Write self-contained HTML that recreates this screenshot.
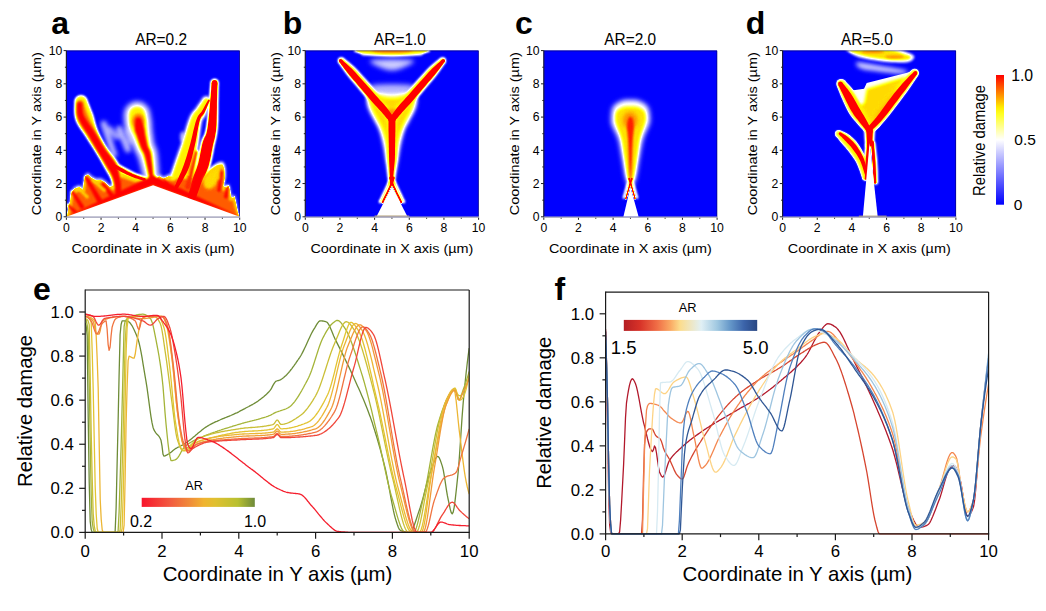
<!DOCTYPE html><html><head><meta charset="utf-8"><style>html,body{margin:0;padding:0;background:#fff;}svg{display:block;}text{font-family:"Liberation Sans",sans-serif;}</style></head><body>
<svg width="1046" height="611" viewBox="0 0 1046 611">
<rect width="1046" height="611" fill="#fff"/>
<defs>
<filter id="cm" filterUnits="userSpaceOnUse" x="0" y="0" width="1046" height="611" color-interpolation-filters="sRGB"><feGaussianBlur stdDeviation="0.6"/><feComponentTransfer><feFuncR type="table" tableValues="0.000 0.050 0.100 0.150 0.200 0.250 0.300 0.350 0.400 0.450 0.500 0.550 0.600 0.650 0.700 0.750 0.800 0.850 0.900 0.950 1.000 1.000 1.000 1.000 1.000 1.000 1.000 1.000 1.000 1.000 1.000 1.000 1.000 1.000 1.000 1.000 1.000 1.000 1.000 1.000 1.000"/><feFuncG type="table" tableValues="0.000 0.050 0.100 0.150 0.200 0.250 0.300 0.350 0.400 0.450 0.500 0.550 0.600 0.650 0.700 0.750 0.800 0.850 0.900 0.950 1.000 1.000 1.000 1.000 1.000 1.000 1.000 1.000 1.000 1.000 0.926 0.833 0.741 0.648 0.556 0.463 0.370 0.278 0.185 0.093 0.000"/><feFuncB type="table" tableValues="1.000 1.000 1.000 1.000 1.000 1.000 1.000 1.000 1.000 1.000 1.000 1.000 1.000 1.000 1.000 1.000 1.000 1.000 1.000 1.000 1.000 0.891 0.783 0.674 0.565 0.457 0.348 0.239 0.130 0.022 0.000 0.000 0.000 0.000 0.000 0.000 0.000 0.000 0.000 0.000 0.000"/></feComponentTransfer></filter>
<filter id="b0_6" filterUnits="userSpaceOnUse" x="0" y="0" width="1046" height="611" color-interpolation-filters="sRGB"><feGaussianBlur stdDeviation="0.6"/></filter>
<filter id="b0_7" filterUnits="userSpaceOnUse" x="0" y="0" width="1046" height="611" color-interpolation-filters="sRGB"><feGaussianBlur stdDeviation="0.7"/></filter>
<filter id="b0_8" filterUnits="userSpaceOnUse" x="0" y="0" width="1046" height="611" color-interpolation-filters="sRGB"><feGaussianBlur stdDeviation="0.8"/></filter>
<filter id="b0_9" filterUnits="userSpaceOnUse" x="0" y="0" width="1046" height="611" color-interpolation-filters="sRGB"><feGaussianBlur stdDeviation="0.9"/></filter>
<filter id="b1" filterUnits="userSpaceOnUse" x="0" y="0" width="1046" height="611" color-interpolation-filters="sRGB"><feGaussianBlur stdDeviation="1"/></filter>
<filter id="b1_0" filterUnits="userSpaceOnUse" x="0" y="0" width="1046" height="611" color-interpolation-filters="sRGB"><feGaussianBlur stdDeviation="1.0"/></filter>
<filter id="b1_2" filterUnits="userSpaceOnUse" x="0" y="0" width="1046" height="611" color-interpolation-filters="sRGB"><feGaussianBlur stdDeviation="1.2"/></filter>
<filter id="b1_3" filterUnits="userSpaceOnUse" x="0" y="0" width="1046" height="611" color-interpolation-filters="sRGB"><feGaussianBlur stdDeviation="1.3"/></filter>
<filter id="b1_4" filterUnits="userSpaceOnUse" x="0" y="0" width="1046" height="611" color-interpolation-filters="sRGB"><feGaussianBlur stdDeviation="1.4"/></filter>
<filter id="b1_5" filterUnits="userSpaceOnUse" x="0" y="0" width="1046" height="611" color-interpolation-filters="sRGB"><feGaussianBlur stdDeviation="1.5"/></filter>
<filter id="b1_6" filterUnits="userSpaceOnUse" x="0" y="0" width="1046" height="611" color-interpolation-filters="sRGB"><feGaussianBlur stdDeviation="1.6"/></filter>
<filter id="b1_8" filterUnits="userSpaceOnUse" x="0" y="0" width="1046" height="611" color-interpolation-filters="sRGB"><feGaussianBlur stdDeviation="1.8"/></filter>
<filter id="b2_0" filterUnits="userSpaceOnUse" x="0" y="0" width="1046" height="611" color-interpolation-filters="sRGB"><feGaussianBlur stdDeviation="2.0"/></filter>
<filter id="b2_2" filterUnits="userSpaceOnUse" x="0" y="0" width="1046" height="611" color-interpolation-filters="sRGB"><feGaussianBlur stdDeviation="2.2"/></filter>
<filter id="b2_5" filterUnits="userSpaceOnUse" x="0" y="0" width="1046" height="611" color-interpolation-filters="sRGB"><feGaussianBlur stdDeviation="2.5"/></filter>
<filter id="b2_6" filterUnits="userSpaceOnUse" x="0" y="0" width="1046" height="611" color-interpolation-filters="sRGB"><feGaussianBlur stdDeviation="2.6"/></filter>
<filter id="b3_0" filterUnits="userSpaceOnUse" x="0" y="0" width="1046" height="611" color-interpolation-filters="sRGB"><feGaussianBlur stdDeviation="3.0"/></filter>
<filter id="b3_2" filterUnits="userSpaceOnUse" x="0" y="0" width="1046" height="611" color-interpolation-filters="sRGB"><feGaussianBlur stdDeviation="3.2"/></filter>
<linearGradient id="cbar" x1="0" y1="0" x2="0" y2="1"><stop offset="0.000" stop-color="rgb(255,0,0)"/><stop offset="0.050" stop-color="rgb(255,47,0)"/><stop offset="0.100" stop-color="rgb(255,94,0)"/><stop offset="0.150" stop-color="rgb(255,141,0)"/><stop offset="0.200" stop-color="rgb(255,188,0)"/><stop offset="0.250" stop-color="rgb(255,236,0)"/><stop offset="0.300" stop-color="rgb(255,255,33)"/><stop offset="0.350" stop-color="rgb(255,255,88)"/><stop offset="0.400" stop-color="rgb(255,255,144)"/><stop offset="0.450" stop-color="rgb(255,255,199)"/><stop offset="0.500" stop-color="rgb(255,255,255)"/><stop offset="0.550" stop-color="rgb(229,229,255)"/><stop offset="0.600" stop-color="rgb(203,203,255)"/><stop offset="0.650" stop-color="rgb(178,178,255)"/><stop offset="0.700" stop-color="rgb(152,152,255)"/><stop offset="0.750" stop-color="rgb(127,127,255)"/><stop offset="0.800" stop-color="rgb(101,101,255)"/><stop offset="0.850" stop-color="rgb(76,76,255)"/><stop offset="0.900" stop-color="rgb(50,50,255)"/><stop offset="0.950" stop-color="rgb(25,25,255)"/><stop offset="1.000" stop-color="rgb(0,0,255)"/></linearGradient>
</defs>
<clipPath id="clip0"><rect x="66.4" y="50.6" width="173.3" height="166.20000000000002"/></clipPath>
<g clip-path="url(#clip0)">
<rect x="66.4" y="50.6" width="173.3" height="166.20000000000002" fill="#0000ff"/>
<g filter="url(#cm)">
<rect x="54.400000000000006" y="38.6" width="197.3" height="190.20000000000002" fill="#000"/>
<g filter="url(#b2_0)"><path d="M100.8,124.7 L102.5,129.8 L104.3,134.9 L106.0,140.1 L107.7,145.2 L109.5,150.3 L111.2,155.4 L116.9,153.5 L115.2,148.4 L113.5,143.3 L111.7,138.1 L110.0,133.0 L108.3,127.9 L106.5,122.8Z" fill="rgb(92,92,92)"/><circle cx="103.7" cy="123.7" r="3.0" fill="rgb(92,92,92)"/><circle cx="114.1" cy="154.5" r="3.0" fill="rgb(92,92,92)"/><path d="M107.7,130.4 L108.9,131.8 L110.0,133.1 L111.2,134.5 L112.4,135.9 L113.5,137.3 L114.7,138.7 L118.7,135.4 L117.5,134.0 L116.3,132.6 L115.2,131.2 L114.0,129.8 L112.9,128.4 L111.7,127.0Z" fill="rgb(84,84,84)"/><circle cx="109.7" cy="128.7" r="2.6" fill="rgb(84,84,84)"/><circle cx="116.7" cy="137.0" r="2.6" fill="rgb(84,84,84)"/><path d="M116.5,129.9 L117.9,133.3 L119.3,136.8 L120.8,140.3 L122.2,143.7 L123.7,147.2 L125.1,150.7 L130.7,148.3 L129.3,144.9 L127.8,141.4 L126.4,137.9 L124.9,134.5 L123.5,131.0 L122.1,127.5Z" fill="rgb(94,94,94)"/><circle cx="119.3" cy="128.7" r="3.0" fill="rgb(94,94,94)"/><circle cx="127.9" cy="149.5" r="3.0" fill="rgb(94,94,94)"/><path d="M125.4,131.1 L126.0,133.1 L126.6,135.0 L127.2,136.9 L127.7,138.9 L128.3,140.8 L128.9,142.8 L133.9,141.3 L133.3,139.3 L132.7,137.4 L132.1,135.5 L131.6,133.5 L131.0,131.6 L130.4,129.6Z" fill="rgb(76,76,76)"/><circle cx="127.9" cy="130.4" r="2.6" fill="rgb(76,76,76)"/><circle cx="131.4" cy="142.0" r="2.6" fill="rgb(76,76,76)"/></g>
<g filter="url(#b1_5)"><ellipse cx="182.5" cy="137.0" rx="2.6" ry="5.8" fill="rgb(84,84,84)"/><path d="M193.6,145.0 L192.7,148.1 L191.9,151.1 L191.0,154.2 L190.1,157.2 L189.2,160.2 L188.3,163.3 L190.6,163.9 L191.4,160.9 L192.3,157.8 L193.1,154.8 L194.0,151.7 L194.8,148.7 L195.6,145.6Z" fill="rgb(115,115,115)"/><circle cx="194.6" cy="145.3" r="1.0" fill="rgb(115,115,115)"/><circle cx="189.4" cy="163.6" r="1.2" fill="rgb(115,115,115)"/></g>
<g filter="url(#b1_6)"><polygon points="66.4,216.8 67.3,211.8 68.5,205.2 69.9,200.2 70.7,192.7 74.2,186.9 79.4,185.2 82.9,187.7 83.7,180.2 85.1,174.4 88.1,172.8 91.5,176.1 95.9,178.6 101.1,178.2 105.4,181.1 109.7,185.2 114.1,183.6 120.1,171.1 128.8,174.4 135.7,176.6 142.7,176.9 147.9,178.6 154.8,178.6 159.1,174.4 163.4,176.9 168.6,174.4 173.8,175.2 179.0,171.9 187.7,173.6 198.1,180.2 203.3,176.9 210.2,168.6 217.2,163.6 222.4,162.8 224.4,166.9 225.0,176.9 223.2,184.4 226.7,186.1 228.4,183.6 230.2,188.5 231.0,195.2 233.1,196.0 234.5,194.4 236.2,201.8 238.0,211.0 239.7,216.0 239.7,216.8 153.1,191.9" fill="rgb(110,110,110)"/></g>
<g filter="url(#b0_9)"><path d="M74.5,102.8 L74.5,104.5 L74.3,106.8 L74.3,109.8 L74.4,113.1 L74.8,116.5 L75.6,119.9 L76.9,123.1 L78.5,126.0 L80.3,128.8 L82.2,131.5 L84.1,134.2 L85.9,136.9 L87.6,139.6 L89.4,142.4 L91.2,145.2 L93.0,148.0 L94.7,150.8 L96.4,153.5 L98.2,156.4 L99.9,159.3 L101.5,162.2 L103.0,164.9 L104.4,167.4 L105.6,169.6 L106.7,171.6 L107.8,173.4 L108.8,175.1 L109.7,176.7 L110.4,178.3 L111.1,180.0 L111.6,181.8 L112.1,184.1 L112.5,186.4 L112.8,188.7 L113.0,190.7 L113.2,192.2 L123.6,191.5 L123.6,190.1 L123.6,188.1 L123.6,185.6 L123.5,182.8 L123.3,179.9 L122.9,177.2 L122.4,174.6 L121.8,172.3 L121.1,169.9 L120.3,167.5 L119.3,165.1 L118.0,162.6 L116.4,160.0 L114.5,157.4 L112.5,154.8 L110.4,152.2 L108.5,149.7 L106.7,147.1 L105.1,144.4 L103.5,141.7 L101.9,138.9 L100.4,136.1 L99.1,133.3 L97.9,130.5 L96.8,127.7 L95.8,124.7 L95.0,121.9 L94.3,119.1 L93.6,116.5 L92.9,114.2 L92.0,112.0 L91.0,109.5 L90.0,106.8 L89.0,104.3 L88.1,102.1 L87.4,100.4Z" fill="rgb(115,115,115)"/><circle cx="81.0" cy="101.6" r="6.6" fill="rgb(115,115,115)"/><circle cx="118.4" cy="191.9" r="5.2" fill="rgb(115,115,115)"/><path d="M111.4,168.4 L112.5,169.1 L114.1,170.0 L115.9,171.1 L118.0,172.2 L120.0,173.3 L121.9,174.3 L123.7,175.2 L125.5,176.0 L127.3,176.9 L129.1,177.7 L130.9,178.4 L132.8,179.1 L134.8,179.8 L136.9,180.4 L138.9,181.0 L140.8,181.5 L142.4,181.9 L143.5,182.2 L145.2,176.6 L144.1,176.2 L142.5,175.7 L140.7,175.1 L138.8,174.4 L136.9,173.7 L135.2,173.0 L133.6,172.3 L132.0,171.5 L130.3,170.6 L128.7,169.7 L127.0,168.8 L125.3,167.9 L123.5,166.9 L121.5,165.8 L119.5,164.7 L117.7,163.6 L116.1,162.8 L115.0,162.1Z" fill="rgb(115,115,115)"/><circle cx="113.2" cy="165.3" r="3.6" fill="rgb(115,115,115)"/><circle cx="144.4" cy="179.4" r="2.9" fill="rgb(115,115,115)"/></g>
<g filter="url(#b2_6)"><path d="M124.2,116.0 L124.2,117.0 L124.2,118.5 L124.3,120.4 L124.4,122.5 L124.7,124.8 L125.1,127.0 L125.7,129.1 L126.4,131.0 L127.2,132.7 L128.1,134.4 L128.9,136.0 L129.6,137.6 L130.4,139.4 L131.3,141.5 L132.1,143.7 L133.0,146.0 L133.9,148.2 L134.8,150.3 L135.8,152.5 L136.8,154.3 L137.4,155.3 L137.6,155.5 L137.8,155.9 L138.2,156.9 L138.9,159.2 L139.8,162.3 L140.7,165.8 L141.6,169.5 L142.4,172.8 L143.0,175.5 L143.5,177.6 L143.9,179.2 L144.2,180.5 L144.4,181.5 L144.6,182.4 L144.7,183.1 L159.6,180.7 L159.6,180.0 L159.5,179.2 L159.4,178.1 L159.3,176.7 L159.1,175.0 L158.9,173.0 L158.7,170.3 L158.5,166.9 L158.2,163.1 L157.9,159.2 L157.6,155.6 L157.1,152.4 L156.5,149.6 L155.6,147.2 L154.7,145.5 L154.2,144.6 L154.1,144.3 L154.0,143.6 L153.7,142.2 L153.4,140.2 L153.1,138.1 L152.8,135.8 L152.5,133.6 L152.2,131.5 L152.0,129.5 L151.8,127.7 L151.7,126.0 L151.7,124.6 L151.6,123.3 L151.5,122.1 L151.4,120.8 L151.1,119.2 L150.8,117.5 L150.5,115.9 L150.2,114.3 L150.0,113.2Z" fill="rgb(115,115,115)"/><circle cx="137.1" cy="114.6" r="13.0" fill="rgb(115,115,115)"/><circle cx="152.2" cy="181.9" r="7.5" fill="rgb(115,115,115)"/></g>
<g filter="url(#b0_8)"><path d="M210.4,82.8 L210.3,84.5 L210.1,86.8 L209.9,89.5 L209.7,92.5 L209.4,95.8 L209.1,99.2 L208.8,103.0 L208.4,107.3 L208.0,111.8 L207.5,116.2 L207.1,120.3 L206.7,123.6 L206.4,126.1 L206.1,128.1 L205.8,129.7 L205.5,131.1 L205.1,132.5 L204.7,133.9 L204.2,135.1 L203.8,136.0 L203.2,137.0 L202.5,138.5 L201.7,140.4 L200.9,142.9 L200.2,145.9 L199.5,149.3 L198.8,153.0 L198.1,156.7 L197.4,160.1 L196.6,163.0 L195.9,165.5 L195.1,167.8 L194.2,170.2 L193.2,172.6 L192.2,175.3 L191.3,178.1 L190.4,181.2 L189.5,184.5 L188.7,187.8 L187.9,190.9 L187.3,193.4 L186.8,195.3 L197.3,198.4 L197.9,196.6 L198.8,194.1 L199.9,191.2 L201.0,188.1 L202.1,185.1 L203.2,182.4 L204.2,180.1 L205.3,177.9 L206.5,175.5 L207.7,172.9 L208.9,170.1 L210.0,166.9 L210.9,163.3 L211.8,159.5 L212.6,155.7 L213.3,152.0 L213.9,148.7 L214.4,146.1 L214.8,144.3 L215.1,142.9 L215.4,141.7 L215.7,140.3 L216.1,138.7 L216.5,136.8 L216.8,135.0 L217.1,133.4 L217.3,131.6 L217.6,129.6 L217.8,127.3 L217.9,124.5 L218.1,121.0 L218.1,116.8 L218.2,112.3 L218.2,107.8 L218.2,103.5 L218.3,99.7 L218.4,96.3 L218.4,93.0 L218.5,89.9 L218.6,87.2 L218.7,84.9 L218.7,83.2Z" fill="rgb(115,115,115)"/><circle cx="214.6" cy="83.0" r="4.2" fill="rgb(115,115,115)"/><circle cx="192.0" cy="196.9" r="5.5" fill="rgb(115,115,115)"/></g>
<g filter="url(#b1_4)"><path d="M202.2,98.5 L201.4,99.7 L200.3,101.4 L199.0,103.3 L197.6,105.3 L196.3,107.2 L195.3,108.6 L194.7,109.4 L194.1,109.9 L193.1,110.9 L191.7,112.7 L190.3,115.0 L189.0,117.9 L187.7,121.5 L186.4,125.6 L185.1,129.9 L183.8,134.4 L182.6,138.6 L181.4,142.4 L180.2,146.0 L179.0,149.5 L177.8,152.8 L176.7,156.0 L175.6,159.0 L174.7,161.6 L173.9,164.0 L173.1,166.2 L172.4,168.4 L171.6,170.6 L170.9,172.7 L170.2,174.7 L169.7,176.5 L169.1,178.3 L168.7,179.9 L168.3,181.3 L167.9,182.6 L167.6,183.5 L180.1,190.2 L180.7,189.5 L181.6,188.5 L182.6,187.3 L183.7,185.8 L185.0,184.2 L186.1,182.4 L187.3,180.7 L188.5,178.8 L189.9,176.6 L191.3,174.1 L192.6,171.4 L193.8,168.3 L194.8,165.0 L195.7,161.6 L196.5,158.0 L197.2,154.3 L197.9,150.5 L198.6,146.6 L199.2,142.3 L199.8,137.7 L200.4,133.1 L200.9,128.8 L201.5,125.0 L202.0,122.2 L202.5,120.5 L202.8,119.8 L203.1,119.3 L203.8,118.4 L205.0,116.9 L206.1,114.9 L207.0,112.7 L207.8,110.3 L208.6,107.9 L209.3,105.6 L209.9,103.8 L210.3,102.4Z" fill="rgb(115,115,115)"/><circle cx="206.3" cy="100.5" r="4.5" fill="rgb(115,115,115)"/><circle cx="173.8" cy="186.9" r="7.1" fill="rgb(115,115,115)"/></g>
<g filter="url(#b1_6)"><path d="M194.6,183.6 C194.6,179.7 204.8,173.6 208.5,170.3 C212.3,166.9 214.9,165.0 217.2,163.6 C219.5,162.2 221.1,161.4 222.4,162.0 C223.7,162.5 224.5,164.2 225.0,166.9 C225.4,169.7 225.7,174.7 225.0,178.6 C224.2,182.5 223.4,187.7 220.6,190.2 C217.9,192.7 212.8,194.6 208.5,193.5 C204.2,192.4 194.6,187.4 194.6,183.6Z" fill="rgb(115,115,115)"/></g>
<g filter="url(#b1_1)"><polygon points="66.4,218.5 67.3,213.5 68.5,206.8 69.9,201.8 70.7,194.4 74.2,188.5 79.4,186.9 82.9,189.4 83.7,181.9 85.1,176.1 88.1,174.4 91.5,177.7 95.9,180.2 101.1,179.9 105.4,182.7 109.7,186.9 114.1,185.2 120.1,172.8 128.8,176.1 135.7,178.2 142.7,178.6 147.9,180.2 154.8,180.2 159.1,176.1 163.4,178.6 168.6,176.1 173.8,176.9 179.0,173.6 187.7,175.2 198.1,181.9 203.3,178.6 210.2,170.3 217.2,165.3 222.4,164.4 224.4,168.6 225.0,178.6 223.2,186.1 226.7,187.7 228.4,185.2 230.2,190.2 231.0,196.9 233.1,197.7 234.5,196.0 236.2,203.5 238.0,212.6 239.7,217.6 239.7,218.5 153.1,191.9" fill="rgb(199,199,199)"/></g>
<g filter="url(#b1_0)"><path d="M75.3,102.7 L75.3,104.3 L75.2,106.7 L75.1,109.6 L75.2,112.9 L75.6,116.3 L76.4,119.7 L77.7,122.7 L79.3,125.6 L81.1,128.4 L83.0,131.1 L84.9,133.8 L86.7,136.4 L88.4,139.2 L90.2,142.0 L92.0,144.8 L93.7,147.6 L95.5,150.3 L97.2,153.1 L98.9,155.9 L100.6,158.8 L102.2,161.7 L103.7,164.4 L105.1,166.9 L106.4,169.2 L107.5,171.2 L108.6,173.1 L109.6,174.8 L110.5,176.4 L111.3,178.1 L111.9,179.8 L112.5,181.7 L113.0,184.0 L113.3,186.4 L113.6,188.7 L113.9,190.7 L114.1,192.2 L122.7,191.6 L122.7,190.1 L122.7,188.1 L122.7,185.6 L122.6,182.9 L122.4,180.1 L122.1,177.4 L121.6,174.9 L121.0,172.6 L120.3,170.2 L119.5,167.9 L118.5,165.5 L117.3,163.1 L115.6,160.5 L113.8,157.8 L111.7,155.3 L109.7,152.7 L107.7,150.1 L106.0,147.6 L104.3,144.9 L102.7,142.1 L101.2,139.3 L99.7,136.5 L98.3,133.8 L97.1,131.0 L96.0,128.1 L95.1,125.1 L94.2,122.2 L93.5,119.4 L92.8,116.8 L92.1,114.5 L91.2,112.2 L90.2,109.7 L89.1,107.0 L88.1,104.5 L87.2,102.2 L86.6,100.6Z" fill="rgb(189,189,189)"/><circle cx="81.0" cy="101.6" r="5.7" fill="rgb(189,189,189)"/><circle cx="118.4" cy="191.9" r="4.3" fill="rgb(189,189,189)"/><path d="M111.7,167.8 L112.9,168.5 L114.4,169.4 L116.3,170.5 L118.3,171.6 L120.3,172.7 L122.2,173.7 L124.0,174.6 L125.8,175.4 L127.6,176.3 L129.4,177.0 L131.2,177.8 L133.0,178.5 L135.0,179.2 L137.1,179.8 L139.1,180.4 L141.0,180.9 L142.6,181.3 L143.7,181.6 L145.0,177.2 L143.9,176.9 L142.4,176.4 L140.5,175.8 L138.6,175.1 L136.7,174.4 L134.9,173.7 L133.3,172.9 L131.7,172.1 L130.0,171.2 L128.3,170.3 L126.7,169.4 L125.0,168.5 L123.2,167.5 L121.2,166.4 L119.2,165.3 L117.4,164.2 L115.8,163.4 L114.6,162.7Z" fill="rgb(189,189,189)"/><circle cx="113.2" cy="165.3" r="2.9" fill="rgb(189,189,189)"/><circle cx="144.4" cy="179.4" r="2.3" fill="rgb(189,189,189)"/></g>
<g filter="url(#b1_6)"><path d="M128.9,115.5 L129.0,116.5 L129.0,118.0 L129.0,119.9 L129.2,121.9 L129.4,124.1 L129.8,126.2 L130.4,128.1 L131.1,129.8 L131.8,131.5 L132.6,133.1 L133.5,134.7 L134.2,136.3 L135.0,138.2 L135.9,140.3 L136.7,142.5 L137.6,144.7 L138.5,146.8 L139.3,148.8 L140.2,150.6 L141.0,152.0 L141.6,152.9 L141.9,153.5 L142.3,154.3 L142.9,155.8 L143.6,158.2 L144.5,161.5 L145.4,165.1 L146.3,168.7 L147.1,172.1 L147.7,174.8 L148.2,176.8 L148.6,178.4 L148.9,179.8 L149.1,180.8 L149.3,181.6 L149.4,182.3 L154.9,181.5 L154.9,180.8 L154.8,179.9 L154.7,178.8 L154.6,177.5 L154.4,175.8 L154.2,173.7 L154.0,171.0 L153.8,167.6 L153.5,163.8 L153.2,160.0 L152.9,156.5 L152.5,153.5 L151.9,151.1 L151.2,149.2 L150.5,147.8 L150.0,146.9 L149.7,146.3 L149.5,145.2 L149.1,143.6 L148.8,141.5 L148.5,139.3 L148.2,137.1 L147.9,134.8 L147.6,132.7 L147.4,130.8 L147.2,129.0 L147.1,127.3 L147.0,125.8 L147.0,124.3 L146.8,123.0 L146.6,121.5 L146.4,119.8 L146.1,118.0 L145.8,116.3 L145.5,114.8 L145.3,113.7Z" fill="rgb(189,189,189)"/><circle cx="137.1" cy="114.6" r="8.2" fill="rgb(189,189,189)"/><circle cx="152.2" cy="181.9" r="2.8" fill="rgb(189,189,189)"/></g>
<g filter="url(#b1)"><path d="M211.1,82.8 L211.0,84.5 L210.8,86.8 L210.6,89.5 L210.4,92.6 L210.1,95.9 L209.8,99.3 L209.5,103.0 L209.1,107.3 L208.7,111.9 L208.2,116.3 L207.8,120.3 L207.4,123.6 L207.1,126.2 L206.7,128.2 L206.5,129.8 L206.1,131.2 L205.8,132.6 L205.4,134.1 L204.9,135.3 L204.4,136.2 L203.8,137.3 L203.1,138.7 L202.3,140.6 L201.6,143.0 L200.9,146.0 L200.2,149.5 L199.5,153.1 L198.7,156.8 L198.0,160.3 L197.3,163.2 L196.6,165.7 L195.7,168.1 L194.8,170.4 L193.9,172.9 L192.9,175.5 L191.9,178.3 L191.0,181.4 L190.2,184.7 L189.3,188.0 L188.6,191.1 L187.9,193.6 L187.5,195.5 L196.6,198.2 L197.3,196.4 L198.1,193.9 L199.2,191.0 L200.3,187.9 L201.5,184.8 L202.5,182.1 L203.6,179.8 L204.7,177.6 L205.8,175.2 L207.0,172.7 L208.2,169.8 L209.3,166.7 L210.3,163.2 L211.1,159.4 L211.9,155.5 L212.6,151.9 L213.2,148.6 L213.7,146.0 L214.1,144.1 L214.4,142.7 L214.7,141.4 L215.1,140.1 L215.4,138.5 L215.8,136.6 L216.1,134.9 L216.4,133.2 L216.6,131.5 L216.9,129.6 L217.1,127.3 L217.2,124.5 L217.4,121.0 L217.4,116.8 L217.5,112.3 L217.5,107.8 L217.5,103.5 L217.6,99.7 L217.7,96.3 L217.8,93.0 L217.8,89.9 L217.9,87.2 L218.0,84.9 L218.0,83.2Z" fill="rgb(189,189,189)"/><circle cx="214.6" cy="83.0" r="3.5" fill="rgb(189,189,189)"/><circle cx="192.0" cy="196.9" r="4.8" fill="rgb(189,189,189)"/><path d="M203.9,99.3 L203.1,100.5 L202.0,102.2 L200.7,104.1 L199.3,106.1 L198.0,108.1 L197.0,109.6 L196.2,110.5 L195.5,111.1 L194.5,112.1 L193.3,113.7 L192.0,115.8 L190.8,118.5 L189.6,122.0 L188.3,126.0 L187.0,130.3 L185.7,134.8 L184.4,139.0 L183.2,142.9 L182.0,146.4 L180.8,150.0 L179.6,153.3 L178.5,156.5 L177.4,159.5 L176.5,162.2 L175.6,164.7 L174.8,167.0 L174.1,169.2 L173.3,171.4 L172.6,173.5 L171.9,175.5 L171.4,177.4 L170.8,179.1 L170.4,180.8 L169.9,182.2 L169.6,183.5 L169.3,184.4 L178.4,189.3 L179.0,188.6 L179.9,187.6 L180.9,186.4 L182.1,185.0 L183.3,183.3 L184.4,181.6 L185.6,179.9 L186.8,178.0 L188.2,175.8 L189.5,173.4 L190.8,170.7 L192.0,167.7 L193.0,164.4 L193.9,161.0 L194.6,157.5 L195.3,153.8 L196.0,150.0 L196.7,146.1 L197.4,141.9 L198.0,137.3 L198.5,132.7 L199.1,128.4 L199.6,124.5 L200.2,121.6 L200.7,119.8 L201.2,118.7 L201.7,118.0 L202.4,117.2 L203.4,115.8 L204.5,113.9 L205.3,111.8 L206.1,109.5 L206.9,107.1 L207.6,104.8 L208.2,102.9 L208.6,101.6Z" fill="rgb(189,189,189)"/><circle cx="206.3" cy="100.5" r="2.6" fill="rgb(189,189,189)"/><circle cx="173.8" cy="186.9" r="5.2" fill="rgb(189,189,189)"/></g>
<g filter="url(#b1_2)"><path d="M196.4,183.6 C196.4,180.1 205.0,174.8 208.5,171.9 C212.0,169.0 214.9,167.4 217.2,166.1 C219.4,164.9 221.0,164.0 222.0,164.4 C223.0,164.9 223.0,166.2 223.2,168.6 C223.4,171.0 223.8,175.0 223.2,178.6 C222.7,182.2 222.2,187.9 219.8,190.2 C217.3,192.6 212.4,193.8 208.5,192.7 C204.6,191.6 196.4,187.0 196.4,183.6Z" fill="rgb(199,199,199)"/><path d="M76.8,104.2 L76.8,105.6 L76.6,107.5 L76.5,110.0 L76.5,112.8 L76.9,115.9 L77.7,119.0 L79.0,122.0 L80.6,124.9 L82.4,127.7 L84.3,130.5 L86.2,133.3 L88.0,135.9 L89.6,138.7 L91.3,141.4 L93.1,144.2 L94.8,146.9 L96.5,149.7 L98.2,152.4 L100.0,155.3 L101.9,158.4 L103.8,161.5 L105.6,164.4 L107.1,166.8 L108.2,168.5 L115.4,163.7 L114.3,162.0 L112.7,159.7 L110.8,157.0 L108.7,154.0 L106.7,151.0 L105.0,148.2 L103.4,145.5 L101.8,142.8 L100.3,140.0 L98.8,137.1 L97.3,134.3 L95.8,131.5 L94.2,128.5 L92.7,125.5 L91.2,122.6 L89.9,119.9 L88.7,117.3 L87.7,115.2 L86.9,113.2 L86.1,111.0 L85.3,108.8 L84.7,106.7 L84.1,104.8 L83.7,103.3Z" fill="rgb(224,224,224)"/><circle cx="80.3" cy="103.8" r="3.5" fill="rgb(224,224,224)"/><circle cx="111.8" cy="166.1" r="4.3" fill="rgb(224,224,224)"/></g>
<g filter="url(#b1_8)"><ellipse cx="138.3" cy="121.2" rx="6.1" ry="7.5" fill="rgb(224,224,224)"/></g>
<g filter="url(#b1_3)"><polygon points="67.3,216.8 68.5,222.1 69.3,217.1 70.6,210.5 71.9,205.5 72.8,198.0 76.3,192.2 81.5,190.5 84.9,193.0 85.8,185.6 87.2,179.7 90.1,178.1 93.6,181.4 97.9,183.9 103.1,183.6 107.5,186.4 111.8,190.5 116.1,188.9 120.1,176.9 128.8,180.2 135.7,182.4 142.7,182.7 147.9,184.4 154.8,184.4 159.1,180.2 163.4,182.7 168.6,180.2 173.8,181.1 179.0,177.7 187.7,179.4 198.1,186.1 201.6,182.2 208.5,173.9 215.4,168.9 220.6,168.1 222.7,172.3 223.2,182.2 221.5,189.7 225.0,191.4 226.7,188.9 228.4,193.9 229.3,200.5 231.4,201.3 232.8,199.7 234.5,207.2 238.0,216.8" fill="rgb(230,230,230)"/></g>
<g filter="url(#b0_8)"><path d="M77.0,104.8 L77.0,106.0 L77.0,107.8 L77.0,110.0 L77.1,112.6 L77.6,115.4 L78.4,118.2 L79.7,121.1 L81.3,124.0 L83.1,126.9 L85.0,129.9 L86.9,132.7 L88.6,135.5 L90.2,138.3 L91.8,141.0 L93.4,143.8 L95.0,146.6 L96.7,149.4 L98.3,152.3 L100.0,155.1 L101.8,158.0 L103.5,160.8 L105.1,163.5 L106.6,166.0 L107.9,168.3 L109.0,170.3 L110.0,172.2 L110.9,174.0 L111.7,175.7 L112.5,177.5 L113.1,179.4 L113.7,181.5 L114.2,183.9 L114.6,186.3 L114.9,188.7 L115.2,190.7 L115.4,192.2 L121.4,191.6 L121.3,190.1 L121.2,188.1 L121.1,185.7 L120.9,183.0 L120.6,180.3 L120.2,177.7 L119.7,175.4 L119.2,173.2 L118.7,171.0 L117.9,168.7 L117.0,166.4 L115.8,163.9 L114.2,161.3 L112.3,158.7 L110.3,156.1 L108.3,153.5 L106.3,150.9 L104.5,148.4 L102.8,145.7 L101.1,143.0 L99.5,140.3 L97.9,137.5 L96.2,134.7 L94.5,131.9 L92.6,129.0 L90.6,126.1 L88.7,123.3 L86.9,120.6 L85.3,118.1 L84.2,115.9 L83.4,113.9 L82.9,111.7 L82.6,109.6 L82.4,107.6 L82.3,105.8 L82.2,104.4Z" fill="rgb(255,255,255)"/><circle cx="79.6" cy="104.6" r="2.6" fill="rgb(255,255,255)"/><circle cx="118.4" cy="191.9" r="3.0" fill="rgb(255,255,255)"/></g>
<g filter="url(#b0_7)"><path d="M112.3,166.8 L113.4,167.5 L115.0,168.4 L116.9,169.4 L118.9,170.6 L120.9,171.7 L122.8,172.7 L124.5,173.5 L126.3,174.4 L128.1,175.3 L129.8,176.1 L131.6,176.8 L133.4,177.5 L135.3,178.2 L137.4,178.8 L139.4,179.4 L141.3,180.0 L142.9,180.4 L144.0,180.7 L144.8,178.1 L143.6,177.7 L142.1,177.3 L140.3,176.7 L138.3,176.0 L136.3,175.3 L134.6,174.6 L132.9,173.9 L131.2,173.1 L129.5,172.2 L127.8,171.4 L126.1,170.4 L124.4,169.5 L122.6,168.5 L120.6,167.4 L118.6,166.3 L116.8,165.3 L115.2,164.4 L114.1,163.7Z" fill="rgb(255,255,255)"/><circle cx="113.2" cy="165.3" r="1.8" fill="rgb(255,255,255)"/><circle cx="144.4" cy="179.4" r="1.4" fill="rgb(255,255,255)"/></g>
<g filter="url(#b0_9)"><path d="M135.3,120.8 L135.2,121.8 L135.1,123.1 L135.0,124.7 L134.8,126.4 L134.8,128.1 L134.8,129.6 L135.0,130.7 L135.2,131.6 L135.5,132.5 L135.9,133.3 L136.3,134.4 L136.7,135.6 L137.3,137.3 L138.0,139.4 L138.8,141.7 L139.6,144.0 L140.4,146.2 L141.1,148.1 L141.9,149.8 L142.6,151.1 L143.2,152.0 L143.6,152.8 L144.1,153.7 L144.6,155.4 L145.3,157.9 L146.1,161.2 L146.8,164.9 L147.6,168.5 L148.3,171.9 L148.8,174.6 L149.3,176.6 L149.6,178.3 L149.9,179.6 L150.1,180.6 L150.3,181.5 L150.5,182.2 L153.9,181.6 L153.8,180.9 L153.8,180.1 L153.7,179.0 L153.5,177.7 L153.3,176.0 L153.1,173.9 L152.8,171.2 L152.5,167.8 L152.1,164.0 L151.6,160.3 L151.2,156.8 L150.7,153.9 L150.2,151.7 L149.5,150.0 L148.9,148.7 L148.4,147.8 L148.0,147.0 L147.7,145.9 L147.2,144.1 L146.8,141.9 L146.3,139.6 L145.8,137.3 L145.4,135.2 L145.1,133.4 L144.9,132.1 L144.7,131.0 L144.7,130.2 L144.6,129.6 L144.5,128.8 L144.2,127.9 L143.8,126.7 L143.3,125.2 L142.7,123.7 L142.2,122.2 L141.7,120.9 L141.3,120.0Z" fill="rgb(255,255,255)"/><circle cx="138.3" cy="120.4" r="3.0" fill="rgb(255,255,255)"/><circle cx="152.2" cy="181.9" r="1.7" fill="rgb(255,255,255)"/></g>
<g filter="url(#b0_7)"><path d="M211.6,82.9 L211.5,84.6 L211.3,86.8 L211.2,89.5 L210.9,92.6 L210.7,95.9 L210.4,99.3 L210.1,103.1 L209.7,107.4 L209.3,111.9 L208.9,116.3 L208.5,120.4 L208.1,123.7 L207.8,126.3 L207.5,128.3 L207.2,130.0 L206.9,131.4 L206.6,132.8 L206.2,134.3 L205.7,135.5 L205.2,136.5 L204.6,137.6 L204.0,139.0 L203.2,140.9 L202.5,143.3 L201.8,146.2 L201.1,149.7 L200.4,153.3 L199.7,157.0 L198.9,160.5 L198.2,163.5 L197.4,166.0 L196.6,168.4 L195.7,170.8 L194.7,173.2 L193.7,175.8 L192.7,178.6 L191.8,181.7 L190.9,184.9 L190.1,188.2 L189.3,191.3 L188.6,193.8 L188.2,195.7 L195.9,198.0 L196.6,196.2 L197.4,193.7 L198.5,190.8 L199.6,187.6 L200.7,184.6 L201.7,181.9 L202.8,179.5 L203.8,177.2 L205.0,174.9 L206.2,172.3 L207.3,169.5 L208.4,166.4 L209.3,162.9 L210.2,159.2 L211.0,155.4 L211.6,151.7 L212.3,148.4 L212.8,145.8 L213.2,143.8 L213.6,142.4 L213.9,141.1 L214.3,139.8 L214.7,138.2 L215.0,136.5 L215.3,134.7 L215.6,133.1 L215.9,131.4 L216.1,129.5 L216.3,127.2 L216.5,124.4 L216.6,120.9 L216.7,116.8 L216.8,112.3 L216.9,107.7 L216.9,103.4 L217.0,99.6 L217.1,96.2 L217.2,92.9 L217.3,89.9 L217.4,87.1 L217.5,84.9 L217.5,83.2Z" fill="rgb(255,255,255)"/><circle cx="214.6" cy="83.0" r="2.9" fill="rgb(255,255,255)"/><circle cx="192.0" cy="196.9" r="4.1" fill="rgb(255,255,255)"/><path d="M208.0,100.1 L207.4,101.3 L206.4,103.0 L205.3,105.1 L204.1,107.2 L203.0,109.3 L202.0,111.0 L201.2,112.2 L200.4,113.1 L199.5,114.1 L198.5,115.3 L197.5,117.1 L196.5,119.5 L195.4,122.8 L194.4,126.7 L193.3,131.1 L192.3,135.6 L191.2,140.0 L190.2,143.9 L189.2,147.6 L188.1,151.2 L187.1,154.7 L186.1,158.0 L185.1,161.1 L184.1,164.0 L183.2,166.6 L182.2,169.1 L181.3,171.4 L180.3,173.5 L179.4,175.6 L178.6,177.5 L177.8,179.3 L177.1,181.0 L176.4,182.6 L175.8,184.0 L175.2,185.1 L174.8,186.0 L178.0,187.7 L178.6,186.9 L179.2,185.9 L180.1,184.6 L181.0,183.1 L182.0,181.4 L183.0,179.6 L184.0,177.8 L185.0,175.8 L186.2,173.7 L187.4,171.3 L188.5,168.7 L189.6,165.9 L190.5,162.8 L191.5,159.6 L192.4,156.1 L193.2,152.5 L194.1,148.8 L194.9,145.1 L195.8,141.0 L196.6,136.5 L197.4,132.0 L198.2,127.6 L199.0,123.7 L199.8,120.6 L200.5,118.5 L201.2,117.1 L202.0,116.1 L202.8,115.2 L203.7,114.1 L204.6,112.5 L205.5,110.6 L206.5,108.4 L207.5,106.1 L208.4,104.0 L209.1,102.1 L209.7,100.9Z" fill="rgb(255,255,255)"/><circle cx="208.9" cy="100.5" r="0.9" fill="rgb(255,255,255)"/><circle cx="176.4" cy="186.9" r="1.8" fill="rgb(255,255,255)"/></g>
<g filter="url(#b0_8)"><path d="M194.7,151.6 L194.0,154.0 L193.0,157.4 L191.9,161.4 L190.7,165.7 L189.6,169.6 L188.7,173.0 L187.9,175.8 L187.2,178.5 L186.6,180.9 L186.0,183.1 L185.5,184.9 L185.2,186.2 L190.2,187.5 L190.6,186.2 L191.1,184.4 L191.7,182.3 L192.3,179.8 L193.0,177.1 L193.7,174.2 L194.4,170.8 L195.3,166.7 L196.1,162.5 L196.9,158.4 L197.6,154.9 L198.1,152.4Z" fill="rgb(242,242,242)"/><circle cx="196.4" cy="152.0" r="1.7" fill="rgb(242,242,242)"/><circle cx="187.7" cy="186.9" r="2.6" fill="rgb(242,242,242)"/></g>
<g filter="url(#b1_0)"><polygon points="66.4,216.8 153.1,175.2 239.7,216.8 153.1,185.2" fill="rgb(255,255,255)"/></g>
<g filter="url(#b1_5)"><path d="M203.3,180.2 C203.9,177.3 207.9,173.4 210.2,171.1 C212.5,168.7 215.6,166.2 217.2,166.1 C218.8,166.0 219.6,167.9 219.8,170.3 C219.9,172.6 219.0,177.5 218.0,180.2 C217.0,183.0 215.6,185.5 213.7,186.9 C211.8,188.3 208.5,189.7 206.8,188.5 C205.0,187.4 202.7,183.1 203.3,180.2Z" fill="rgb(196,196,196)"/></g>
<g filter="url(#b1_2)"><path d="M219.8,170.3 C220.4,168.7 221.9,168.3 222.4,169.4 C222.9,170.5 223.0,173.7 222.7,176.9 C222.4,180.1 221.6,186.3 220.6,188.5 C219.7,190.8 217.5,191.9 217.2,190.2 C216.8,188.5 218.1,181.9 218.6,178.6 C219.0,175.2 219.1,171.8 219.8,170.3Z" fill="rgb(224,224,224)"/></g>
<g filter="url(#b1_0)"><path d="M71.2,192.7 L72.7,195.2 L74.2,197.8 L75.7,200.3 L77.2,202.9 L78.7,205.4 L80.2,208.0 L83.8,205.7 L82.1,203.2 L80.5,200.8 L78.8,198.4 L77.1,195.9 L75.4,193.5 L73.7,191.1Z" fill="rgb(255,255,255)"/><circle cx="72.5" cy="191.9" r="1.5" fill="rgb(255,255,255)"/><circle cx="82.0" cy="206.8" r="2.2" fill="rgb(255,255,255)"/><path d="M84.8,178.7 L86.8,182.5 L88.9,186.3 L90.9,190.1 L93.0,193.9 L95.0,197.7 L97.1,201.5 L101.6,198.9 L99.3,195.2 L97.0,191.5 L94.7,187.9 L92.5,184.2 L90.2,180.5 L87.9,176.8Z" fill="rgb(255,255,255)"/><circle cx="86.3" cy="177.7" r="1.8" fill="rgb(255,255,255)"/><circle cx="99.3" cy="200.2" r="2.6" fill="rgb(255,255,255)"/><path d="M101.6,184.5 L102.9,186.5 L104.3,188.5 L105.6,190.5 L107.0,192.5 L108.4,194.5 L109.7,196.5 L113.2,193.9 L111.7,192.0 L110.1,190.2 L108.6,188.3 L107.1,186.4 L105.5,184.5 L104.0,182.7Z" fill="rgb(255,255,255)"/><circle cx="102.8" cy="183.6" r="1.5" fill="rgb(255,255,255)"/><circle cx="111.5" cy="195.2" r="2.2" fill="rgb(255,255,255)"/><path d="M67.3,206.0 L68.4,207.2 L69.5,208.4 L70.6,209.6 L71.7,210.7 L72.8,211.9 L73.9,213.1 L76.3,210.6 L75.0,209.5 L73.8,208.5 L72.6,207.4 L71.4,206.4 L70.2,205.3 L69.0,204.3Z" fill="rgb(255,255,255)"/><circle cx="68.1" cy="205.2" r="1.2" fill="rgb(255,255,255)"/><circle cx="75.1" cy="211.8" r="1.7" fill="rgb(255,255,255)"/><path d="M162.7,180.0 L163.3,180.7 L163.8,181.5 L164.3,182.2 L164.9,182.9 L165.4,183.7 L165.9,184.4 L167.9,182.7 L167.3,182.1 L166.7,181.4 L166.0,180.8 L165.4,180.1 L164.8,179.5 L164.1,178.8Z" fill="rgb(255,255,255)"/><circle cx="163.4" cy="179.4" r="0.9" fill="rgb(255,255,255)"/><circle cx="166.9" cy="183.6" r="1.3" fill="rgb(255,255,255)"/><path d="M220.3,171.8 L219.8,174.8 L219.3,177.8 L218.7,180.9 L218.2,183.9 L217.7,186.9 L217.2,190.0 L220.6,190.5 L221.0,187.4 L221.3,184.3 L221.7,181.3 L222.0,178.2 L222.4,175.2 L222.7,172.1Z" fill="rgb(255,255,255)"/><circle cx="221.5" cy="171.9" r="1.2" fill="rgb(255,255,255)"/><circle cx="218.9" cy="190.2" r="1.7" fill="rgb(255,255,255)"/><path d="M226.4,186.7 L226.0,188.3 L225.6,190.0 L225.3,191.6 L224.9,193.3 L224.5,194.9 L224.1,196.6 L227.5,197.2 L227.7,195.5 L228.0,193.8 L228.2,192.1 L228.4,190.4 L228.6,188.8 L228.8,187.1Z" fill="rgb(255,255,255)"/><circle cx="227.6" cy="186.9" r="1.2" fill="rgb(255,255,255)"/><circle cx="225.8" cy="196.9" r="1.7" fill="rgb(255,255,255)"/><path d="M77.6,189.5 L79.0,190.9 L80.5,192.3 L81.9,193.7 L83.3,195.1 L84.7,196.6 L86.1,198.0 L88.3,195.7 L86.8,194.4 L85.3,193.0 L83.9,191.7 L82.4,190.3 L80.9,189.0 L79.4,187.6Z" fill="rgb(196,196,196)"/><circle cx="78.5" cy="188.5" r="1.3" fill="rgb(196,196,196)"/><circle cx="87.2" cy="196.9" r="1.6" fill="rgb(196,196,196)"/><path d="M91.6,181.2 L93.6,182.9 L95.6,184.6 L97.6,186.3 L99.5,188.0 L101.5,189.7 L103.5,191.4 L105.5,189.0 L103.5,187.4 L101.4,185.7 L99.4,184.1 L97.3,182.5 L95.3,180.9 L93.2,179.2Z" fill="rgb(196,196,196)"/><circle cx="92.4" cy="180.2" r="1.3" fill="rgb(196,196,196)"/><circle cx="104.5" cy="190.2" r="1.6" fill="rgb(196,196,196)"/><path d="M210.8,171.5 L209.9,173.7 L208.9,175.9 L208.0,178.1 L207.1,180.3 L206.2,182.5 L205.3,184.7 L208.2,185.8 L209.1,183.6 L209.9,181.3 L210.7,179.1 L211.5,176.9 L212.4,174.6 L213.2,172.4Z" fill="rgb(196,196,196)"/><circle cx="212.0" cy="171.9" r="1.3" fill="rgb(196,196,196)"/><circle cx="206.8" cy="185.2" r="1.6" fill="rgb(196,196,196)"/><path d="M217.6,167.7 L217.4,169.5 L217.2,171.3 L217.0,173.1 L216.9,174.9 L216.7,176.7 L216.5,178.4 L219.6,178.7 L219.7,176.9 L219.8,175.1 L219.9,173.3 L220.0,171.5 L220.1,169.7 L220.2,167.9Z" fill="rgb(196,196,196)"/><circle cx="218.9" cy="167.8" r="1.3" fill="rgb(196,196,196)"/><circle cx="218.0" cy="178.6" r="1.6" fill="rgb(196,196,196)"/></g>
</g>
<polygon points="66.4,221.8 66.4,216.8 153.1,185.2 239.7,216.8 239.7,221.8" fill="#fff"/>
</g>
<path d="M66.40,50.90 H239.50 V216.80" fill="none" stroke="#000030" stroke-opacity="0.5" stroke-width="0.9"/>
<line x1="66.40" y1="50.60" x2="66.40" y2="217.30" stroke="#1a1a3a" stroke-width="1.2"/>
<line x1="65.90" y1="217.20" x2="240.20" y2="217.20" stroke="#9a9ab4" stroke-width="1.3"/>
<line x1="63.60" y1="216.80" x2="66.40" y2="216.80" stroke="#222" stroke-width="1"/>
<line x1="66.40" y1="217.80" x2="66.40" y2="219.80" stroke="#222" stroke-width="1"/>
<text x="62.20" y="221.10" font-size="12.2" text-anchor="end" fill="#000">0</text>
<text x="66.40" y="231.90" font-size="12.2" text-anchor="middle" fill="#000">0</text>
<line x1="64.90" y1="200.18" x2="66.40" y2="200.18" stroke="#222" stroke-width="1"/>
<line x1="83.73" y1="217.80" x2="83.73" y2="218.80" stroke="#222" stroke-width="1"/>
<line x1="63.60" y1="183.56" x2="66.40" y2="183.56" stroke="#222" stroke-width="1"/>
<line x1="101.06" y1="217.80" x2="101.06" y2="219.80" stroke="#222" stroke-width="1"/>
<text x="62.20" y="187.86" font-size="12.2" text-anchor="end" fill="#000">2</text>
<text x="101.06" y="231.90" font-size="12.2" text-anchor="middle" fill="#000">2</text>
<line x1="64.90" y1="166.94" x2="66.40" y2="166.94" stroke="#222" stroke-width="1"/>
<line x1="118.39" y1="217.80" x2="118.39" y2="218.80" stroke="#222" stroke-width="1"/>
<line x1="63.60" y1="150.32" x2="66.40" y2="150.32" stroke="#222" stroke-width="1"/>
<line x1="135.72" y1="217.80" x2="135.72" y2="219.80" stroke="#222" stroke-width="1"/>
<text x="62.20" y="154.62" font-size="12.2" text-anchor="end" fill="#000">4</text>
<text x="135.72" y="231.90" font-size="12.2" text-anchor="middle" fill="#000">4</text>
<line x1="64.90" y1="133.70" x2="66.40" y2="133.70" stroke="#222" stroke-width="1"/>
<line x1="153.05" y1="217.80" x2="153.05" y2="218.80" stroke="#222" stroke-width="1"/>
<line x1="63.60" y1="117.08" x2="66.40" y2="117.08" stroke="#222" stroke-width="1"/>
<line x1="170.38" y1="217.80" x2="170.38" y2="219.80" stroke="#222" stroke-width="1"/>
<text x="62.20" y="121.38" font-size="12.2" text-anchor="end" fill="#000">6</text>
<text x="170.38" y="231.90" font-size="12.2" text-anchor="middle" fill="#000">6</text>
<line x1="64.90" y1="100.46" x2="66.40" y2="100.46" stroke="#222" stroke-width="1"/>
<line x1="187.71" y1="217.80" x2="187.71" y2="218.80" stroke="#222" stroke-width="1"/>
<line x1="63.60" y1="83.84" x2="66.40" y2="83.84" stroke="#222" stroke-width="1"/>
<line x1="205.04" y1="217.80" x2="205.04" y2="219.80" stroke="#222" stroke-width="1"/>
<text x="62.20" y="88.14" font-size="12.2" text-anchor="end" fill="#000">8</text>
<text x="205.04" y="231.90" font-size="12.2" text-anchor="middle" fill="#000">8</text>
<line x1="64.90" y1="67.22" x2="66.40" y2="67.22" stroke="#222" stroke-width="1"/>
<line x1="222.37" y1="217.80" x2="222.37" y2="218.80" stroke="#222" stroke-width="1"/>
<line x1="63.60" y1="50.60" x2="66.40" y2="50.60" stroke="#222" stroke-width="1"/>
<line x1="239.70" y1="217.80" x2="239.70" y2="219.80" stroke="#222" stroke-width="1"/>
<text x="62.20" y="54.90" font-size="12.2" text-anchor="end" fill="#000">10</text>
<text x="239.70" y="231.90" font-size="12.2" text-anchor="middle" fill="#000">10</text>
<text x="153.05" y="253.10" font-size="13.4" text-anchor="middle" fill="#000" textLength="163" lengthAdjust="spacingAndGlyphs">Coordinate in X axis (µm)</text>
<text x="41.30" y="133.70" font-size="13.4" text-anchor="middle" fill="#000" textLength="163" lengthAdjust="spacingAndGlyphs" transform="rotate(-90 41.30 133.70)">Coordinate in Y axis (µm)</text>
<text x="161.10" y="45.00" font-size="16.2" text-anchor="middle" fill="#000" textLength="51.8" lengthAdjust="spacingAndGlyphs">AR=0.2</text>
<text x="51.30" y="33.70" font-size="32" text-anchor="start" fill="#000" font-weight="bold">a</text>
<clipPath id="clip1"><rect x="305.3" y="50.6" width="173.3" height="166.20000000000002"/></clipPath>
<g clip-path="url(#clip1)">
<rect x="305.3" y="50.6" width="173.3" height="166.20000000000002" fill="#0000ff"/>
<g filter="url(#cm)">
<rect x="293.3" y="38.6" width="197.3" height="190.20000000000002" fill="#000"/>
<g filter="url(#b2_5)"><path d="M371.2,60.2 C376.4,58.9 407.5,58.9 412.7,60.2 C417.9,61.5 405.8,66.3 402.3,68.1 C398.9,69.8 395.4,70.5 392.0,70.5 C388.5,70.5 385.0,69.8 381.6,68.1 C378.1,66.3 366.0,61.5 371.2,60.2Z" fill="rgb(102,102,102)"/><path d="M371.2,85.5 C376.9,83.8 407.0,83.8 412.7,85.5 C418.5,87.2 409.3,93.3 405.8,95.5 C402.3,97.7 396.6,98.8 392.0,98.8 C387.3,98.8 381.6,97.7 378.1,95.5 C374.6,93.3 365.4,87.2 371.2,85.5Z" fill="rgb(92,92,92)"/></g>
<g filter="url(#b1_0)"><polygon points="353.0,47.3 430.9,47.3 421.4,55.6 392.0,56.9 362.5,55.6" fill="rgb(115,115,115)"/></g>
<g filter="url(#b2_2)"><path d="M369.4,92.2 C371.2,90.1 374.3,92.7 378.1,93.0 C381.8,93.3 387.3,93.8 392.0,93.8 C396.6,93.8 402.1,93.3 405.8,93.0 C409.6,92.7 412.7,90.1 414.5,92.2 C416.2,94.2 417.1,100.7 416.2,105.4 C415.3,110.2 411.3,116.2 409.3,120.4 C407.3,124.6 405.7,125.7 404.1,130.4 C402.5,135.1 400.9,143.1 399.7,148.7 C398.6,154.2 398.0,159.2 397.1,163.6 C396.3,168.0 395.4,172.5 394.5,175.2 C393.7,178.0 392.8,180.2 392.0,180.2 C391.1,180.2 390.2,178.0 389.4,175.2 C388.5,172.5 387.6,168.0 386.8,163.6 C385.9,159.2 385.3,154.2 384.2,148.7 C383.0,143.1 381.4,135.1 379.8,130.4 C378.2,125.7 376.6,124.6 374.6,120.4 C372.6,116.2 368.6,110.2 367.7,105.4 C366.8,100.7 367.7,94.2 369.4,92.2Z" fill="rgb(128,128,128)"/></g>
<g filter="url(#b0_9)"><path d="M338.8,63.1 L339.6,64.3 L340.8,66.0 L342.2,68.0 L343.6,70.1 L345.1,72.2 L346.5,74.0 L347.7,75.6 L348.8,76.9 L349.8,78.3 L351.1,79.7 L352.6,81.5 L354.4,83.7 L356.9,86.6 L359.8,90.1 L363.0,93.9 L366.1,97.7 L369.1,101.2 L371.6,104.1 L373.7,106.4 L375.4,108.3 L376.8,109.8 L378.1,111.2 L379.3,112.4 L380.5,113.7 L381.9,115.2 L383.3,116.8 L384.7,118.3 L385.9,119.8 L387.0,121.0 L387.8,121.9 L396.1,115.6 L395.4,114.6 L394.5,113.2 L393.4,111.6 L392.2,109.8 L390.9,107.9 L389.5,106.1 L388.2,104.5 L387.0,103.1 L385.7,101.6 L384.3,100.1 L382.7,98.3 L380.7,96.1 L378.2,93.3 L375.1,89.9 L371.8,86.2 L368.5,82.5 L365.5,79.1 L362.9,76.3 L361.0,74.2 L359.4,72.4 L358.1,71.0 L356.9,69.7 L355.7,68.5 L354.2,67.1 L352.5,65.5 L350.5,63.8 L348.5,62.1 L346.6,60.6 L345.0,59.3 L343.9,58.4Z" fill="rgb(115,115,115)"/><circle cx="341.3" cy="60.7" r="3.5" fill="rgb(115,115,115)"/><circle cx="392.0" cy="118.7" r="5.2" fill="rgb(115,115,115)"/><path d="M440.0,58.4 L438.9,59.3 L437.3,60.6 L435.4,62.1 L433.4,63.8 L431.4,65.5 L429.7,67.1 L428.2,68.5 L427.0,69.7 L425.8,71.0 L424.5,72.4 L422.9,74.2 L421.0,76.3 L418.4,79.1 L415.4,82.5 L412.1,86.2 L408.8,89.9 L405.7,93.3 L403.2,96.1 L401.2,98.3 L399.6,100.1 L398.2,101.6 L396.9,103.1 L395.7,104.5 L394.4,106.1 L393.0,107.9 L391.7,109.8 L390.5,111.6 L389.4,113.2 L388.5,114.6 L387.8,115.6 L396.1,121.9 L396.9,121.0 L398.0,119.8 L399.2,118.3 L400.6,116.8 L402.0,115.2 L403.4,113.7 L404.6,112.4 L405.8,111.2 L407.1,109.8 L408.5,108.3 L410.2,106.4 L412.3,104.1 L414.8,101.2 L417.8,97.7 L420.9,93.9 L424.1,90.1 L427.0,86.6 L429.5,83.7 L431.3,81.5 L432.8,79.7 L434.1,78.3 L435.1,76.9 L436.2,75.6 L437.4,74.0 L438.8,72.2 L440.3,70.1 L441.7,68.0 L443.1,66.0 L444.3,64.3 L445.1,63.1Z" fill="rgb(115,115,115)"/><circle cx="442.6" cy="60.7" r="3.5" fill="rgb(115,115,115)"/><circle cx="392.0" cy="118.7" r="5.2" fill="rgb(115,115,115)"/></g>
<g filter="url(#b1_0)"><path d="M385.3,118.7 L385.3,120.4 L385.3,122.6 L385.3,125.3 L385.4,128.2 L385.4,131.0 L385.5,133.7 L385.5,136.2 L385.6,138.8 L385.7,141.4 L385.7,143.9 L385.8,146.4 L385.9,148.7 L386.0,150.8 L386.0,152.7 L386.1,154.6 L386.1,156.4 L386.2,158.3 L386.3,160.2 L386.4,162.3 L386.6,164.6 L386.8,166.9 L386.9,169.2 L387.1,171.4 L387.3,173.5 L387.4,175.5 L387.6,177.5 L387.8,179.4 L387.9,181.1 L388.0,182.5 L388.1,183.6 L395.1,183.5 L395.2,182.5 L395.3,181.1 L395.4,179.4 L395.6,177.5 L395.7,175.6 L395.9,173.7 L396.2,171.7 L396.5,169.5 L396.8,167.2 L397.1,164.9 L397.4,162.6 L397.6,160.4 L397.7,158.3 L397.8,156.4 L397.9,154.6 L397.9,152.7 L398.0,150.8 L398.0,148.7 L398.1,146.4 L398.2,143.9 L398.2,141.4 L398.3,138.8 L398.4,136.2 L398.4,133.7 L398.5,131.0 L398.5,128.2 L398.6,125.3 L398.6,122.6 L398.6,120.4 L398.6,118.7Z" fill="rgb(115,115,115)"/><circle cx="392.0" cy="118.7" r="6.7" fill="rgb(115,115,115)"/><circle cx="391.6" cy="183.6" r="3.5" fill="rgb(115,115,115)"/></g>
<g filter="url(#b0_8)"><ellipse cx="392.0" cy="50.6" rx="38.1" ry="4.5" fill="rgb(194,194,194)"/></g>
<g filter="url(#b2_0)"><path d="M369.4,93.8 C372.9,91.9 384.4,97.1 392.0,97.1 C399.5,97.1 411.0,91.9 414.5,93.8 C417.9,95.8 414.5,103.5 412.7,108.8 C411.0,114.0 406.4,119.9 404.1,125.4 C401.7,130.9 399.9,136.5 398.5,142.0 C397.1,147.6 396.9,154.2 395.8,158.6 C394.7,163.1 393.2,168.6 392.0,168.6 C390.7,168.6 389.2,163.1 388.1,158.6 C387.0,154.2 386.8,147.6 385.4,142.0 C384.0,136.5 382.2,130.9 379.8,125.4 C377.5,119.9 372.9,114.0 371.2,108.8 C369.4,103.5 366.0,95.8 369.4,93.8Z" fill="rgb(196,196,196)"/></g>
<g filter="url(#b0_9)"><path d="M339.4,62.5 L340.3,63.7 L341.4,65.4 L342.8,67.4 L344.3,69.5 L345.8,71.6 L347.1,73.4 L348.3,75.0 L349.4,76.4 L350.5,77.7 L351.7,79.2 L353.2,80.9 L355.1,83.1 L357.5,86.1 L360.4,89.5 L363.6,93.3 L366.8,97.1 L369.8,100.6 L372.3,103.6 L374.3,105.9 L376.0,107.7 L377.4,109.2 L378.7,110.6 L379.9,111.8 L381.2,113.2 L382.5,114.7 L384.0,116.2 L385.3,117.8 L386.6,119.3 L387.7,120.5 L388.5,121.4 L395.4,116.1 L394.7,115.1 L393.8,113.7 L392.7,112.1 L391.5,110.3 L390.2,108.5 L388.9,106.7 L387.6,105.1 L386.3,103.7 L385.1,102.2 L383.7,100.7 L382.1,98.9 L380.1,96.7 L377.5,93.9 L374.5,90.4 L371.2,86.8 L367.9,83.1 L364.8,79.7 L362.3,76.9 L360.3,74.7 L358.8,73.0 L357.5,71.6 L356.3,70.3 L355.0,69.0 L353.6,67.6 L351.8,66.1 L349.9,64.4 L347.9,62.7 L346.0,61.2 L344.4,59.9 L343.3,59.0Z" fill="rgb(189,189,189)"/><circle cx="341.3" cy="60.7" r="2.6" fill="rgb(189,189,189)"/><circle cx="392.0" cy="118.7" r="4.3" fill="rgb(189,189,189)"/><path d="M440.6,59.0 L439.5,59.9 L437.9,61.2 L436.0,62.7 L434.0,64.4 L432.1,66.1 L430.3,67.6 L428.9,69.0 L427.6,70.3 L426.4,71.6 L425.1,73.0 L423.6,74.7 L421.6,76.9 L419.1,79.7 L416.0,83.1 L412.7,86.8 L409.4,90.4 L406.4,93.9 L403.8,96.7 L401.8,98.9 L400.2,100.7 L398.8,102.2 L397.6,103.7 L396.3,105.1 L395.0,106.7 L393.7,108.5 L392.4,110.3 L391.2,112.1 L390.1,113.7 L389.2,115.1 L388.5,116.1 L395.4,121.4 L396.2,120.5 L397.3,119.3 L398.6,117.8 L399.9,116.2 L401.4,114.7 L402.7,113.2 L404.0,111.8 L405.2,110.6 L406.5,109.2 L407.9,107.7 L409.6,105.9 L411.6,103.6 L414.1,100.6 L417.1,97.1 L420.3,93.3 L423.5,89.5 L426.4,86.1 L428.8,83.1 L430.7,80.9 L432.2,79.2 L433.4,77.7 L434.5,76.4 L435.6,75.0 L436.8,73.4 L438.1,71.6 L439.6,69.5 L441.1,67.4 L442.5,65.4 L443.6,63.7 L444.5,62.5Z" fill="rgb(189,189,189)"/><circle cx="442.6" cy="60.7" r="2.6" fill="rgb(189,189,189)"/><circle cx="392.0" cy="118.7" r="4.3" fill="rgb(189,189,189)"/></g>
<g filter="url(#b1)"><path d="M386.6,118.7 L386.6,120.4 L386.6,122.6 L386.6,125.3 L386.7,128.2 L386.7,131.0 L386.8,133.7 L386.8,136.2 L386.9,138.8 L387.0,141.4 L387.0,143.9 L387.1,146.4 L387.2,148.7 L387.3,150.8 L387.3,152.7 L387.4,154.6 L387.4,156.4 L387.5,158.3 L387.6,160.2 L387.7,162.4 L387.9,164.6 L388.1,166.9 L388.2,169.2 L388.4,171.5 L388.6,173.5 L388.7,175.5 L388.9,177.5 L389.1,179.4 L389.2,181.1 L389.3,182.5 L389.4,183.6 L393.8,183.6 L393.9,182.5 L394.0,181.1 L394.1,179.4 L394.3,177.5 L394.4,175.6 L394.6,173.6 L394.9,171.6 L395.2,169.4 L395.5,167.2 L395.8,164.8 L396.1,162.5 L396.3,160.4 L396.4,158.3 L396.5,156.4 L396.6,154.6 L396.6,152.7 L396.7,150.8 L396.7,148.7 L396.8,146.4 L396.9,143.9 L396.9,141.4 L397.0,138.8 L397.1,136.2 L397.1,133.7 L397.2,131.0 L397.2,128.2 L397.3,125.3 L397.3,122.6 L397.3,120.4 L397.3,118.7Z" fill="rgb(189,189,189)"/><circle cx="392.0" cy="118.7" r="5.4" fill="rgb(189,189,189)"/><circle cx="391.6" cy="183.6" r="2.2" fill="rgb(189,189,189)"/></g>
<g filter="url(#b0_8)"><path d="M388.6,181.3 L387.0,184.6 L385.4,187.9 L383.9,191.3 L382.3,194.6 L380.7,197.9 L379.1,201.2 L381.6,202.4 L383.2,199.1 L384.8,195.8 L386.4,192.5 L387.9,189.1 L389.5,185.8 L391.1,182.5Z" fill="rgb(196,196,196)"/><circle cx="389.9" cy="181.9" r="1.4" fill="rgb(196,196,196)"/><circle cx="380.3" cy="201.8" r="1.4" fill="rgb(196,196,196)"/><path d="M392.8,182.5 L394.4,185.8 L396.0,189.1 L397.5,192.5 L399.1,195.8 L400.7,199.1 L402.3,202.4 L404.8,201.2 L403.2,197.9 L401.6,194.6 L400.0,191.3 L398.5,187.9 L396.9,184.6 L395.3,181.3Z" fill="rgb(196,196,196)"/><circle cx="394.0" cy="181.9" r="1.4" fill="rgb(196,196,196)"/><circle cx="403.6" cy="201.8" r="1.4" fill="rgb(196,196,196)"/></g>
<g filter="url(#b1_8)"><path d="M385.0,110.4 C386.6,109.0 397.3,109.0 398.9,110.4 C400.5,111.8 395.7,116.8 394.5,118.7 C393.4,120.7 392.8,122.1 392.0,122.1 C391.1,122.1 390.5,120.7 389.4,118.7 C388.2,116.8 383.4,111.8 385.0,110.4Z" fill="rgb(214,214,214)"/></g>
<g filter="url(#b0_8)"><ellipse cx="392.0" cy="50.6" rx="20.8" ry="2.2" fill="rgb(222,222,222)"/></g>
<g filter="url(#b0_7)"><path d="M339.2,61.9 L340.1,63.1 L341.3,64.7 L342.7,66.6 L344.3,68.7 L345.9,70.7 L347.3,72.5 L348.5,74.0 L349.6,75.4 L350.8,76.7 L352.0,78.2 L353.5,79.9 L355.4,82.1 L357.8,85.0 L360.8,88.5 L364.0,92.3 L367.2,96.1 L370.1,99.6 L372.7,102.5 L374.7,104.7 L376.4,106.6 L377.8,108.1 L379.1,109.5 L380.3,110.8 L381.5,112.1 L382.9,113.7 L384.3,115.3 L385.7,116.9 L386.9,118.4 L388.0,119.6 L388.8,120.5 L393.4,116.9 L392.7,116.0 L391.8,114.6 L390.7,113.0 L389.4,111.2 L388.1,109.4 L386.8,107.7 L385.5,106.2 L384.3,104.8 L383.0,103.3 L381.6,101.8 L379.9,100.0 L378.0,97.8 L375.4,94.9 L372.4,91.5 L369.1,87.8 L365.8,84.1 L362.8,80.7 L360.3,77.9 L358.3,75.7 L356.8,74.0 L355.5,72.6 L354.3,71.3 L353.1,70.0 L351.7,68.6 L350.0,66.9 L348.1,65.2 L346.2,63.5 L344.4,61.9 L342.9,60.5 L341.8,59.5Z" fill="rgb(255,255,255)"/><circle cx="340.5" cy="60.7" r="1.8" fill="rgb(255,255,255)"/><circle cx="391.1" cy="118.7" r="2.9" fill="rgb(255,255,255)"/><path d="M442.1,59.5 L441.0,60.5 L439.5,61.9 L437.7,63.5 L435.8,65.2 L433.9,66.9 L432.2,68.6 L430.8,70.0 L429.6,71.3 L428.4,72.6 L427.1,74.0 L425.6,75.7 L423.6,77.9 L421.1,80.7 L418.1,84.1 L414.8,87.8 L411.5,91.5 L408.5,94.9 L405.9,97.8 L404.0,100.0 L402.3,101.8 L400.9,103.3 L399.6,104.8 L398.4,106.2 L397.1,107.7 L395.8,109.4 L394.5,111.2 L393.2,113.0 L392.1,114.6 L391.2,116.0 L390.5,116.9 L395.1,120.5 L395.9,119.6 L397.0,118.4 L398.2,116.9 L399.6,115.3 L401.0,113.7 L402.4,112.1 L403.6,110.8 L404.8,109.5 L406.1,108.1 L407.5,106.6 L409.2,104.7 L411.2,102.5 L413.8,99.6 L416.7,96.1 L419.9,92.3 L423.1,88.5 L426.1,85.0 L428.5,82.1 L430.4,79.9 L431.9,78.2 L433.1,76.7 L434.3,75.4 L435.4,74.0 L436.6,72.5 L438.0,70.7 L439.6,68.7 L441.2,66.6 L442.6,64.7 L443.8,63.1 L444.7,61.9Z" fill="rgb(255,255,255)"/><circle cx="443.4" cy="60.7" r="1.8" fill="rgb(255,255,255)"/><circle cx="392.8" cy="118.7" r="2.9" fill="rgb(255,255,255)"/><path d="M388.5,118.7 L388.5,120.4 L388.5,122.6 L388.5,125.3 L388.5,128.2 L388.5,131.0 L388.6,133.7 L388.6,136.2 L388.7,138.8 L388.7,141.4 L388.8,143.9 L388.8,146.4 L388.9,148.7 L388.9,150.8 L388.9,152.7 L389.0,154.6 L389.0,156.4 L389.1,158.3 L389.1,160.3 L389.2,162.4 L389.3,164.7 L389.4,167.0 L389.5,169.3 L389.5,171.5 L389.6,173.6 L389.7,175.5 L389.8,177.5 L389.9,179.4 L390.0,181.1 L390.1,182.5 L390.2,183.6 L393.0,183.6 L393.1,182.5 L393.1,181.1 L393.2,179.4 L393.3,177.5 L393.4,175.6 L393.6,173.6 L393.7,171.6 L394.0,169.4 L394.2,167.1 L394.4,164.8 L394.6,162.5 L394.8,160.3 L394.9,158.3 L394.9,156.4 L395.0,154.6 L395.0,152.7 L395.0,150.8 L395.0,148.7 L395.1,146.4 L395.1,143.9 L395.2,141.4 L395.2,138.8 L395.3,136.2 L395.3,133.7 L395.4,131.0 L395.4,128.2 L395.4,125.3 L395.4,122.6 L395.4,120.4 L395.4,118.7Z" fill="rgb(255,255,255)"/><circle cx="392.0" cy="118.7" r="3.5" fill="rgb(255,255,255)"/><circle cx="391.6" cy="183.6" r="1.4" fill="rgb(255,255,255)"/></g>
<g filter="url(#b0_5)"><path d="M392.6,177.4 L392.5,177.9 L392.3,178.5 L392.1,179.1 L391.8,180.0 L391.3,181.3 L390.6,183.1 L389.4,185.7 L387.8,189.1 L386.0,192.9 L384.2,196.6 L382.6,199.8 L381.6,202.0 L383.6,203.0 L384.7,200.8 L386.2,197.6 L388.0,193.9 L389.8,190.1 L391.4,186.7 L392.6,184.0 L393.4,182.2 L393.9,180.8 L394.3,179.8 L394.5,179.1 L394.6,178.5 L394.8,178.1Z" fill="rgb(255,255,255)"/><circle cx="393.7" cy="177.7" r="1.1" fill="rgb(255,255,255)"/><circle cx="382.6" cy="202.5" r="1.1" fill="rgb(255,255,255)"/><path d="M389.1,178.1 L389.3,178.5 L389.4,179.1 L389.6,179.8 L390.0,180.8 L390.5,182.2 L391.3,184.0 L392.5,186.7 L394.1,190.1 L395.9,193.9 L397.7,197.6 L399.2,200.8 L400.3,203.0 L402.3,202.0 L401.3,199.8 L399.7,196.6 L397.9,192.9 L396.1,189.1 L394.5,185.7 L393.3,183.1 L392.6,181.3 L392.1,180.0 L391.8,179.1 L391.6,178.5 L391.4,177.9 L391.3,177.4Z" fill="rgb(255,255,255)"/><circle cx="390.2" cy="177.7" r="1.1" fill="rgb(255,255,255)"/><circle cx="401.3" cy="202.5" r="1.1" fill="rgb(255,255,255)"/></g>
</g>
<polygon points="392.0,186.6 408.4,218.5 375.5,218.5" fill="#fff"/>
</g>
<line x1="374.62" y1="216.20" x2="409.28" y2="216.20" stroke="#b4a078" stroke-width="1.2"/>
<path d="M305.30,50.90 H478.40 V216.80" fill="none" stroke="#000030" stroke-opacity="0.5" stroke-width="0.9"/>
<line x1="305.30" y1="50.60" x2="305.30" y2="217.30" stroke="#1a1a3a" stroke-width="1.2"/>
<line x1="304.80" y1="217.20" x2="479.10" y2="217.20" stroke="#9a9ab4" stroke-width="1.3"/>
<line x1="302.50" y1="216.80" x2="305.30" y2="216.80" stroke="#222" stroke-width="1"/>
<line x1="305.30" y1="217.80" x2="305.30" y2="219.80" stroke="#222" stroke-width="1"/>
<text x="301.10" y="221.10" font-size="12.2" text-anchor="end" fill="#000">0</text>
<text x="305.30" y="231.90" font-size="12.2" text-anchor="middle" fill="#000">0</text>
<line x1="303.80" y1="200.18" x2="305.30" y2="200.18" stroke="#222" stroke-width="1"/>
<line x1="322.63" y1="217.80" x2="322.63" y2="218.80" stroke="#222" stroke-width="1"/>
<line x1="302.50" y1="183.56" x2="305.30" y2="183.56" stroke="#222" stroke-width="1"/>
<line x1="339.96" y1="217.80" x2="339.96" y2="219.80" stroke="#222" stroke-width="1"/>
<text x="301.10" y="187.86" font-size="12.2" text-anchor="end" fill="#000">2</text>
<text x="339.96" y="231.90" font-size="12.2" text-anchor="middle" fill="#000">2</text>
<line x1="303.80" y1="166.94" x2="305.30" y2="166.94" stroke="#222" stroke-width="1"/>
<line x1="357.29" y1="217.80" x2="357.29" y2="218.80" stroke="#222" stroke-width="1"/>
<line x1="302.50" y1="150.32" x2="305.30" y2="150.32" stroke="#222" stroke-width="1"/>
<line x1="374.62" y1="217.80" x2="374.62" y2="219.80" stroke="#222" stroke-width="1"/>
<text x="301.10" y="154.62" font-size="12.2" text-anchor="end" fill="#000">4</text>
<text x="374.62" y="231.90" font-size="12.2" text-anchor="middle" fill="#000">4</text>
<line x1="303.80" y1="133.70" x2="305.30" y2="133.70" stroke="#222" stroke-width="1"/>
<line x1="391.95" y1="217.80" x2="391.95" y2="218.80" stroke="#222" stroke-width="1"/>
<line x1="302.50" y1="117.08" x2="305.30" y2="117.08" stroke="#222" stroke-width="1"/>
<line x1="409.28" y1="217.80" x2="409.28" y2="219.80" stroke="#222" stroke-width="1"/>
<text x="301.10" y="121.38" font-size="12.2" text-anchor="end" fill="#000">6</text>
<text x="409.28" y="231.90" font-size="12.2" text-anchor="middle" fill="#000">6</text>
<line x1="303.80" y1="100.46" x2="305.30" y2="100.46" stroke="#222" stroke-width="1"/>
<line x1="426.61" y1="217.80" x2="426.61" y2="218.80" stroke="#222" stroke-width="1"/>
<line x1="302.50" y1="83.84" x2="305.30" y2="83.84" stroke="#222" stroke-width="1"/>
<line x1="443.94" y1="217.80" x2="443.94" y2="219.80" stroke="#222" stroke-width="1"/>
<text x="301.10" y="88.14" font-size="12.2" text-anchor="end" fill="#000">8</text>
<text x="443.94" y="231.90" font-size="12.2" text-anchor="middle" fill="#000">8</text>
<line x1="303.80" y1="67.22" x2="305.30" y2="67.22" stroke="#222" stroke-width="1"/>
<line x1="461.27" y1="217.80" x2="461.27" y2="218.80" stroke="#222" stroke-width="1"/>
<line x1="302.50" y1="50.60" x2="305.30" y2="50.60" stroke="#222" stroke-width="1"/>
<line x1="478.60" y1="217.80" x2="478.60" y2="219.80" stroke="#222" stroke-width="1"/>
<text x="301.10" y="54.90" font-size="12.2" text-anchor="end" fill="#000">10</text>
<text x="478.60" y="231.90" font-size="12.2" text-anchor="middle" fill="#000">10</text>
<text x="391.95" y="253.10" font-size="13.4" text-anchor="middle" fill="#000" textLength="163" lengthAdjust="spacingAndGlyphs">Coordinate in X axis (µm)</text>
<text x="280.20" y="133.70" font-size="13.4" text-anchor="middle" fill="#000" textLength="163" lengthAdjust="spacingAndGlyphs" transform="rotate(-90 280.20 133.70)">Coordinate in Y axis (µm)</text>
<text x="400.00" y="45.00" font-size="16.2" text-anchor="middle" fill="#000" textLength="51.8" lengthAdjust="spacingAndGlyphs">AR=1.0</text>
<text x="282.80" y="33.70" font-size="32" text-anchor="start" fill="#000" font-weight="bold">b</text>
<clipPath id="clip2"><rect x="543.8" y="50.6" width="173.3" height="166.20000000000002"/></clipPath>
<g clip-path="url(#clip2)">
<rect x="543.8" y="50.6" width="173.3" height="166.20000000000002" fill="#0000ff"/>
<g filter="url(#cm)">
<rect x="531.8" y="38.6" width="197.3" height="190.20000000000002" fill="#000"/>
<g filter="url(#b2_6)"><path d="M630.4,188.5 C632.1,188.5 634.2,183.1 635.6,178.1 C637.1,173.1 637.9,165.0 639.1,158.5 C640.3,151.9 641.3,144.4 642.9,138.9 C644.5,133.3 647.5,128.7 648.6,125.4 C649.8,122.0 650.0,121.8 649.9,118.7 C649.7,115.7 649.6,110.1 647.8,107.1 C646.0,104.1 642.0,102.1 639.1,101.0 C636.2,99.8 633.3,100.1 630.4,100.1 C627.6,100.1 624.7,99.8 621.8,101.0 C618.9,102.1 614.9,104.1 613.1,107.1 C611.4,110.1 611.5,115.7 611.4,118.7 C611.2,121.8 611.1,122.0 612.3,125.4 C613.4,128.7 616.8,133.3 618.5,138.9 C620.2,144.4 621.1,151.9 622.3,158.5 C623.5,165.0 624.6,173.1 625.9,178.1 C627.3,183.1 628.8,188.5 630.4,188.5Z" fill="rgb(133,133,133)"/></g>
<g filter="url(#b1_6)"><path d="M630.4,185.2 C631.6,185.2 633.0,182.5 634.1,178.1 C635.2,173.6 636.2,165.0 637.2,158.5 C638.2,151.9 638.8,144.4 640.0,138.9 C641.2,133.3 643.3,128.7 644.3,125.4 C645.3,122.0 645.9,121.1 645.9,118.7 C645.9,116.4 645.7,113.2 644.3,111.3 C642.9,109.3 639.7,107.9 637.4,107.1 C635.1,106.3 632.8,106.4 630.4,106.4 C628.1,106.4 625.8,106.3 623.5,107.1 C621.2,107.9 618.0,109.3 616.6,111.3 C615.2,113.2 615.2,116.4 615.2,118.7 C615.2,121.1 615.5,122.0 616.6,125.4 C617.6,128.7 620.1,133.3 621.4,138.9 C622.7,144.4 623.4,151.9 624.4,158.5 C625.4,165.0 626.3,173.6 627.3,178.1 C628.3,182.5 629.3,185.2 630.4,185.2Z" fill="rgb(194,194,194)"/></g>
<g filter="url(#b0_8)"><path d="M627.0,183.3 L626.3,185.6 L625.6,188.0 L624.9,190.3 L624.3,192.7 L623.6,195.0 L622.9,197.4 L624.9,198.0 L625.6,195.6 L626.2,193.3 L626.9,190.9 L627.6,188.6 L628.3,186.2 L629.0,183.9Z" fill="rgb(189,189,189)"/><circle cx="628.0" cy="183.6" r="1.0" fill="rgb(189,189,189)"/><circle cx="623.9" cy="197.7" r="1.0" fill="rgb(189,189,189)"/><path d="M631.9,183.9 L632.6,186.2 L633.3,188.6 L634.0,190.9 L634.7,193.3 L635.3,195.6 L636.0,198.0 L638.0,197.4 L637.3,195.0 L636.6,192.7 L636.0,190.3 L635.3,188.0 L634.6,185.6 L633.9,183.3Z" fill="rgb(189,189,189)"/><circle cx="632.9" cy="183.6" r="1.0" fill="rgb(189,189,189)"/><circle cx="637.0" cy="197.7" r="1.0" fill="rgb(189,189,189)"/></g>
<g filter="url(#b2_2)"><ellipse cx="630.1" cy="120.4" rx="7.3" ry="8.3" fill="rgb(217,217,217)"/></g>
<g filter="url(#b1_0)"><path d="M630.4,183.6 C630.8,183.6 631.2,175.2 631.5,170.3 C631.8,165.3 632.0,158.9 632.2,153.6 C632.4,148.4 632.6,143.1 632.9,138.7 C633.2,134.3 634.0,130.4 633.9,127.1 C633.9,123.7 633.1,120.4 632.5,118.7 C632.0,117.1 631.1,117.1 630.4,117.1 C629.8,117.1 628.9,117.1 628.4,118.7 C627.8,120.4 627.0,123.7 627.0,127.1 C626.9,130.4 627.7,134.3 628.0,138.7 C628.3,143.1 628.5,148.4 628.7,153.6 C628.9,158.9 629.1,165.3 629.4,170.3 C629.7,175.2 630.1,183.6 630.4,183.6Z" fill="rgb(247,247,247)"/></g>
<g filter="url(#b0_5)"><path d="M631.0,178.3 L630.8,178.8 L630.6,179.5 L630.3,180.3 L630.0,181.4 L629.6,182.6 L629.1,184.1 L628.5,186.2 L627.8,188.8 L627.0,191.6 L626.2,194.3 L625.6,196.7 L625.1,198.3 L626.8,198.8 L627.2,197.1 L627.9,194.8 L628.7,192.1 L629.4,189.2 L630.2,186.7 L630.8,184.6 L631.2,183.1 L631.6,181.9 L632.0,180.9 L632.2,180.1 L632.5,179.4 L632.7,178.9Z" fill="rgb(255,255,255)"/><circle cx="631.8" cy="178.6" r="0.9" fill="rgb(255,255,255)"/><circle cx="625.9" cy="198.5" r="0.9" fill="rgb(255,255,255)"/><path d="M628.2,178.9 L628.4,179.4 L628.7,180.1 L628.9,180.9 L629.3,181.9 L629.7,183.1 L630.1,184.6 L630.7,186.7 L631.5,189.2 L632.2,192.1 L633.0,194.8 L633.7,197.1 L634.1,198.8 L635.8,198.3 L635.3,196.7 L634.7,194.3 L633.9,191.6 L633.1,188.8 L632.4,186.2 L631.8,184.1 L631.3,182.6 L630.9,181.4 L630.6,180.3 L630.3,179.5 L630.1,178.8 L629.9,178.3Z" fill="rgb(255,255,255)"/><circle cx="629.1" cy="178.6" r="0.9" fill="rgb(255,255,255)"/><circle cx="635.0" cy="198.5" r="0.9" fill="rgb(255,255,255)"/></g>
</g>
<polygon points="630.4,186.9 639.1,218.5 623.0,218.5" fill="#fff"/>
</g>
<path d="M543.80,50.90 H716.90 V216.80" fill="none" stroke="#000030" stroke-opacity="0.5" stroke-width="0.9"/>
<line x1="543.80" y1="50.60" x2="543.80" y2="217.30" stroke="#1a1a3a" stroke-width="1.2"/>
<line x1="543.30" y1="217.20" x2="717.60" y2="217.20" stroke="#9a9ab4" stroke-width="1.3"/>
<line x1="541.00" y1="216.80" x2="543.80" y2="216.80" stroke="#222" stroke-width="1"/>
<line x1="543.80" y1="217.80" x2="543.80" y2="219.80" stroke="#222" stroke-width="1"/>
<text x="539.60" y="221.10" font-size="12.2" text-anchor="end" fill="#000">0</text>
<text x="543.80" y="231.90" font-size="12.2" text-anchor="middle" fill="#000">0</text>
<line x1="542.30" y1="200.18" x2="543.80" y2="200.18" stroke="#222" stroke-width="1"/>
<line x1="561.13" y1="217.80" x2="561.13" y2="218.80" stroke="#222" stroke-width="1"/>
<line x1="541.00" y1="183.56" x2="543.80" y2="183.56" stroke="#222" stroke-width="1"/>
<line x1="578.46" y1="217.80" x2="578.46" y2="219.80" stroke="#222" stroke-width="1"/>
<text x="539.60" y="187.86" font-size="12.2" text-anchor="end" fill="#000">2</text>
<text x="578.46" y="231.90" font-size="12.2" text-anchor="middle" fill="#000">2</text>
<line x1="542.30" y1="166.94" x2="543.80" y2="166.94" stroke="#222" stroke-width="1"/>
<line x1="595.79" y1="217.80" x2="595.79" y2="218.80" stroke="#222" stroke-width="1"/>
<line x1="541.00" y1="150.32" x2="543.80" y2="150.32" stroke="#222" stroke-width="1"/>
<line x1="613.12" y1="217.80" x2="613.12" y2="219.80" stroke="#222" stroke-width="1"/>
<text x="539.60" y="154.62" font-size="12.2" text-anchor="end" fill="#000">4</text>
<text x="613.12" y="231.90" font-size="12.2" text-anchor="middle" fill="#000">4</text>
<line x1="542.30" y1="133.70" x2="543.80" y2="133.70" stroke="#222" stroke-width="1"/>
<line x1="630.45" y1="217.80" x2="630.45" y2="218.80" stroke="#222" stroke-width="1"/>
<line x1="541.00" y1="117.08" x2="543.80" y2="117.08" stroke="#222" stroke-width="1"/>
<line x1="647.78" y1="217.80" x2="647.78" y2="219.80" stroke="#222" stroke-width="1"/>
<text x="539.60" y="121.38" font-size="12.2" text-anchor="end" fill="#000">6</text>
<text x="647.78" y="231.90" font-size="12.2" text-anchor="middle" fill="#000">6</text>
<line x1="542.30" y1="100.46" x2="543.80" y2="100.46" stroke="#222" stroke-width="1"/>
<line x1="665.11" y1="217.80" x2="665.11" y2="218.80" stroke="#222" stroke-width="1"/>
<line x1="541.00" y1="83.84" x2="543.80" y2="83.84" stroke="#222" stroke-width="1"/>
<line x1="682.44" y1="217.80" x2="682.44" y2="219.80" stroke="#222" stroke-width="1"/>
<text x="539.60" y="88.14" font-size="12.2" text-anchor="end" fill="#000">8</text>
<text x="682.44" y="231.90" font-size="12.2" text-anchor="middle" fill="#000">8</text>
<line x1="542.30" y1="67.22" x2="543.80" y2="67.22" stroke="#222" stroke-width="1"/>
<line x1="699.77" y1="217.80" x2="699.77" y2="218.80" stroke="#222" stroke-width="1"/>
<line x1="541.00" y1="50.60" x2="543.80" y2="50.60" stroke="#222" stroke-width="1"/>
<line x1="717.10" y1="217.80" x2="717.10" y2="219.80" stroke="#222" stroke-width="1"/>
<text x="539.60" y="54.90" font-size="12.2" text-anchor="end" fill="#000">10</text>
<text x="717.10" y="231.90" font-size="12.2" text-anchor="middle" fill="#000">10</text>
<text x="630.45" y="253.10" font-size="13.4" text-anchor="middle" fill="#000" textLength="163" lengthAdjust="spacingAndGlyphs">Coordinate in X axis (µm)</text>
<text x="518.70" y="133.70" font-size="13.4" text-anchor="middle" fill="#000" textLength="163" lengthAdjust="spacingAndGlyphs" transform="rotate(-90 518.70 133.70)">Coordinate in Y axis (µm)</text>
<text x="630.20" y="45.00" font-size="16.2" text-anchor="middle" fill="#000" textLength="51.8" lengthAdjust="spacingAndGlyphs">AR=2.0</text>
<text x="515.10" y="33.70" font-size="32" text-anchor="start" fill="#000" font-weight="bold">c</text>
<clipPath id="clip3"><rect x="782.6" y="50.6" width="173.3" height="166.20000000000002"/></clipPath>
<g clip-path="url(#clip3)">
<rect x="782.6" y="50.6" width="173.3" height="166.20000000000002" fill="#0000ff"/>
<g filter="url(#cm)">
<rect x="770.6" y="38.6" width="197.3" height="190.20000000000002" fill="#000"/>
<g filter="url(#b2_2)"><path d="M857.1,62.2 C860.0,61.7 869.8,63.9 877.9,65.2 C886.0,66.6 901.6,68.8 905.6,70.2 C909.7,71.6 906.8,73.3 902.2,73.5 C897.6,73.7 884.8,72.2 877.9,71.4 C871.0,70.5 864.1,70.1 860.6,68.5 C857.1,67.0 854.2,62.8 857.1,62.2Z" fill="rgb(102,102,102)"/></g>
<g filter="url(#b1_3)"><path d="M847.6,47.3 C853.7,45.8 881.8,46.4 891.8,47.3 C901.7,48.1 903.6,50.7 907.4,52.3 C911.1,53.8 914.0,54.8 914.3,56.4 C914.6,58.0 912.9,60.9 909.1,61.9 C905.4,62.9 897.8,62.8 891.8,62.6 C885.7,62.3 878.8,61.3 872.7,60.2 C866.7,59.1 859.6,58.1 855.4,55.9 C851.2,53.8 841.5,48.7 847.6,47.3Z" fill="rgb(115,115,115)"/></g>
<g filter="url(#b2_4)"><polygon points="839.8,80.5 851.9,90.5 864.1,88.8 866.7,83.0 909.1,72.2 916.0,70.5 898.7,102.1 879.6,127.1 869.2,137.0 857.1,120.4 843.3,97.1" fill="rgb(128,128,128)"/></g>
<g filter="url(#b1_1)"><path d="M837.0,86.5 L837.6,87.9 L838.3,89.8 L839.2,92.1 L840.2,94.5 L841.2,96.9 L842.2,99.1 L843.1,101.3 L844.2,103.6 L845.3,106.1 L846.5,108.5 L847.8,110.9 L849.0,113.2 L850.3,115.2 L851.6,116.9 L852.8,118.5 L854.0,119.9 L855.2,121.3 L856.4,122.7 L857.8,124.3 L859.3,126.0 L860.8,127.7 L862.3,129.3 L863.5,130.7 L864.4,131.7 L873.4,125.8 L872.8,124.6 L872.1,122.9 L871.2,120.9 L870.2,118.8 L869.2,116.7 L868.2,114.8 L867.3,113.0 L866.4,111.4 L865.5,109.8 L864.6,108.3 L863.7,106.7 L862.8,105.0 L861.7,103.2 L860.5,101.0 L859.1,98.7 L857.7,96.4 L856.3,94.0 L854.7,91.8 L853.1,89.7 L851.3,87.6 L849.5,85.6 L847.8,83.8 L846.4,82.3 L845.3,81.2Z" fill="rgb(115,115,115)"/><circle cx="841.2" cy="83.8" r="4.9" fill="rgb(115,115,115)"/><circle cx="868.9" cy="128.7" r="5.4" fill="rgb(115,115,115)"/><path d="M911.4,70.2 L910.1,71.4 L908.3,72.9 L906.1,74.9 L903.7,77.0 L901.3,79.3 L899.1,81.5 L897.0,83.9 L894.8,86.3 L892.7,88.9 L890.6,91.5 L888.5,94.2 L886.4,96.9 L884.3,99.6 L882.3,102.5 L880.3,105.4 L878.4,108.1 L876.6,110.7 L874.8,113.1 L873.1,115.4 L871.2,117.7 L869.3,119.9 L867.6,122.0 L866.1,123.7 L865.0,125.0 L872.8,132.4 L874.0,131.3 L875.7,129.8 L877.7,127.9 L879.9,125.7 L882.2,123.4 L884.5,121.1 L886.6,118.5 L888.8,115.9 L890.9,113.2 L893.1,110.4 L895.1,107.7 L897.2,105.1 L899.2,102.4 L901.2,99.8 L903.2,97.1 L905.1,94.5 L907.0,91.9 L908.7,89.5 L910.5,87.0 L912.3,84.3 L914.0,81.8 L915.6,79.4 L916.9,77.4 L917.9,75.9Z" fill="rgb(115,115,115)"/><circle cx="914.7" cy="73.0" r="4.3" fill="rgb(115,115,115)"/><circle cx="868.9" cy="128.7" r="5.4" fill="rgb(115,115,115)"/></g>
<g filter="url(#b1)"><path d="M864.4,130.4 L864.5,132.6 L864.6,134.8 L864.7,137.0 L864.9,139.2 L865.0,141.5 L865.1,143.7 L874.1,143.7 L874.2,141.5 L874.3,139.2 L874.4,137.0 L874.6,134.8 L874.7,132.6 L874.8,130.4Z" fill="rgb(115,115,115)"/><circle cx="869.6" cy="130.4" r="5.2" fill="rgb(115,115,115)"/><circle cx="869.6" cy="143.7" r="4.5" fill="rgb(115,115,115)"/></g>
<g filter="url(#b1_1)"><path d="M836.4,136.7 L837.0,137.4 L837.7,138.3 L838.6,139.4 L839.4,140.5 L840.3,141.7 L841.3,142.8 L842.3,144.0 L843.4,145.2 L844.5,146.4 L845.5,147.6 L846.6,148.9 L847.8,150.3 L849.1,152.0 L850.5,153.9 L852.0,155.9 L853.4,157.9 L854.8,159.9 L856.0,162.0 L857.1,164.3 L858.3,167.2 L859.5,170.3 L860.5,173.3 L861.4,175.9 L862.1,177.7 L868.8,176.1 L868.5,174.2 L868.2,171.5 L867.8,168.2 L867.2,164.7 L866.5,161.2 L865.6,158.0 L864.4,155.0 L863.1,152.3 L861.7,149.6 L860.3,147.2 L858.9,145.0 L857.4,143.0 L856.0,141.1 L854.4,139.4 L852.9,137.9 L851.4,136.7 L850.1,135.6 L848.7,134.6 L847.2,133.6 L845.7,132.7 L844.2,132.0 L842.9,131.4 L841.8,131.0 L841.1,130.7Z" fill="rgb(115,115,115)"/><circle cx="838.7" cy="133.7" r="3.8" fill="rgb(115,115,115)"/><circle cx="865.4" cy="176.9" r="3.5" fill="rgb(115,115,115)"/></g>
<g filter="url(#b0_9)"><path d="M851.1,50.3 C856.5,49.7 881.2,49.7 890.0,50.3 C898.9,50.9 900.5,52.9 903.9,53.9 C907.3,54.9 909.9,55.4 910.5,56.4 C911.1,57.4 910.5,59.1 907.4,59.7 C904.3,60.4 897.3,60.5 891.8,60.2 C886.3,60.0 880.2,59.1 874.4,58.1 C868.7,57.0 861.0,55.2 857.1,53.9 C853.2,52.6 845.6,50.9 851.1,50.3Z" fill="rgb(194,194,194)"/></g>
<g filter="url(#b1_8)"><polygon points="856.3,107.1 864.1,103.0 866.7,88.8 905.6,76.4 891.8,103.8 876.2,123.7 869.2,132.0 860.6,118.7" fill="rgb(196,196,196)"/></g>
<g filter="url(#b1)"><path d="M837.9,85.9 L838.4,87.3 L839.2,89.2 L840.1,91.5 L841.1,93.9 L842.1,96.4 L843.1,98.6 L844.0,100.8 L845.1,103.2 L846.2,105.6 L847.4,108.0 L848.7,110.4 L849.9,112.6 L851.2,114.6 L852.5,116.4 L853.7,117.9 L854.9,119.3 L856.1,120.7 L857.3,122.1 L858.6,123.7 L860.2,125.4 L861.7,127.2 L863.2,128.8 L864.4,130.1 L865.3,131.1 L872.5,126.3 L872.0,125.1 L871.2,123.5 L870.3,121.5 L869.3,119.4 L868.3,117.3 L867.4,115.4 L866.4,113.6 L865.5,112.0 L864.7,110.4 L863.8,108.8 L862.9,107.3 L861.9,105.6 L860.8,103.7 L859.5,101.5 L858.2,99.2 L856.8,96.9 L855.4,94.5 L853.8,92.3 L852.2,90.2 L850.4,88.1 L848.6,86.1 L846.9,84.3 L845.5,82.8 L844.5,81.7Z" fill="rgb(189,189,189)"/><circle cx="841.2" cy="83.8" r="3.9" fill="rgb(189,189,189)"/><circle cx="868.9" cy="128.7" r="4.3" fill="rgb(189,189,189)"/><path d="M912.2,70.9 L910.9,72.0 L909.0,73.6 L906.9,75.5 L904.5,77.7 L902.1,79.9 L899.9,82.2 L897.8,84.5 L895.6,87.0 L893.5,89.5 L891.4,92.2 L889.3,94.8 L887.2,97.5 L885.2,100.3 L883.1,103.1 L881.2,106.0 L879.2,108.8 L877.4,111.4 L875.6,113.8 L873.8,116.1 L872.0,118.4 L870.1,120.6 L868.3,122.7 L866.9,124.4 L865.8,125.7 L872.0,131.7 L873.3,130.6 L874.9,129.0 L877.0,127.2 L879.2,125.0 L881.5,122.8 L883.7,120.4 L885.8,117.9 L887.9,115.3 L890.1,112.5 L892.2,109.8 L894.3,107.1 L896.3,104.4 L898.3,101.8 L900.4,99.1 L902.4,96.5 L904.3,93.8 L906.2,91.3 L907.9,88.8 L909.7,86.3 L911.5,83.7 L913.2,81.1 L914.8,78.7 L916.1,76.7 L917.1,75.2Z" fill="rgb(189,189,189)"/><circle cx="914.7" cy="73.0" r="3.3" fill="rgb(189,189,189)"/><circle cx="868.9" cy="128.7" r="4.3" fill="rgb(189,189,189)"/><path d="M865.3,130.4 L865.4,132.6 L865.5,134.8 L865.6,137.0 L865.7,139.2 L865.8,141.5 L866.0,143.7 L873.2,143.7 L873.4,141.5 L873.5,139.2 L873.6,137.0 L873.7,134.8 L873.8,132.6 L873.9,130.4Z" fill="rgb(189,189,189)"/><circle cx="869.6" cy="130.4" r="4.3" fill="rgb(189,189,189)"/><circle cx="869.6" cy="143.7" r="3.6" fill="rgb(189,189,189)"/></g>
<g filter="url(#b0_8)"><path d="M871.0,143.9 L871.2,146.0 L871.4,149.1 L871.6,152.7 L871.9,156.5 L872.2,160.3 L872.5,163.8 L872.7,167.2 L873.0,170.8 L873.3,174.4 L873.5,177.8 L873.8,180.6 L873.9,182.7 L877.7,182.5 L877.7,180.4 L877.6,177.6 L877.6,174.2 L877.5,170.6 L877.3,166.9 L877.1,163.4 L876.9,159.9 L876.5,156.1 L876.1,152.3 L875.7,148.7 L875.4,145.7 L875.1,143.5Z" fill="rgb(199,199,199)"/><circle cx="873.1" cy="143.7" r="2.1" fill="rgb(199,199,199)"/><circle cx="875.8" cy="182.6" r="1.9" fill="rgb(199,199,199)"/><path d="M865.6,145.2 L865.4,147.2 L865.1,150.0 L864.7,153.4 L864.4,156.9 L864.0,160.4 L863.8,163.5 L863.7,166.4 L863.6,169.3 L863.5,172.1 L863.5,174.7 L863.5,176.9 L863.5,178.5 L867.3,178.7 L867.5,177.1 L867.6,174.9 L867.8,172.3 L868.1,169.5 L868.3,166.6 L868.5,163.8 L868.6,160.7 L868.8,157.3 L869.0,153.7 L869.2,150.4 L869.3,147.5 L869.4,145.5Z" fill="rgb(199,199,199)"/><circle cx="867.5" cy="145.3" r="1.9" fill="rgb(199,199,199)"/><circle cx="865.4" cy="178.6" r="1.9" fill="rgb(199,199,199)"/></g>
<g filter="url(#b1)"><path d="M837.1,135.9 L837.6,136.6 L838.4,137.5 L839.2,138.6 L840.1,139.7 L841.0,140.9 L842.0,142.0 L843.0,143.2 L844.1,144.4 L845.2,145.6 L846.3,146.9 L847.4,148.2 L848.6,149.7 L849.9,151.4 L851.4,153.3 L852.9,155.3 L854.3,157.3 L855.7,159.4 L856.9,161.6 L858.1,164.0 L859.3,166.9 L860.5,170.1 L861.5,173.1 L862.4,175.6 L863.1,177.5 L867.8,176.3 L867.5,174.4 L867.2,171.7 L866.7,168.5 L866.2,165.0 L865.5,161.5 L864.6,158.4 L863.5,155.5 L862.2,152.8 L860.9,150.2 L859.4,147.8 L858.0,145.6 L856.6,143.6 L855.2,141.8 L853.7,140.1 L852.2,138.7 L850.7,137.4 L849.4,136.3 L848.0,135.3 L846.6,134.4 L845.0,133.5 L843.6,132.8 L842.3,132.3 L841.2,131.8 L840.4,131.5Z" fill="rgb(189,189,189)"/><circle cx="838.7" cy="133.7" r="2.8" fill="rgb(189,189,189)"/><circle cx="865.4" cy="176.9" r="2.4" fill="rgb(189,189,189)"/></g>
<g filter="url(#b2_0)"><polygon points="876.2,113.8 897.0,87.2 891.8,103.8 876.2,123.7 869.2,128.7" fill="rgb(207,207,207)"/></g>
<g filter="url(#b0_9)"><ellipse cx="872.7" cy="51.8" rx="12.1" ry="1.3" fill="rgb(222,222,222)"/><ellipse cx="894.4" cy="56.9" rx="9.5" ry="1.5" fill="rgb(217,217,217)"/></g>
<g filter="url(#b0_7)"><path d="M838.3,85.1 L839.0,86.4 L839.9,88.3 L840.9,90.4 L842.1,92.8 L843.2,95.1 L844.4,97.4 L845.4,99.6 L846.6,101.9 L847.8,104.3 L849.0,106.7 L850.2,109.1 L851.5,111.2 L852.7,113.1 L853.9,114.9 L855.0,116.4 L856.1,117.9 L857.3,119.3 L858.4,120.8 L859.7,122.4 L861.1,124.2 L862.6,126.0 L863.9,127.7 L865.0,129.1 L865.9,130.1 L870.2,127.3 L869.6,126.1 L868.7,124.5 L867.7,122.6 L866.6,120.6 L865.5,118.6 L864.5,116.7 L863.5,115.0 L862.5,113.4 L861.6,111.9 L860.6,110.3 L859.7,108.7 L858.6,107.0 L857.5,105.0 L856.3,102.8 L855.0,100.5 L853.6,98.1 L852.2,95.8 L850.8,93.6 L849.3,91.4 L847.7,89.3 L846.0,87.2 L844.5,85.3 L843.2,83.7 L842.3,82.6Z" fill="rgb(255,255,255)"/><circle cx="840.3" cy="83.8" r="2.3" fill="rgb(255,255,255)"/><circle cx="868.0" cy="128.7" r="2.6" fill="rgb(255,255,255)"/><path d="M914.0,71.7 L912.8,73.0 L911.1,74.6 L909.0,76.6 L906.8,78.9 L904.5,81.2 L902.4,83.5 L900.3,85.9 L898.2,88.4 L896.1,90.9 L894.0,93.6 L892.0,96.2 L889.9,98.9 L887.9,101.6 L885.8,104.4 L883.8,107.3 L881.8,110.1 L879.9,112.7 L878.1,115.1 L876.2,117.4 L874.3,119.7 L872.3,122.0 L870.5,124.0 L869.0,125.7 L867.9,126.9 L871.7,130.5 L872.8,129.3 L874.5,127.8 L876.4,125.9 L878.6,123.7 L880.8,121.4 L882.9,119.1 L885.0,116.6 L887.1,114.0 L889.2,111.2 L891.3,108.5 L893.3,105.7 L895.4,103.0 L897.4,100.4 L899.4,97.7 L901.4,95.1 L903.4,92.5 L905.4,89.9 L907.2,87.5 L909.0,85.0 L910.9,82.5 L912.8,80.0 L914.5,77.7 L916.0,75.7 L917.0,74.3Z" fill="rgb(255,255,255)"/><circle cx="915.5" cy="73.0" r="2.0" fill="rgb(255,255,255)"/><circle cx="869.8" cy="128.7" r="2.6" fill="rgb(255,255,255)"/><path d="M866.3,130.4 L866.4,132.6 L866.5,134.8 L866.6,137.0 L866.7,139.2 L866.8,141.5 L866.9,143.7 L872.3,143.7 L872.4,141.5 L872.5,139.2 L872.6,137.0 L872.7,134.8 L872.8,132.6 L872.8,130.4Z" fill="rgb(255,255,255)"/><circle cx="869.6" cy="130.4" r="3.2" fill="rgb(255,255,255)"/><circle cx="869.6" cy="143.7" r="2.7" fill="rgb(255,255,255)"/></g>
<g filter="url(#b0_6)"><path d="M871.0,142.1 L871.1,144.5 L871.3,147.8 L871.6,151.7 L871.9,155.9 L872.1,160.0 L872.4,163.7 L872.6,167.2 L872.9,170.9 L873.1,174.5 L873.3,177.8 L873.5,180.6 L873.7,182.6 L876.3,182.5 L876.2,180.5 L876.1,177.7 L876.0,174.4 L875.8,170.7 L875.7,167.1 L875.5,163.5 L875.2,159.8 L874.9,155.7 L874.6,151.5 L874.2,147.6 L874.0,144.3 L873.8,141.9Z" fill="rgb(255,255,255)"/><circle cx="872.4" cy="142.0" r="1.4" fill="rgb(255,255,255)"/><circle cx="875.0" cy="182.6" r="1.3" fill="rgb(255,255,255)"/><path d="M867.1,145.2 L866.9,147.3 L866.7,150.1 L866.4,153.4 L866.0,157.0 L865.8,160.4 L865.5,163.5 L865.4,166.4 L865.2,169.3 L865.1,172.2 L865.0,174.7 L864.9,176.9 L864.8,178.5 L867.4,178.6 L867.5,177.1 L867.7,174.9 L867.9,172.3 L868.1,169.5 L868.3,166.6 L868.5,163.7 L868.7,160.7 L868.9,157.2 L869.1,153.6 L869.4,150.3 L869.5,147.5 L869.7,145.4Z" fill="rgb(255,255,255)"/><circle cx="868.4" cy="145.3" r="1.3" fill="rgb(255,255,255)"/><circle cx="866.1" cy="178.6" r="1.3" fill="rgb(255,255,255)"/></g>
<g filter="url(#b0_7)"><path d="M839.3,134.8 L839.9,135.4 L840.7,136.2 L841.7,137.1 L842.7,138.2 L843.8,139.2 L844.9,140.4 L846.0,141.5 L847.1,142.7 L848.3,143.9 L849.5,145.2 L850.7,146.6 L852.0,148.2 L853.3,150.0 L854.8,151.9 L856.3,154.0 L857.7,156.2 L859.0,158.5 L860.2,160.8 L861.3,163.4 L862.4,166.4 L863.4,169.7 L864.3,172.7 L865.1,175.3 L865.6,177.2 L868.0,176.6 L867.6,174.7 L867.2,172.0 L866.6,168.9 L865.9,165.5 L865.0,162.2 L864.1,159.2 L862.9,156.5 L861.6,153.9 L860.3,151.5 L858.8,149.2 L857.4,147.1 L856.0,145.1 L854.6,143.4 L853.2,141.8 L851.8,140.4 L850.5,139.2 L849.1,138.1 L847.9,137.0 L846.6,136.0 L845.2,135.1 L843.9,134.3 L842.7,133.6 L841.7,133.0 L841.0,132.6Z" fill="rgb(255,255,255)"/><circle cx="840.1" cy="133.7" r="1.4" fill="rgb(255,255,255)"/><circle cx="866.8" cy="176.9" r="1.2" fill="rgb(255,255,255)"/></g>
</g>
<polygon points="869.6,143.0 877.9,218.5 862.7,218.5" fill="#fff"/>
</g>
<line x1="858.85" y1="216.20" x2="886.58" y2="216.20" stroke="#b4a078" stroke-width="1.2"/>
<path d="M782.60,50.90 H955.70 V216.80" fill="none" stroke="#000030" stroke-opacity="0.5" stroke-width="0.9"/>
<line x1="782.60" y1="50.60" x2="782.60" y2="217.30" stroke="#1a1a3a" stroke-width="1.2"/>
<line x1="782.10" y1="217.20" x2="956.40" y2="217.20" stroke="#9a9ab4" stroke-width="1.3"/>
<line x1="779.80" y1="216.80" x2="782.60" y2="216.80" stroke="#222" stroke-width="1"/>
<line x1="782.60" y1="217.80" x2="782.60" y2="219.80" stroke="#222" stroke-width="1"/>
<text x="778.40" y="221.10" font-size="12.2" text-anchor="end" fill="#000">0</text>
<text x="782.60" y="231.90" font-size="12.2" text-anchor="middle" fill="#000">0</text>
<line x1="781.10" y1="200.18" x2="782.60" y2="200.18" stroke="#222" stroke-width="1"/>
<line x1="799.93" y1="217.80" x2="799.93" y2="218.80" stroke="#222" stroke-width="1"/>
<line x1="779.80" y1="183.56" x2="782.60" y2="183.56" stroke="#222" stroke-width="1"/>
<line x1="817.26" y1="217.80" x2="817.26" y2="219.80" stroke="#222" stroke-width="1"/>
<text x="778.40" y="187.86" font-size="12.2" text-anchor="end" fill="#000">2</text>
<text x="817.26" y="231.90" font-size="12.2" text-anchor="middle" fill="#000">2</text>
<line x1="781.10" y1="166.94" x2="782.60" y2="166.94" stroke="#222" stroke-width="1"/>
<line x1="834.59" y1="217.80" x2="834.59" y2="218.80" stroke="#222" stroke-width="1"/>
<line x1="779.80" y1="150.32" x2="782.60" y2="150.32" stroke="#222" stroke-width="1"/>
<line x1="851.92" y1="217.80" x2="851.92" y2="219.80" stroke="#222" stroke-width="1"/>
<text x="778.40" y="154.62" font-size="12.2" text-anchor="end" fill="#000">4</text>
<text x="851.92" y="231.90" font-size="12.2" text-anchor="middle" fill="#000">4</text>
<line x1="781.10" y1="133.70" x2="782.60" y2="133.70" stroke="#222" stroke-width="1"/>
<line x1="869.25" y1="217.80" x2="869.25" y2="218.80" stroke="#222" stroke-width="1"/>
<line x1="779.80" y1="117.08" x2="782.60" y2="117.08" stroke="#222" stroke-width="1"/>
<line x1="886.58" y1="217.80" x2="886.58" y2="219.80" stroke="#222" stroke-width="1"/>
<text x="778.40" y="121.38" font-size="12.2" text-anchor="end" fill="#000">6</text>
<text x="886.58" y="231.90" font-size="12.2" text-anchor="middle" fill="#000">6</text>
<line x1="781.10" y1="100.46" x2="782.60" y2="100.46" stroke="#222" stroke-width="1"/>
<line x1="903.91" y1="217.80" x2="903.91" y2="218.80" stroke="#222" stroke-width="1"/>
<line x1="779.80" y1="83.84" x2="782.60" y2="83.84" stroke="#222" stroke-width="1"/>
<line x1="921.24" y1="217.80" x2="921.24" y2="219.80" stroke="#222" stroke-width="1"/>
<text x="778.40" y="88.14" font-size="12.2" text-anchor="end" fill="#000">8</text>
<text x="921.24" y="231.90" font-size="12.2" text-anchor="middle" fill="#000">8</text>
<line x1="781.10" y1="67.22" x2="782.60" y2="67.22" stroke="#222" stroke-width="1"/>
<line x1="938.57" y1="217.80" x2="938.57" y2="218.80" stroke="#222" stroke-width="1"/>
<line x1="779.80" y1="50.60" x2="782.60" y2="50.60" stroke="#222" stroke-width="1"/>
<line x1="955.90" y1="217.80" x2="955.90" y2="219.80" stroke="#222" stroke-width="1"/>
<text x="778.40" y="54.90" font-size="12.2" text-anchor="end" fill="#000">10</text>
<text x="955.90" y="231.90" font-size="12.2" text-anchor="middle" fill="#000">10</text>
<text x="869.25" y="253.10" font-size="13.4" text-anchor="middle" fill="#000" textLength="163" lengthAdjust="spacingAndGlyphs">Coordinate in X axis (µm)</text>
<text x="757.50" y="133.70" font-size="13.4" text-anchor="middle" fill="#000" textLength="163" lengthAdjust="spacingAndGlyphs" transform="rotate(-90 757.50 133.70)">Coordinate in Y axis (µm)</text>
<text x="866.90" y="45.00" font-size="16.2" text-anchor="middle" fill="#000" textLength="51.8" lengthAdjust="spacingAndGlyphs">AR=5.0</text>
<text x="745.70" y="33.70" font-size="32" text-anchor="start" fill="#000" font-weight="bold">d</text>
<rect x="996" y="75.0" width="8" height="129.7" fill="url(#cbar)"/>
<text x="1011.20" y="81.00" font-size="15.8" text-anchor="start" fill="#000">1.0</text>
<text x="1014.30" y="145.40" font-size="15.5" text-anchor="start" fill="#000">0.5</text>
<text x="1013.80" y="210.40" font-size="15.5" text-anchor="start" fill="#000">0</text>
<text x="985.30" y="140.50" font-size="16" text-anchor="middle" fill="#000" textLength="111" lengthAdjust="spacingAndGlyphs" transform="rotate(-90 985.30 140.50)">Relative damage</text>
<clipPath id="ce"><rect x="85.2" y="290.0" width="384.0" height="243.89999999999998"/></clipPath>
<clipPath id="cf"><rect x="605.6" y="292.1" width="383.0" height="243.29999999999995"/></clipPath>
<g clip-path="url(#ce)">
<path d="M85.2,323.0 L86.2,326.0 L87.2,335.6 L88.2,416.7 L89.2,481.8 L90.2,521.3 L91.2,529.6 L92.2,532.4 L93.2,532.4 L94.2,532.4 L95.2,532.4 L96.2,532.4 L97.2,532.4 L98.2,532.4 L99.2,532.4 L100.2,532.4 L101.2,532.4 L102.2,532.4 L103.2,532.4 L104.2,532.4 L105.1,532.4 L106.1,532.4 L107.1,532.4 L108.1,532.4 L109.1,532.4 L110.1,532.4 L111.1,532.4 L112.1,532.4 L113.1,532.4 L114.1,532.4 L115.1,532.4 L116.1,508.2 L117.1,464.5 L118.1,421.9 L119.1,375.1 L120.1,334.5 L121.1,324.5 L122.1,320.8 L123.1,320.8 L124.1,320.9 L125.1,321.0 L126.1,321.1 L127.1,321.2 L128.1,321.4 L129.1,322.0 L130.1,323.0 L131.1,324.3 L132.1,325.8 L133.1,327.7 L134.1,329.7 L135.1,331.9 L136.1,334.2 L137.1,336.7 L138.1,339.4 L139.1,343.0 L140.1,347.4 L141.1,352.4 L142.1,357.9 L143.0,363.7 L144.0,369.7 L145.0,375.6 L146.0,381.3 L147.0,387.7 L148.0,394.9 L149.0,402.4 L150.0,409.9 L151.0,416.8 L152.0,422.7 L153.0,427.2 L154.0,429.9 L155.0,431.7 L156.0,433.1 L157.0,434.2 L158.0,435.2 L159.0,436.4 L160.0,438.0 L161.0,440.3 L162.0,445.9 L163.0,454.3 L164.0,456.1 L165.0,455.9 L166.0,455.4 L167.0,454.9 L168.0,454.3 L169.0,453.7 L170.0,453.0 L171.0,452.3 L172.0,451.4 L173.0,450.5 L174.0,449.7 L175.0,449.0 L176.0,448.3 L177.0,447.8 L178.0,447.2 L179.0,446.8 L180.0,446.3 L181.0,445.8 L181.9,445.3 L182.9,444.8 L183.9,444.2 L184.9,443.6 L185.9,442.9 L186.9,442.2 L187.9,441.5 L188.9,440.8 L189.9,440.0 L190.9,439.2 L191.9,438.4 L192.9,437.6 L193.9,436.7 L194.9,435.9 L195.9,435.0 L196.9,434.2 L197.9,433.3 L198.9,432.5 L199.9,431.7 L200.9,430.9 L201.9,430.1 L202.9,429.3 L203.9,428.5 L204.9,427.8 L205.9,427.1 L206.9,426.5 L207.9,425.9 L208.9,425.3 L209.9,424.7 L210.9,424.2 L211.9,423.6 L212.9,423.1 L213.9,422.7 L214.9,422.2 L215.9,421.7 L216.9,421.3 L217.9,420.8 L218.9,420.4 L219.8,420.0 L220.8,419.5 L221.8,419.1 L222.8,418.7 L223.8,418.3 L224.8,417.9 L225.8,417.5 L226.8,417.1 L227.8,416.7 L228.8,416.3 L229.8,415.9 L230.8,415.5 L231.8,415.0 L232.8,414.6 L233.8,414.2 L234.8,413.7 L235.8,413.2 L236.8,412.8 L237.8,412.3 L238.8,411.8 L239.8,411.2 L240.8,410.7 L241.8,410.2 L242.8,409.6 L243.8,409.1 L244.8,408.6 L245.8,408.0 L246.8,407.5 L247.8,407.0 L248.8,406.5 L249.8,405.9 L250.8,405.4 L251.8,404.8 L252.8,404.3 L253.8,403.7 L254.8,403.1 L255.8,402.5 L256.8,401.9 L257.8,401.2 L258.7,400.5 L259.7,399.8 L260.7,399.1 L261.7,398.3 L262.7,397.5 L263.7,396.7 L264.7,395.8 L265.7,394.9 L266.7,394.0 L267.7,393.0 L268.7,392.0 L269.7,390.9 L270.7,389.7 L271.7,387.9 L272.7,385.9 L273.7,384.2 L274.7,382.6 L275.7,381.4 L276.7,381.0 L277.7,380.7 L278.7,380.5 L279.7,380.1 L280.7,379.6 L281.7,379.0 L282.7,378.3 L283.7,377.5 L284.7,376.6 L285.7,375.7 L286.7,374.7 L287.7,373.6 L288.7,372.5 L289.7,371.3 L290.7,370.0 L291.7,368.8 L292.7,367.4 L293.7,366.1 L294.7,364.7 L295.7,363.3 L296.6,361.9 L297.6,360.5 L298.6,359.0 L299.6,357.6 L300.6,356.0 L301.6,354.3 L302.6,352.4 L303.6,350.4 L304.6,348.3 L305.6,346.2 L306.6,344.0 L307.6,341.8 L308.6,339.6 L309.6,337.4 L310.6,335.3 L311.6,333.3 L312.6,331.4 L313.6,329.7 L314.6,328.1 L315.6,326.4 L316.6,324.7 L317.6,323.1 L318.6,321.8 L319.6,321.0 L320.6,320.8 L321.6,320.9 L322.6,321.0 L323.6,321.2 L324.6,321.4 L325.6,321.7 L326.6,322.0 L327.6,322.8 L328.6,324.3 L329.6,326.1 L330.6,328.4 L331.6,330.8 L332.6,333.3 L333.6,335.7 L334.6,337.9 L335.5,339.9 L336.5,341.9 L337.5,343.9 L338.5,345.9 L339.5,347.9 L340.5,349.9 L341.5,351.9 L342.5,353.9 L343.5,356.0 L344.5,358.0 L345.5,360.0 L346.5,362.1 L347.5,364.2 L348.5,366.3 L349.5,368.4 L350.5,370.5 L351.5,372.6 L352.5,374.8 L353.5,377.0 L354.5,379.2 L355.5,381.4 L356.5,383.7 L357.5,385.9 L358.5,388.1 L359.5,390.3 L360.5,392.6 L361.5,394.9 L362.5,397.2 L363.5,399.6 L364.5,402.0 L365.5,404.4 L366.5,407.0 L367.5,409.5 L368.5,412.2 L369.5,414.9 L370.5,417.6 L371.5,420.5 L372.5,423.4 L373.4,426.5 L374.4,429.6 L375.4,432.7 L376.4,436.0 L377.4,439.3 L378.4,442.8 L379.4,446.3 L380.4,449.9 L381.4,453.6 L382.4,457.3 L383.4,461.2 L384.4,465.1 L385.4,469.2 L386.4,473.8 L387.4,478.8 L388.4,484.1 L389.4,489.5 L390.4,495.0 L391.4,500.3 L392.4,505.5 L393.4,510.4 L394.4,514.8 L395.4,518.6 L396.4,521.8 L397.4,524.8 L398.4,527.5 L399.4,529.5 L400.4,530.3 L401.4,530.8 L402.4,531.1 L403.4,531.5 L404.4,531.7 L405.4,532.0 L406.4,532.1 L407.4,532.3 L408.4,532.4 L409.4,532.4 L410.4,532.2 L411.4,531.3 L412.3,529.7 L413.3,527.6 L414.3,525.0 L415.3,522.2 L416.3,519.2 L417.3,516.1 L418.3,513.1 L419.3,510.2 L420.3,507.3 L421.3,504.0 L422.3,500.5 L423.3,496.8 L424.3,493.0 L425.3,489.2 L426.3,485.4 L427.3,481.7 L428.3,478.2 L429.3,474.9 L430.3,472.0 L431.3,469.4 L432.3,466.6 L433.3,463.9 L434.3,461.2 L435.3,459.0 L436.3,457.3 L437.3,456.5 L438.3,456.6 L439.3,457.9 L440.3,460.2 L441.3,463.1 L442.3,466.1 L443.3,470.2 L444.3,475.8 L445.3,482.4 L446.3,489.1 L447.3,495.2 L448.3,500.1 L449.3,504.7 L450.2,509.1 L451.2,512.5 L452.2,513.9 L453.2,512.2 L454.2,507.1 L455.2,499.6 L456.2,490.8 L457.2,481.4 L458.2,471.8 L459.2,459.4 L460.2,445.1 L461.2,430.0 L462.2,415.4 L463.2,402.7 L464.2,392.0 L465.2,381.9 L466.2,372.3 L467.2,363.5 L468.2,355.4 L469.2,348.1" fill="none" stroke="#6e8c37" stroke-width="1.3" stroke-linejoin="round"/>
<path d="M85.2,318.6 L86.2,320.2 L87.2,325.1 L88.2,333.2 L89.2,381.4 L90.2,442.1 L91.2,494.6 L92.2,521.9 L93.2,528.2 L94.2,531.7 L95.2,532.4 L96.2,532.4 L97.2,532.4 L98.2,532.4 L99.2,532.4 L100.2,532.4 L101.2,532.4 L102.2,532.4 L103.2,532.4 L104.2,532.4 L105.1,532.4 L106.1,532.4 L107.1,532.4 L108.1,532.4 L109.1,532.4 L110.1,532.4 L111.1,532.4 L112.1,532.4 L113.1,532.4 L114.1,532.4 L115.1,532.4 L116.1,532.4 L117.1,532.4 L118.1,531.2 L119.1,511.6 L120.1,479.6 L121.1,446.6 L122.1,406.8 L123.1,367.0 L124.1,326.5 L125.1,321.5 L126.1,319.8 L127.1,318.6 L128.1,317.8 L129.1,317.2 L130.1,316.8 L131.1,316.5 L132.1,316.1 L133.1,315.8 L134.1,315.5 L135.1,315.3 L136.1,315.0 L137.1,314.8 L138.1,314.6 L139.1,314.5 L140.1,314.4 L141.1,314.3 L142.1,314.2 L143.0,314.2 L144.0,314.3 L145.0,314.6 L146.0,315.1 L147.0,315.7 L148.0,316.4 L149.0,317.2 L150.0,318.2 L151.0,319.4 L152.0,321.9 L153.0,325.4 L154.0,329.8 L155.0,334.8 L156.0,339.9 L157.0,345.1 L158.0,350.3 L159.0,356.0 L160.0,362.3 L161.0,369.2 L162.0,377.1 L163.0,386.5 L164.0,399.1 L165.0,412.4 L166.0,423.7 L167.0,433.8 L168.0,443.3 L169.0,451.2 L170.0,456.7 L171.0,460.6 L172.0,460.7 L173.0,460.5 L174.0,460.2 L175.0,459.9 L176.0,459.4 L177.0,458.5 L178.0,457.3 L179.0,455.8 L180.0,454.1 L181.0,452.3 L181.9,450.6 L182.9,449.0 L183.9,447.6 L184.9,446.5 L185.9,445.7 L186.9,444.9 L187.9,444.2 L188.9,443.5 L189.9,442.9 L190.9,442.3 L191.9,441.7 L192.9,441.2 L193.9,440.7 L194.9,440.2 L195.9,439.7 L196.9,439.2 L197.9,438.7 L198.9,438.3 L199.9,437.9 L200.9,437.4 L201.9,437.0 L202.9,436.5 L203.9,436.1 L204.9,435.7 L205.9,435.3 L206.9,434.9 L207.9,434.5 L208.9,434.1 L209.9,433.8 L210.9,433.4 L211.9,433.0 L212.9,432.7 L213.9,432.3 L214.9,432.0 L215.9,431.6 L216.9,431.3 L217.9,430.9 L218.9,430.6 L219.8,430.3 L220.8,430.0 L221.8,429.6 L222.8,429.3 L223.8,429.0 L224.8,428.7 L225.8,428.4 L226.8,428.1 L227.8,427.8 L228.8,427.5 L229.8,427.2 L230.8,426.9 L231.8,426.6 L232.8,426.2 L233.8,425.9 L234.8,425.6 L235.8,425.3 L236.8,425.0 L237.8,424.7 L238.8,424.4 L239.8,424.1 L240.8,423.8 L241.8,423.5 L242.8,423.2 L243.8,423.0 L244.8,422.7 L245.8,422.4 L246.8,422.2 L247.8,421.9 L248.8,421.7 L249.8,421.4 L250.8,421.1 L251.8,420.9 L252.8,420.6 L253.8,420.4 L254.8,420.1 L255.8,419.9 L256.8,419.6 L257.8,419.4 L258.7,419.1 L259.7,418.8 L260.7,418.5 L261.7,418.2 L262.7,417.9 L263.7,417.6 L264.7,417.3 L265.7,417.0 L266.7,416.6 L267.7,416.3 L268.7,415.9 L269.7,415.5 L270.7,415.1 L271.7,414.5 L272.7,414.0 L273.7,413.4 L274.7,412.9 L275.7,412.4 L276.7,412.0 L277.7,411.7 L278.7,411.3 L279.7,411.0 L280.7,410.6 L281.7,410.3 L282.7,410.0 L283.7,409.7 L284.7,409.3 L285.7,409.0 L286.7,408.5 L287.7,408.0 L288.7,407.4 L289.7,406.7 L290.7,405.9 L291.7,405.0 L292.7,403.9 L293.7,402.8 L294.7,401.6 L295.7,400.2 L296.6,398.8 L297.6,397.4 L298.6,395.8 L299.6,394.2 L300.6,392.5 L301.6,390.8 L302.6,389.0 L303.6,387.2 L304.6,385.3 L305.6,383.5 L306.6,381.6 L307.6,379.7 L308.6,377.7 L309.6,375.5 L310.6,373.1 L311.6,370.4 L312.6,367.5 L313.6,364.5 L314.6,361.4 L315.6,358.2 L316.6,355.1 L317.6,352.0 L318.6,348.9 L319.6,346.0 L320.6,343.3 L321.6,340.8 L322.6,338.5 L323.6,336.6 L324.6,334.7 L325.6,332.9 L326.6,331.2 L327.6,329.6 L328.6,328.0 L329.6,326.6 L330.6,325.3 L331.6,324.2 L332.6,323.3 L333.6,322.5 L334.6,321.7 L335.5,321.0 L336.5,320.5 L337.5,320.4 L338.5,320.6 L339.5,321.3 L340.5,322.2 L341.5,323.4 L342.5,324.8 L343.5,326.2 L344.5,327.6 L345.5,329.1 L346.5,330.9 L347.5,332.8 L348.5,335.0 L349.5,337.3 L350.5,339.8 L351.5,342.4 L352.5,345.2 L353.5,348.0 L354.5,351.0 L355.5,354.0 L356.5,357.1 L357.5,360.3 L358.5,363.5 L359.5,366.7 L360.5,369.9 L361.5,373.1 L362.5,376.3 L363.5,379.7 L364.5,383.1 L365.5,386.8 L366.5,390.5 L367.5,394.3 L368.5,398.2 L369.5,402.1 L370.5,406.2 L371.5,410.2 L372.5,414.3 L373.4,418.4 L374.4,422.6 L375.4,426.7 L376.4,430.8 L377.4,434.9 L378.4,439.1 L379.4,443.5 L380.4,448.0 L381.4,452.6 L382.4,457.2 L383.4,461.9 L384.4,466.5 L385.4,471.1 L386.4,475.7 L387.4,480.1 L388.4,484.4 L389.4,488.5 L390.4,492.3 L391.4,496.0 L392.4,499.3 L393.4,502.7 L394.4,506.1 L395.4,509.6 L396.4,513.1 L397.4,516.6 L398.4,519.9 L399.4,522.9 L400.4,525.7 L401.4,528.1 L402.4,530.0 L403.4,531.4 L404.4,532.2 L405.4,532.4 L406.4,532.4 L407.4,532.4 L408.4,532.4 L409.4,532.4 L410.4,532.4 L411.4,532.4 L412.3,532.4 L413.3,532.4 L414.3,532.0 L415.3,530.4 L416.3,527.9 L417.3,524.6 L418.3,520.7 L419.3,516.3 L420.3,511.8 L421.3,507.2 L422.3,502.7 L423.3,498.5 L424.3,494.2 L425.3,489.5 L426.3,484.4 L427.3,479.1 L428.3,473.5 L429.3,467.9 L430.3,462.2 L431.3,456.5 L432.3,450.9 L433.3,445.4 L434.3,440.2 L435.3,435.2 L436.3,430.7 L437.3,426.5 L438.3,422.9 L439.3,419.6 L440.3,416.5 L441.3,413.4 L442.3,410.5 L443.3,407.7 L444.3,405.1 L445.3,402.6 L446.3,400.3 L447.3,398.2 L448.3,396.3 L449.3,394.6 L450.2,393.2 L451.2,391.8 L452.2,390.5 L453.2,389.4 L454.2,388.7 L455.2,388.6 L456.2,391.4 L457.2,395.8 L458.2,399.4 L459.2,400.0 L460.2,398.5 L461.2,395.9 L462.2,392.8 L463.2,389.8 L464.2,387.0 L465.2,384.2 L466.2,381.2 L467.2,378.1 L468.2,374.9 L469.2,371.5" fill="none" stroke="#a4b438" stroke-width="1.3" stroke-linejoin="round"/>
<path d="M85.2,318.6 L86.2,318.9 L87.2,319.7 L88.2,321.2 L89.2,324.6 L90.2,375.4 L91.2,432.2 L92.2,478.3 L93.2,513.7 L94.2,525.5 L95.2,530.9 L96.2,532.4 L97.2,532.4 L98.2,532.4 L99.2,532.4 L100.2,532.4 L101.2,532.4 L102.2,532.4 L103.2,532.4 L104.2,532.4 L105.1,532.4 L106.1,532.4 L107.1,532.4 L108.1,532.4 L109.1,532.4 L110.1,532.4 L111.1,532.4 L112.1,532.4 L113.1,532.4 L114.1,532.4 L115.1,532.4 L116.1,532.4 L117.1,532.4 L118.1,532.4 L119.1,532.4 L120.1,530.4 L121.1,507.7 L122.1,471.1 L123.1,434.1 L124.1,386.0 L125.1,343.4 L126.1,327.2 L127.1,319.4 L128.1,318.2 L129.1,317.7 L130.1,317.2 L131.1,316.9 L132.1,316.7 L133.1,316.5 L134.1,316.4 L135.1,316.4 L136.1,316.4 L137.1,316.4 L138.1,316.4 L139.1,316.4 L140.1,316.4 L141.1,316.4 L142.1,316.4 L143.0,316.4 L144.0,316.4 L145.0,316.4 L146.0,316.4 L147.0,316.4 L148.0,316.4 L149.0,316.4 L150.0,316.4 L151.0,316.4 L152.0,316.4 L153.0,316.4 L154.0,316.4 L155.0,316.5 L156.0,317.1 L157.0,318.1 L158.0,319.4 L159.0,321.1 L160.0,322.9 L161.0,325.7 L162.0,330.4 L163.0,336.4 L164.0,343.3 L165.0,350.3 L166.0,357.1 L167.0,364.1 L168.0,371.8 L169.0,379.7 L170.0,387.7 L171.0,395.5 L172.0,402.9 L173.0,410.9 L174.0,419.0 L175.0,426.7 L176.0,433.4 L177.0,438.4 L178.0,441.6 L179.0,444.4 L180.0,446.9 L181.0,448.9 L181.9,450.2 L182.9,450.8 L183.9,450.7 L184.9,450.1 L185.9,449.3 L186.9,448.3 L187.9,447.3 L188.9,446.4 L189.9,445.6 L190.9,444.8 L191.9,443.9 L192.9,443.0 L193.9,442.1 L194.9,441.3 L195.9,440.4 L196.9,439.7 L197.9,439.0 L198.9,438.3 L199.9,437.8 L200.9,437.4 L201.9,437.1 L202.9,436.7 L203.9,436.3 L204.9,436.0 L205.9,435.7 L206.9,435.4 L207.9,435.0 L208.9,434.8 L209.9,434.5 L210.9,434.2 L211.9,433.9 L212.9,433.7 L213.9,433.4 L214.9,433.2 L215.9,432.9 L216.9,432.7 L217.9,432.5 L218.9,432.3 L219.8,432.1 L220.8,431.9 L221.8,431.7 L222.8,431.5 L223.8,431.3 L224.8,431.1 L225.8,430.9 L226.8,430.8 L227.8,430.6 L228.8,430.4 L229.8,430.3 L230.8,430.1 L231.8,429.9 L232.8,429.8 L233.8,429.6 L234.8,429.5 L235.8,429.3 L236.8,429.1 L237.8,429.0 L238.8,428.8 L239.8,428.7 L240.8,428.5 L241.8,428.4 L242.8,428.3 L243.8,428.1 L244.8,428.0 L245.8,427.9 L246.8,427.9 L247.8,427.8 L248.8,427.7 L249.8,427.6 L250.8,427.5 L251.8,427.5 L252.8,427.4 L253.8,427.3 L254.8,427.3 L255.8,427.2 L256.8,427.1 L257.8,427.0 L258.7,426.9 L259.7,426.8 L260.7,426.7 L261.7,426.6 L262.7,426.5 L263.7,426.4 L264.7,426.2 L265.7,426.1 L266.7,425.9 L267.7,425.7 L268.7,425.5 L269.7,425.3 L270.7,425.1 L271.7,424.9 L272.7,424.6 L273.7,424.2 L274.7,423.0 L275.7,421.4 L276.7,420.2 L277.7,420.2 L278.7,421.5 L279.7,423.2 L280.7,424.3 L281.7,424.4 L282.7,424.3 L283.7,424.2 L284.7,424.0 L285.7,423.7 L286.7,423.4 L287.7,423.0 L288.7,422.6 L289.7,422.1 L290.7,421.6 L291.7,421.1 L292.7,420.5 L293.7,419.9 L294.7,419.3 L295.7,418.7 L296.6,418.0 L297.6,417.4 L298.6,416.7 L299.6,416.0 L300.6,415.3 L301.6,414.5 L302.6,413.7 L303.6,412.7 L304.6,411.7 L305.6,410.5 L306.6,409.3 L307.6,408.1 L308.6,406.7 L309.6,405.3 L310.6,403.9 L311.6,402.3 L312.6,400.8 L313.6,399.1 L314.6,397.5 L315.6,395.8 L316.6,393.9 L317.6,391.8 L318.6,389.5 L319.6,386.9 L320.6,384.2 L321.6,381.4 L322.6,378.5 L323.6,375.4 L324.6,372.3 L325.6,369.2 L326.6,366.0 L327.6,362.9 L328.6,359.8 L329.6,356.7 L330.6,353.8 L331.6,350.9 L332.6,348.2 L333.6,345.7 L334.6,343.4 L335.5,341.2 L336.5,338.8 L337.5,336.4 L338.5,333.9 L339.5,331.5 L340.5,329.2 L341.5,327.1 L342.5,325.2 L343.5,323.7 L344.5,322.6 L345.5,321.9 L346.5,321.7 L347.5,322.0 L348.5,322.6 L349.5,323.5 L350.5,324.7 L351.5,326.0 L352.5,327.4 L353.5,328.9 L354.5,330.4 L355.5,332.1 L356.5,334.1 L357.5,336.3 L358.5,338.7 L359.5,341.3 L360.5,344.2 L361.5,347.1 L362.5,350.3 L363.5,353.6 L364.5,357.0 L365.5,360.5 L366.5,364.0 L367.5,367.7 L368.5,371.4 L369.5,375.1 L370.5,378.9 L371.5,382.6 L372.5,386.4 L373.4,390.1 L374.4,393.9 L375.4,398.0 L376.4,402.3 L377.4,406.8 L378.4,411.4 L379.4,416.2 L380.4,421.0 L381.4,425.9 L382.4,430.9 L383.4,435.8 L384.4,440.8 L385.4,445.8 L386.4,450.6 L387.4,455.4 L388.4,460.1 L389.4,464.7 L390.4,469.1 L391.4,473.3 L392.4,477.3 L393.4,481.3 L394.4,485.6 L395.4,490.0 L396.4,494.6 L397.4,499.1 L398.4,503.7 L399.4,508.1 L400.4,512.4 L401.4,516.4 L402.4,520.1 L403.4,523.5 L404.4,526.4 L405.4,528.8 L406.4,530.7 L407.4,531.9 L408.4,532.4 L409.4,532.4 L410.4,532.4 L411.4,532.4 L412.3,532.4 L413.3,532.4 L414.3,532.4 L415.3,532.4 L416.3,532.4 L417.3,531.5 L418.3,529.4 L419.3,526.3 L420.3,522.3 L421.3,517.7 L422.3,512.6 L423.3,507.2 L424.3,501.7 L425.3,496.4 L426.3,491.4 L427.3,486.7 L428.3,481.9 L429.3,476.7 L430.3,471.3 L431.3,465.6 L432.3,459.8 L433.3,454.0 L434.3,448.2 L435.3,442.4 L436.3,436.9 L437.3,431.6 L438.3,426.6 L439.3,422.0 L440.3,417.9 L441.3,414.3 L442.3,411.3 L443.3,408.7 L444.3,406.1 L445.3,403.5 L446.3,401.1 L447.3,398.7 L448.3,396.6 L449.3,394.7 L450.2,393.1 L451.2,391.8 L452.2,390.8 L453.2,390.3 L454.2,390.3 L455.2,391.1 L456.2,392.3 L457.2,393.7 L458.2,395.0 L459.2,395.7 L460.2,395.7 L461.2,395.1 L462.2,394.2 L463.2,392.8 L464.2,391.0 L465.2,388.7 L466.2,386.1 L467.2,383.1 L468.2,379.7 L469.2,375.9" fill="none" stroke="#cabf36" stroke-width="1.3" stroke-linejoin="round"/>
<path d="M85.2,316.4 L86.2,316.5 L87.2,316.8 L88.2,317.4 L89.2,318.3 L90.2,319.6 L91.2,322.5 L92.2,351.4 L93.2,389.7 L94.2,438.5 L95.2,486.8 L96.2,514.1 L97.2,528.5 L98.2,532.4 L99.2,532.4 L100.2,532.4 L101.2,532.4 L102.2,532.4 L103.2,532.4 L104.2,532.4 L105.1,532.4 L106.1,532.4 L107.1,532.4 L108.1,532.4 L109.1,532.4 L110.1,532.4 L111.1,532.4 L112.1,532.4 L113.1,532.4 L114.1,532.4 L115.1,532.4 L116.1,532.4 L117.1,532.4 L118.1,532.4 L119.1,532.4 L120.1,532.4 L121.1,532.4 L122.1,528.7 L123.1,498.4 L124.1,455.2 L125.1,407.4 L126.1,352.3 L127.1,327.8 L128.1,318.8 L129.1,318.0 L130.1,317.4 L131.1,317.0 L132.1,316.7 L133.1,316.5 L134.1,316.4 L135.1,316.4 L136.1,316.4 L137.1,316.4 L138.1,316.4 L139.1,316.4 L140.1,316.4 L141.1,316.4 L142.1,316.4 L143.0,316.4 L144.0,316.4 L145.0,316.4 L146.0,316.4 L147.0,316.4 L148.0,316.4 L149.0,316.4 L150.0,316.4 L151.0,316.4 L152.0,316.4 L153.0,316.4 L154.0,316.4 L155.0,316.4 L156.0,316.4 L157.0,316.4 L158.0,316.4 L159.0,316.7 L160.0,317.9 L161.0,319.7 L162.0,322.0 L163.0,324.7 L164.0,327.7 L165.0,331.9 L166.0,337.8 L167.0,345.1 L168.0,353.1 L169.0,361.4 L170.0,369.6 L171.0,379.1 L172.0,389.6 L173.0,400.4 L174.0,410.4 L175.0,419.0 L176.0,425.5 L177.0,431.6 L178.0,437.3 L179.0,442.2 L180.0,446.0 L181.0,448.3 L181.9,449.3 L182.9,450.1 L183.9,450.6 L184.9,450.9 L185.9,450.7 L186.9,450.0 L187.9,449.1 L188.9,448.0 L189.9,446.8 L190.9,445.7 L191.9,444.8 L192.9,444.1 L193.9,443.6 L194.9,443.2 L195.9,442.7 L196.9,442.3 L197.9,441.9 L198.9,441.5 L199.9,441.2 L200.9,440.8 L201.9,440.5 L202.9,440.2 L203.9,439.9 L204.9,439.6 L205.9,439.3 L206.9,439.1 L207.9,438.8 L208.9,438.5 L209.9,438.2 L210.9,438.0 L211.9,437.7 L212.9,437.4 L213.9,437.2 L214.9,436.9 L215.9,436.7 L216.9,436.4 L217.9,436.2 L218.9,435.9 L219.8,435.7 L220.8,435.5 L221.8,435.2 L222.8,435.0 L223.8,434.8 L224.8,434.6 L225.8,434.4 L226.8,434.2 L227.8,434.0 L228.8,433.8 L229.8,433.6 L230.8,433.4 L231.8,433.2 L232.8,433.0 L233.8,432.9 L234.8,432.7 L235.8,432.5 L236.8,432.4 L237.8,432.3 L238.8,432.1 L239.8,432.0 L240.8,431.9 L241.8,431.8 L242.8,431.7 L243.8,431.6 L244.8,431.5 L245.8,431.4 L246.8,431.4 L247.8,431.3 L248.8,431.2 L249.8,431.2 L250.8,431.1 L251.8,431.1 L252.8,431.0 L253.8,431.0 L254.8,430.9 L255.8,430.9 L256.8,430.8 L257.8,430.8 L258.7,430.7 L259.7,430.7 L260.7,430.6 L261.7,430.5 L262.7,430.4 L263.7,430.3 L264.7,430.2 L265.7,430.1 L266.7,430.0 L267.7,429.8 L268.7,429.7 L269.7,429.5 L270.7,429.4 L271.7,429.2 L272.7,429.0 L273.7,428.6 L274.7,427.4 L275.7,425.8 L276.7,424.6 L277.7,424.6 L278.7,425.9 L279.7,427.6 L280.7,428.7 L281.7,428.8 L282.7,428.8 L283.7,428.7 L284.7,428.7 L285.7,428.6 L286.7,428.5 L287.7,428.3 L288.7,428.2 L289.7,428.0 L290.7,427.8 L291.7,427.6 L292.7,427.4 L293.7,427.2 L294.7,426.9 L295.7,426.6 L296.6,426.4 L297.6,426.1 L298.6,425.7 L299.6,425.4 L300.6,425.1 L301.6,424.7 L302.6,424.3 L303.6,424.0 L304.6,423.6 L305.6,423.2 L306.6,422.8 L307.6,422.3 L308.6,421.9 L309.6,421.3 L310.6,420.6 L311.6,419.7 L312.6,418.8 L313.6,417.8 L314.6,416.6 L315.6,415.4 L316.6,414.0 L317.6,412.6 L318.6,411.1 L319.6,409.5 L320.6,407.9 L321.6,406.2 L322.6,404.4 L323.6,402.6 L324.6,400.7 L325.6,398.8 L326.6,396.8 L327.6,394.8 L328.6,392.4 L329.6,389.6 L330.6,386.5 L331.6,383.1 L332.6,379.5 L333.6,375.7 L334.6,371.8 L335.5,367.9 L336.5,363.9 L337.5,359.9 L338.5,356.1 L339.5,352.4 L340.5,348.9 L341.5,345.7 L342.5,342.7 L343.5,339.7 L344.5,336.5 L345.5,333.3 L346.5,330.2 L347.5,327.4 L348.5,325.0 L349.5,323.3 L350.5,322.4 L351.5,322.4 L352.5,322.9 L353.5,323.7 L354.5,324.8 L355.5,326.1 L356.5,327.6 L357.5,329.1 L358.5,330.7 L359.5,332.6 L360.5,335.0 L361.5,337.6 L362.5,340.5 L363.5,343.8 L364.5,347.2 L365.5,350.9 L366.5,354.8 L367.5,358.8 L368.5,363.0 L369.5,367.3 L370.5,371.6 L371.5,376.0 L372.5,380.4 L373.4,384.8 L374.4,389.2 L375.4,393.5 L376.4,397.7 L377.4,401.8 L378.4,406.1 L379.4,410.5 L380.4,415.1 L381.4,419.8 L382.4,424.7 L383.4,429.6 L384.4,434.5 L385.4,439.5 L386.4,444.5 L387.4,449.5 L388.4,454.4 L389.4,459.2 L390.4,464.0 L391.4,468.6 L392.4,473.1 L393.4,477.3 L394.4,481.4 L395.4,485.3 L396.4,488.8 L397.4,492.5 L398.4,496.2 L399.4,500.1 L400.4,503.9 L401.4,507.8 L402.4,511.5 L403.4,515.2 L404.4,518.6 L405.4,521.8 L406.4,524.6 L407.4,527.1 L408.4,529.2 L409.4,530.8 L410.4,531.9 L411.4,532.4 L412.3,532.4 L413.3,532.4 L414.3,532.4 L415.3,532.4 L416.3,532.4 L417.3,532.4 L418.3,532.4 L419.3,532.4 L420.3,531.5 L421.3,529.2 L422.3,525.7 L423.3,521.2 L424.3,515.9 L425.3,510.0 L426.3,503.8 L427.3,497.5 L428.3,491.2 L429.3,485.2 L430.3,479.8 L431.3,474.9 L432.3,469.9 L433.3,464.7 L434.3,459.4 L435.3,454.0 L436.3,448.6 L437.3,443.1 L438.3,437.8 L439.3,432.6 L440.3,427.6 L441.3,422.8 L442.3,418.3 L443.3,414.2 L444.3,410.4 L445.3,407.1 L446.3,404.3 L447.3,401.7 L448.3,399.1 L449.3,396.5 L450.2,394.2 L451.2,392.1 L452.2,390.3 L453.2,389.0 L454.2,388.2 L455.2,388.1 L456.2,390.2 L457.2,393.8 L458.2,397.6 L459.2,399.9 L460.2,400.1 L461.2,399.6 L462.2,398.7 L463.2,397.2 L464.2,395.1 L465.2,392.3 L466.2,388.9 L467.2,384.7 L468.2,379.6 L469.2,373.7" fill="none" stroke="#e2c432" stroke-width="1.3" stroke-linejoin="round"/>
<path d="M85.2,316.4 L86.2,316.4 L87.2,316.5 L88.2,316.7 L89.2,317.0 L90.2,317.4 L91.2,317.9 L92.2,318.5 L93.2,319.3 L94.2,320.2 L95.2,322.4 L96.2,336.1 L97.2,359.2 L98.2,388.5 L99.2,444.8 L100.2,499.3 L101.2,519.2 L102.2,529.8 L103.2,532.4 L104.2,532.4 L105.1,532.4 L106.1,532.4 L107.1,532.4 L108.1,532.4 L109.1,532.4 L110.1,532.4 L111.1,532.4 L112.1,532.4 L113.1,532.4 L114.1,532.4 L115.1,532.4 L116.1,532.4 L117.1,532.4 L118.1,532.4 L119.1,532.4 L120.1,532.4 L121.1,532.4 L122.1,532.4 L123.1,532.4 L124.1,525.1 L125.1,479.8 L126.1,423.6 L127.1,387.3 L128.1,360.7 L129.1,356.1 L130.1,356.5 L131.1,357.1 L132.1,357.7 L133.1,358.1 L134.1,358.2 L135.1,354.8 L136.1,347.9 L137.1,340.6 L138.1,334.7 L139.1,328.5 L140.1,323.2 L141.1,320.6 L142.1,319.3 L143.0,318.2 L144.0,317.4 L145.0,316.8 L146.0,316.5 L147.0,316.4 L148.0,316.4 L149.0,316.4 L150.0,316.4 L151.0,316.4 L152.0,316.4 L153.0,316.4 L154.0,316.4 L155.0,316.4 L156.0,316.4 L157.0,316.4 L158.0,316.4 L159.0,316.4 L160.0,316.4 L161.0,316.4 L162.0,316.4 L163.0,317.0 L164.0,318.6 L165.0,320.9 L166.0,323.4 L167.0,327.0 L168.0,331.9 L169.0,337.9 L170.0,344.5 L171.0,351.6 L172.0,358.9 L173.0,367.9 L174.0,378.1 L175.0,388.8 L176.0,399.1 L177.0,408.1 L178.0,415.5 L179.0,422.6 L180.0,429.2 L181.0,435.2 L181.9,440.2 L182.9,443.8 L183.9,446.3 L184.9,448.6 L185.9,450.2 L186.9,450.9 L187.9,450.6 L188.9,449.8 L189.9,448.7 L190.9,447.3 L191.9,445.9 L192.9,444.7 L193.9,443.6 L194.9,443.0 L195.9,442.5 L196.9,442.0 L197.9,441.6 L198.9,441.2 L199.9,440.8 L200.9,440.4 L201.9,440.1 L202.9,439.8 L203.9,439.5 L204.9,439.2 L205.9,438.9 L206.9,438.7 L207.9,438.5 L208.9,438.2 L209.9,438.0 L210.9,437.8 L211.9,437.6 L212.9,437.5 L213.9,437.3 L214.9,437.1 L215.9,437.0 L216.9,436.8 L217.9,436.6 L218.9,436.5 L219.8,436.4 L220.8,436.2 L221.8,436.1 L222.8,436.0 L223.8,435.8 L224.8,435.7 L225.8,435.6 L226.8,435.5 L227.8,435.4 L228.8,435.3 L229.8,435.2 L230.8,435.1 L231.8,435.0 L232.8,434.9 L233.8,434.8 L234.8,434.7 L235.8,434.6 L236.8,434.5 L237.8,434.4 L238.8,434.3 L239.8,434.2 L240.8,434.2 L241.8,434.1 L242.8,434.0 L243.8,434.0 L244.8,433.9 L245.8,433.9 L246.8,433.8 L247.8,433.8 L248.8,433.8 L249.8,433.7 L250.8,433.7 L251.8,433.7 L252.8,433.6 L253.8,433.6 L254.8,433.6 L255.8,433.5 L256.8,433.5 L257.8,433.5 L258.7,433.4 L259.7,433.4 L260.7,433.3 L261.7,433.3 L262.7,433.2 L263.7,433.1 L264.7,433.1 L265.7,433.0 L266.7,432.9 L267.7,432.8 L268.7,432.7 L269.7,432.6 L270.7,432.5 L271.7,432.4 L272.7,432.2 L273.7,432.0 L274.7,431.1 L275.7,429.9 L276.7,429.0 L277.7,429.0 L278.7,429.9 L279.7,431.2 L280.7,432.0 L281.7,432.1 L282.7,432.1 L283.7,432.1 L284.7,432.0 L285.7,432.0 L286.7,431.9 L287.7,431.8 L288.7,431.8 L289.7,431.7 L290.7,431.5 L291.7,431.4 L292.7,431.3 L293.7,431.1 L294.7,431.0 L295.7,430.8 L296.6,430.6 L297.6,430.4 L298.6,430.2 L299.6,430.0 L300.6,429.8 L301.6,429.6 L302.6,429.3 L303.6,429.1 L304.6,428.8 L305.6,428.5 L306.6,428.2 L307.6,427.9 L308.6,427.6 L309.6,427.3 L310.6,427.0 L311.6,426.7 L312.6,426.3 L313.6,425.7 L314.6,425.0 L315.6,424.1 L316.6,423.1 L317.6,422.0 L318.6,420.8 L319.6,419.4 L320.6,418.0 L321.6,416.5 L322.6,414.9 L323.6,413.2 L324.6,411.4 L325.6,409.6 L326.6,407.8 L327.6,405.9 L328.6,403.5 L329.6,400.8 L330.6,397.6 L331.6,394.1 L332.6,390.4 L333.6,386.4 L334.6,382.3 L335.5,378.1 L336.5,373.8 L337.5,369.6 L338.5,365.4 L339.5,361.3 L340.5,357.4 L341.5,353.8 L342.5,350.4 L343.5,347.4 L344.5,344.8 L345.5,342.2 L346.5,339.6 L347.5,337.0 L348.5,334.4 L349.5,331.9 L350.5,329.6 L351.5,327.6 L352.5,325.9 L353.5,324.6 L354.5,323.8 L355.5,323.5 L356.5,323.7 L357.5,324.3 L358.5,325.3 L359.5,326.5 L360.5,327.9 L361.5,329.3 L362.5,330.9 L363.5,332.9 L364.5,335.3 L365.5,338.0 L366.5,341.0 L367.5,344.2 L368.5,347.8 L369.5,351.5 L370.5,355.3 L371.5,359.4 L372.5,363.5 L373.4,367.6 L374.4,371.8 L375.4,376.0 L376.4,380.1 L377.4,384.2 L378.4,388.5 L379.4,393.0 L380.4,397.8 L381.4,402.9 L382.4,408.1 L383.4,413.4 L384.4,418.8 L385.4,424.4 L386.4,430.0 L387.4,435.5 L388.4,441.1 L389.4,446.7 L390.4,452.1 L391.4,457.5 L392.4,462.7 L393.4,467.7 L394.4,472.5 L395.4,477.1 L396.4,481.4 L397.4,485.4 L398.4,489.1 L399.4,492.8 L400.4,496.7 L401.4,500.5 L402.4,504.4 L403.4,508.3 L404.4,512.0 L405.4,515.6 L406.4,519.0 L407.4,522.1 L408.4,525.0 L409.4,527.4 L410.4,529.4 L411.4,531.0 L412.3,532.0 L413.3,532.4 L414.3,532.4 L415.3,532.4 L416.3,532.4 L417.3,532.4 L418.3,532.4 L419.3,532.4 L420.3,532.4 L421.3,532.4 L422.3,531.2 L423.3,528.2 L424.3,523.8 L425.3,518.1 L426.3,511.6 L427.3,504.4 L428.3,496.9 L429.3,489.2 L430.3,481.8 L431.3,474.8 L432.3,468.6 L433.3,463.2 L434.3,457.6 L435.3,451.9 L436.3,446.0 L437.3,440.2 L438.3,434.4 L439.3,428.8 L440.3,423.3 L441.3,418.2 L442.3,413.5 L443.3,409.2 L444.3,405.5 L445.3,402.4 L446.3,399.9 L447.3,397.8 L448.3,395.8 L449.3,393.9 L450.2,392.2 L451.2,390.8 L452.2,389.8 L453.2,389.2 L454.2,389.5 L455.2,393.7 L456.2,401.2 L457.2,410.7 L458.2,420.8 L459.2,430.2 L460.2,438.1 L461.2,446.3 L462.2,454.7 L463.2,462.7 L464.2,470.1 L465.2,476.5 L466.2,481.8 L467.2,486.5 L468.2,490.6 L469.2,494.1" fill="none" stroke="#ecb634" stroke-width="1.3" stroke-linejoin="round"/>
<path d="M85.2,316.4 L86.2,316.5 L87.2,316.7 L88.2,317.1 L89.2,317.7 L90.2,318.4 L91.2,319.2 L92.2,320.1 L93.2,321.3 L94.2,324.9 L95.2,329.7 L96.2,333.4 L97.2,334.0 L98.2,334.0 L99.2,334.0 L100.2,330.8 L101.2,325.4 L102.2,321.3 L103.2,320.5 L104.2,320.0 L105.1,319.6 L106.1,319.2 L107.1,318.8 L108.1,318.5 L109.1,318.2 L110.1,317.9 L111.1,317.7 L112.1,317.5 L113.1,317.3 L114.1,317.1 L115.1,316.9 L116.1,316.8 L117.1,316.7 L118.1,316.6 L119.1,316.5 L120.1,316.5 L121.1,316.4 L122.1,316.4 L123.1,316.4 L124.1,316.4 L125.1,316.4 L126.1,316.5 L127.1,316.6 L128.1,316.7 L129.1,316.8 L130.1,317.0 L131.1,317.2 L132.1,317.3 L133.1,317.5 L134.1,317.7 L135.1,317.8 L136.1,318.0 L137.1,318.1 L138.1,318.3 L139.1,318.4 L140.1,318.5 L141.1,318.6 L142.1,318.6 L143.0,318.6 L144.0,318.6 L145.0,318.5 L146.0,318.4 L147.0,318.3 L148.0,318.2 L149.0,318.1 L150.0,317.9 L151.0,317.7 L152.0,317.6 L153.0,317.4 L154.0,317.2 L155.0,317.1 L156.0,316.9 L157.0,316.8 L158.0,316.7 L159.0,316.6 L160.0,316.5 L161.0,316.4 L162.0,316.4 L163.0,316.8 L164.0,317.9 L165.0,319.6 L166.0,321.6 L167.0,324.1 L168.0,328.3 L169.0,334.2 L170.0,341.4 L171.0,349.3 L172.0,357.4 L173.0,365.7 L174.0,375.7 L175.0,386.8 L176.0,398.0 L177.0,408.3 L178.0,416.6 L179.0,423.3 L180.0,429.6 L181.0,435.4 L181.9,440.3 L182.9,444.1 L183.9,446.5 L184.9,448.1 L185.9,449.5 L186.9,450.4 L187.9,450.8 L188.9,450.7 L189.9,450.2 L190.9,449.4 L191.9,448.4 L192.9,447.4 L193.9,446.3 L194.9,445.4 L195.9,444.6 L196.9,444.1 L197.9,443.7 L198.9,443.3 L199.9,442.9 L200.9,442.6 L201.9,442.2 L202.9,441.9 L203.9,441.6 L204.9,441.4 L205.9,441.1 L206.9,440.9 L207.9,440.6 L208.9,440.4 L209.9,440.2 L210.9,440.0 L211.9,439.8 L212.9,439.7 L213.9,439.5 L214.9,439.3 L215.9,439.2 L216.9,439.0 L217.9,438.9 L218.9,438.7 L219.8,438.6 L220.8,438.4 L221.8,438.3 L222.8,438.2 L223.8,438.0 L224.8,437.9 L225.8,437.8 L226.8,437.7 L227.8,437.6 L228.8,437.5 L229.8,437.4 L230.8,437.3 L231.8,437.2 L232.8,437.1 L233.8,437.0 L234.8,436.9 L235.8,436.8 L236.8,436.7 L237.8,436.6 L238.8,436.5 L239.8,436.4 L240.8,436.4 L241.8,436.3 L242.8,436.2 L243.8,436.2 L244.8,436.1 L245.8,436.1 L246.8,436.0 L247.8,436.0 L248.8,436.0 L249.8,435.9 L250.8,435.9 L251.8,435.9 L252.8,435.8 L253.8,435.8 L254.8,435.8 L255.8,435.7 L256.8,435.7 L257.8,435.7 L258.7,435.6 L259.7,435.6 L260.7,435.5 L261.7,435.5 L262.7,435.4 L263.7,435.3 L264.7,435.3 L265.7,435.2 L266.7,435.1 L267.7,435.0 L268.7,434.9 L269.7,434.8 L270.7,434.7 L271.7,434.6 L272.7,434.4 L273.7,434.2 L274.7,433.3 L275.7,432.1 L276.7,431.2 L277.7,431.2 L278.7,432.1 L279.7,433.4 L280.7,434.2 L281.7,434.3 L282.7,434.3 L283.7,434.3 L284.7,434.3 L285.7,434.2 L286.7,434.2 L287.7,434.1 L288.7,434.0 L289.7,434.0 L290.7,433.9 L291.7,433.8 L292.7,433.7 L293.7,433.6 L294.7,433.5 L295.7,433.3 L296.6,433.2 L297.6,433.0 L298.6,432.9 L299.6,432.7 L300.6,432.5 L301.6,432.3 L302.6,432.2 L303.6,431.9 L304.6,431.7 L305.6,431.5 L306.6,431.3 L307.6,431.0 L308.6,430.8 L309.6,430.5 L310.6,430.3 L311.6,430.0 L312.6,429.7 L313.6,429.4 L314.6,429.1 L315.6,428.8 L316.6,428.4 L317.6,427.8 L318.6,427.1 L319.6,426.3 L320.6,425.3 L321.6,424.1 L322.6,422.9 L323.6,421.5 L324.6,420.1 L325.6,418.5 L326.6,416.9 L327.6,415.2 L328.6,413.4 L329.6,411.6 L330.6,409.7 L331.6,407.7 L332.6,405.3 L333.6,402.3 L334.6,398.9 L335.5,395.2 L336.5,391.3 L337.5,387.0 L338.5,382.7 L339.5,378.2 L340.5,373.8 L341.5,369.3 L342.5,365.0 L343.5,360.8 L344.5,356.8 L345.5,353.1 L346.5,349.8 L347.5,346.9 L348.5,344.4 L349.5,342.0 L350.5,339.6 L351.5,337.2 L352.5,334.8 L353.5,332.6 L354.5,330.6 L355.5,328.7 L356.5,327.2 L357.5,326.0 L358.5,325.2 L359.5,324.8 L360.5,324.9 L361.5,325.4 L362.5,326.2 L363.5,327.2 L364.5,328.3 L365.5,329.6 L366.5,331.0 L367.5,332.9 L368.5,335.3 L369.5,338.0 L370.5,341.0 L371.5,344.3 L372.5,347.9 L373.4,351.6 L374.4,355.5 L375.4,359.5 L376.4,363.5 L377.4,367.6 L378.4,371.6 L379.4,375.6 L380.4,379.9 L381.4,384.5 L382.4,389.4 L383.4,394.5 L384.4,399.8 L385.4,405.3 L386.4,411.0 L387.4,416.7 L388.4,422.5 L389.4,428.4 L390.4,434.2 L391.4,440.0 L392.4,445.8 L393.4,451.4 L394.4,456.9 L395.4,462.2 L396.4,467.3 L397.4,472.2 L398.4,476.8 L399.4,481.1 L400.4,485.1 L401.4,489.1 L402.4,493.3 L403.4,497.5 L404.4,501.8 L405.4,506.0 L406.4,510.1 L407.4,514.1 L408.4,517.8 L409.4,521.3 L410.4,524.3 L411.4,527.0 L412.3,529.2 L413.3,530.9 L414.3,532.0 L415.3,532.4 L416.3,532.4 L417.3,532.4 L418.3,532.4 L419.3,532.4 L420.3,532.4 L421.3,532.4 L422.3,532.4 L423.3,532.4 L424.3,531.0 L425.3,528.0 L426.3,523.5 L427.3,517.9 L428.3,511.4 L429.3,504.2 L430.3,496.7 L431.3,489.1 L432.3,481.6 L433.3,474.6 L434.3,468.3 L435.3,462.6 L436.3,456.7 L437.3,450.5 L438.3,444.2 L439.3,437.9 L440.3,431.7 L441.3,425.8 L442.3,420.3 L443.3,415.2 L444.3,410.8 L445.3,407.1 L446.3,404.3 L447.3,401.9 L448.3,399.6 L449.3,397.4 L450.2,395.3 L451.2,393.6 L452.2,392.1 L453.2,391.0 L454.2,390.4 L455.2,390.4 L456.2,392.7 L457.2,396.4 L458.2,399.5 L459.2,400.0 L460.2,398.8 L461.2,396.7 L462.2,394.2 L463.2,391.8 L464.2,389.7 L465.2,387.5 L466.2,385.3 L467.2,383.0 L468.2,380.6 L469.2,378.1" fill="none" stroke="#f09a38" stroke-width="1.3" stroke-linejoin="round"/>
<path d="M85.2,316.4 L86.2,316.6 L87.2,317.1 L88.2,317.9 L89.2,318.8 L90.2,319.9 L91.2,321.1 L92.2,323.2 L93.2,326.2 L94.2,329.3 L95.2,332.0 L96.2,333.8 L97.2,333.9 L98.2,332.5 L99.2,330.3 L100.2,327.6 L101.2,325.2 L102.2,323.4 L103.2,322.5 L104.2,321.7 L105.1,321.1 L106.1,320.8 L107.1,329.0 L108.1,344.3 L109.1,350.4 L110.1,347.0 L111.1,335.6 L112.1,327.2 L113.1,323.9 L114.1,321.2 L115.1,319.4 L116.1,318.5 L117.1,318.0 L118.1,317.5 L119.1,317.2 L120.1,316.9 L121.1,316.6 L122.1,316.5 L123.1,316.4 L124.1,316.4 L125.1,316.5 L126.1,316.6 L127.1,316.8 L128.1,317.1 L129.1,317.4 L130.1,317.8 L131.1,318.3 L132.1,318.8 L133.1,319.4 L134.1,320.1 L135.1,320.8 L136.1,322.6 L137.1,325.7 L138.1,328.5 L139.1,329.6 L140.1,326.6 L141.1,321.7 L142.1,318.6 L143.0,317.8 L144.0,317.1 L145.0,316.7 L146.0,316.4 L147.0,316.4 L148.0,316.4 L149.0,316.4 L150.0,316.4 L151.0,316.4 L152.0,316.4 L153.0,316.4 L154.0,316.4 L155.0,316.4 L156.0,316.4 L157.0,316.4 L158.0,316.4 L159.0,316.4 L160.0,316.4 L161.0,316.4 L162.0,316.4 L163.0,316.9 L164.0,318.1 L165.0,320.0 L166.0,322.4 L167.0,325.2 L168.0,328.2 L169.0,332.7 L170.0,338.9 L171.0,346.3 L172.0,354.3 L173.0,362.6 L174.0,370.9 L175.0,380.7 L176.0,391.4 L177.0,402.2 L178.0,412.1 L179.0,420.1 L180.0,426.1 L181.0,431.5 L181.9,436.3 L182.9,440.5 L183.9,443.9 L184.9,446.3 L185.9,448.0 L186.9,449.4 L187.9,450.5 L188.9,450.9 L189.9,450.6 L190.9,449.8 L191.9,448.8 L192.9,447.7 L193.9,446.5 L194.9,445.4 L195.9,444.6 L196.9,444.1 L197.9,443.8 L198.9,443.4 L199.9,443.2 L200.9,442.9 L201.9,442.6 L202.9,442.4 L203.9,442.2 L204.9,442.0 L205.9,441.8 L206.9,441.6 L207.9,441.5 L208.9,441.3 L209.9,441.2 L210.9,441.1 L211.9,440.9 L212.9,440.8 L213.9,440.7 L214.9,440.6 L215.9,440.5 L216.9,440.4 L217.9,440.3 L218.9,440.2 L219.8,440.1 L220.8,440.0 L221.8,439.9 L222.8,439.9 L223.8,439.8 L224.8,439.7 L225.8,439.6 L226.8,439.6 L227.8,439.5 L228.8,439.4 L229.8,439.3 L230.8,439.3 L231.8,439.2 L232.8,439.1 L233.8,439.1 L234.8,439.0 L235.8,438.9 L236.8,438.9 L237.8,438.8 L238.8,438.7 L239.8,438.7 L240.8,438.6 L241.8,438.5 L242.8,438.5 L243.8,438.4 L244.8,438.4 L245.8,438.3 L246.8,438.3 L247.8,438.3 L248.8,438.2 L249.8,438.2 L250.8,438.2 L251.8,438.1 L252.8,438.1 L253.8,438.1 L254.8,438.0 L255.8,438.0 L256.8,438.0 L257.8,437.9 L258.7,437.9 L259.7,437.8 L260.7,437.8 L261.7,437.7 L262.7,437.6 L263.7,437.6 L264.7,437.5 L265.7,437.4 L266.7,437.3 L267.7,437.2 L268.7,437.1 L269.7,437.0 L270.7,436.9 L271.7,436.8 L272.7,436.6 L273.7,436.4 L274.7,435.5 L275.7,434.3 L276.7,433.4 L277.7,433.4 L278.7,434.3 L279.7,435.6 L280.7,436.4 L281.7,436.5 L282.7,436.5 L283.7,436.5 L284.7,436.5 L285.7,436.4 L286.7,436.4 L287.7,436.4 L288.7,436.3 L289.7,436.2 L290.7,436.2 L291.7,436.1 L292.7,436.0 L293.7,435.9 L294.7,435.8 L295.7,435.7 L296.6,435.6 L297.6,435.5 L298.6,435.3 L299.6,435.2 L300.6,435.1 L301.6,434.9 L302.6,434.8 L303.6,434.6 L304.6,434.4 L305.6,434.3 L306.6,434.1 L307.6,433.9 L308.6,433.7 L309.6,433.5 L310.6,433.3 L311.6,433.1 L312.6,432.8 L313.6,432.6 L314.6,432.4 L315.6,432.1 L316.6,431.8 L317.6,431.4 L318.6,430.9 L319.6,430.3 L320.6,429.6 L321.6,428.8 L322.6,427.9 L323.6,426.9 L324.6,425.9 L325.6,424.7 L326.6,423.5 L327.6,422.2 L328.6,420.9 L329.6,419.5 L330.6,418.0 L331.6,416.5 L332.6,414.9 L333.6,413.3 L334.6,411.6 L335.5,409.7 L336.5,407.4 L337.5,404.5 L338.5,401.2 L339.5,397.6 L340.5,393.8 L341.5,389.7 L342.5,385.5 L343.5,381.2 L344.5,377.0 L345.5,372.8 L346.5,368.7 L347.5,364.8 L348.5,361.2 L349.5,358.0 L350.5,355.1 L351.5,352.2 L352.5,349.1 L353.5,346.0 L354.5,342.9 L355.5,339.9 L356.5,337.0 L357.5,334.4 L358.5,332.0 L359.5,330.0 L360.5,328.4 L361.5,327.3 L362.5,326.8 L363.5,326.9 L364.5,327.4 L365.5,328.3 L366.5,329.6 L367.5,331.0 L368.5,332.6 L369.5,334.2 L370.5,336.1 L371.5,338.5 L372.5,341.2 L373.4,344.4 L374.4,347.8 L375.4,351.5 L376.4,355.3 L377.4,359.4 L378.4,363.5 L379.4,367.7 L380.4,371.9 L381.4,376.0 L382.4,380.5 L383.4,385.4 L384.4,390.5 L385.4,395.9 L386.4,401.4 L387.4,407.2 L388.4,413.0 L389.4,419.0 L390.4,425.0 L391.4,431.0 L392.4,437.0 L393.4,442.8 L394.4,448.6 L395.4,454.2 L396.4,459.6 L397.4,464.8 L398.4,469.7 L399.4,474.3 L400.4,478.6 L401.4,482.9 L402.4,487.3 L403.4,491.9 L404.4,496.5 L405.4,501.1 L406.4,505.6 L407.4,510.0 L408.4,514.1 L409.4,518.0 L410.4,521.5 L411.4,524.7 L412.3,527.4 L413.3,529.5 L414.3,531.2 L415.3,532.1 L416.3,532.4 L417.3,532.4 L418.3,532.4 L419.3,532.4 L420.3,532.4 L421.3,532.4 L422.3,532.4 L423.3,532.4 L424.3,532.4 L425.3,532.3 L426.3,531.2 L427.3,528.8 L428.3,525.5 L429.3,521.5 L430.3,517.0 L431.3,512.4 L432.3,507.9 L433.3,503.8 L434.3,500.4 L435.3,497.6 L436.3,494.7 L437.3,491.9 L438.3,489.2 L439.3,486.6 L440.3,484.1 L441.3,482.0 L442.3,480.1 L443.3,478.7 L444.3,477.7 L445.3,477.1 L446.3,476.6 L447.3,476.2 L448.3,475.9 L449.3,475.6 L450.2,475.4 L451.2,475.1 L452.2,474.8 L453.2,474.4 L454.2,473.9 L455.2,473.3 L456.2,472.3 L457.2,470.3 L458.2,467.3 L459.2,463.7 L460.2,459.9 L461.2,456.3 L462.2,453.0 L463.2,449.7 L464.2,446.4 L465.2,443.0 L466.2,439.5 L467.2,436.0 L468.2,432.4 L469.2,428.8" fill="none" stroke="#f07440" stroke-width="1.3" stroke-linejoin="round"/>
<path d="M85.2,314.2 L86.2,314.2 L87.2,314.4 L88.2,314.6 L89.2,314.9 L90.2,315.2 L91.2,315.6 L92.2,316.1 L93.2,316.6 L94.2,317.9 L95.2,319.9 L96.2,322.1 L97.2,323.9 L98.2,325.1 L99.2,325.1 L100.2,324.2 L101.2,322.7 L102.2,321.0 L103.2,319.6 L104.2,318.7 L105.1,318.4 L106.1,318.2 L107.1,318.0 L108.1,317.8 L109.1,317.6 L110.1,317.4 L111.1,317.3 L112.1,317.2 L113.1,317.0 L114.1,316.9 L115.1,316.8 L116.1,316.7 L117.1,316.6 L118.1,316.6 L119.1,316.5 L120.1,316.5 L121.1,316.4 L122.1,316.4 L123.1,316.4 L124.1,316.4 L125.1,316.4 L126.1,316.5 L127.1,316.6 L128.1,316.7 L129.1,316.9 L130.1,317.1 L131.1,317.3 L132.1,317.5 L133.1,317.7 L134.1,318.0 L135.1,318.3 L136.1,318.6 L137.1,318.9 L138.1,319.2 L139.1,319.5 L140.1,319.9 L141.1,320.2 L142.1,320.6 L143.0,320.9 L144.0,321.4 L145.0,322.1 L146.0,322.9 L147.0,323.7 L148.0,324.4 L149.0,324.9 L150.0,325.2 L151.0,325.1 L152.0,324.7 L153.0,323.8 L154.0,322.8 L155.0,321.6 L156.0,320.5 L157.0,319.4 L158.0,318.7 L159.0,318.2 L160.0,317.6 L161.0,317.2 L162.0,316.8 L163.0,316.5 L164.0,316.4 L165.0,317.0 L166.0,318.3 L167.0,320.3 L168.0,322.8 L169.0,325.5 L170.0,328.3 L171.0,331.9 L172.0,336.4 L173.0,341.6 L174.0,347.3 L175.0,353.2 L176.0,359.3 L177.0,366.0 L178.0,373.3 L179.0,381.1 L180.0,389.3 L181.0,398.0 L181.9,407.6 L182.9,419.1 L183.9,430.3 L184.9,439.2 L185.9,445.9 L186.9,451.4 L187.9,453.0 L188.9,452.5 L189.9,451.6 L190.9,450.4 L191.9,449.3 L192.9,448.5 L193.9,447.9 L194.9,447.3 L195.9,446.7 L196.9,446.2 L197.9,445.7 L198.9,445.1 L199.9,444.7 L200.9,444.2 L201.9,443.8 L202.9,443.4 L203.9,443.0 L204.9,442.7 L205.9,442.5 L206.9,442.2 L207.9,442.1 L208.9,441.9 L209.9,441.8 L210.9,441.7 L211.9,441.6 L212.9,441.5 L213.9,441.4 L214.9,441.3 L215.9,441.2 L216.9,441.1 L217.9,441.0 L218.9,441.0 L219.8,440.9 L220.8,440.8 L221.8,440.8 L222.8,440.7 L223.8,440.7 L224.8,440.6 L225.8,440.5 L226.8,440.5 L227.8,440.4 L228.8,440.4 L229.8,440.3 L230.8,440.3 L231.8,440.2 L232.8,440.2 L233.8,440.1 L234.8,440.1 L235.8,440.0 L236.8,440.0 L237.8,439.9 L238.8,439.8 L239.8,439.8 L240.8,439.7 L241.8,439.7 L242.8,439.6 L243.8,439.6 L244.8,439.5 L245.8,439.5 L246.8,439.4 L247.8,439.4 L248.8,439.4 L249.8,439.3 L250.8,439.3 L251.8,439.3 L252.8,439.2 L253.8,439.2 L254.8,439.2 L255.8,439.1 L256.8,439.1 L257.8,439.0 L258.7,439.0 L259.7,438.9 L260.7,438.9 L261.7,438.8 L262.7,438.8 L263.7,438.7 L264.7,438.6 L265.7,438.5 L266.7,438.4 L267.7,438.3 L268.7,438.2 L269.7,438.1 L270.7,438.0 L271.7,437.9 L272.7,437.7 L273.7,437.5 L274.7,436.6 L275.7,435.4 L276.7,434.5 L277.7,434.5 L278.7,435.4 L279.7,436.7 L280.7,437.6 L281.7,437.6 L282.7,437.6 L283.7,437.6 L284.7,437.6 L285.7,437.6 L286.7,437.6 L287.7,437.5 L288.7,437.5 L289.7,437.5 L290.7,437.5 L291.7,437.4 L292.7,437.4 L293.7,437.3 L294.7,437.3 L295.7,437.2 L296.6,437.2 L297.6,437.1 L298.6,437.0 L299.6,437.0 L300.6,436.9 L301.6,436.8 L302.6,436.8 L303.6,436.7 L304.6,436.6 L305.6,436.5 L306.6,436.4 L307.6,436.3 L308.6,436.2 L309.6,436.1 L310.6,436.0 L311.6,435.9 L312.6,435.8 L313.6,435.7 L314.6,435.5 L315.6,435.4 L316.6,435.3 L317.6,435.0 L318.6,434.8 L319.6,434.4 L320.6,434.0 L321.6,433.6 L322.6,433.0 L323.6,432.5 L324.6,431.8 L325.6,431.1 L326.6,430.4 L327.6,429.6 L328.6,428.8 L329.6,427.9 L330.6,427.0 L331.6,426.0 L332.6,425.0 L333.6,423.9 L334.6,422.8 L335.5,421.6 L336.5,420.4 L337.5,419.2 L338.5,417.9 L339.5,416.4 L340.5,414.5 L341.5,412.1 L342.5,409.3 L343.5,406.2 L344.5,402.9 L345.5,399.3 L346.5,395.6 L347.5,391.7 L348.5,387.8 L349.5,383.8 L350.5,379.9 L351.5,376.0 L352.5,372.3 L353.5,368.8 L354.5,365.4 L355.5,361.6 L356.5,357.4 L357.5,353.1 L358.5,348.7 L359.5,344.3 L360.5,340.2 L361.5,336.4 L362.5,333.1 L363.5,330.4 L364.5,328.5 L365.5,327.5 L366.5,327.5 L367.5,327.8 L368.5,328.5 L369.5,329.4 L370.5,330.4 L371.5,331.7 L372.5,333.0 L373.4,334.4 L374.4,336.3 L375.4,338.9 L376.4,342.0 L377.4,345.6 L378.4,349.6 L379.4,353.9 L380.4,358.4 L381.4,363.0 L382.4,367.7 L383.4,372.3 L384.4,376.8 L385.4,381.2 L386.4,385.8 L387.4,390.6 L388.4,395.6 L389.4,400.7 L390.4,405.9 L391.4,411.2 L392.4,416.7 L393.4,422.1 L394.4,427.6 L395.4,433.2 L396.4,438.7 L397.4,444.1 L398.4,449.5 L399.4,454.8 L400.4,460.0 L401.4,465.1 L402.4,470.0 L403.4,474.8 L404.4,479.4 L405.4,484.3 L406.4,489.5 L407.4,494.9 L408.4,500.4 L409.4,505.8 L410.4,511.0 L411.4,515.9 L412.3,520.4 L413.3,524.4 L414.3,527.7 L415.3,530.2 L416.3,531.8 L417.3,532.4 L418.3,532.4 L419.3,532.4 L420.3,532.4 L421.3,532.4 L422.3,532.4 L423.3,532.4 L424.3,532.4 L425.3,532.4 L426.3,532.4 L427.3,532.4 L428.3,532.4 L429.3,532.4 L430.3,532.4 L431.3,532.3 L432.3,531.8 L433.3,530.9 L434.3,529.5 L435.3,527.9 L436.3,526.1 L437.3,524.1 L438.3,522.1 L439.3,520.1 L440.3,518.1 L441.3,516.4 L442.3,514.8 L443.3,513.4 L444.3,511.8 L445.3,510.1 L446.3,508.5 L447.3,506.9 L448.3,505.4 L449.3,504.1 L450.2,503.1 L451.2,502.5 L452.2,502.2 L453.2,502.5 L454.2,503.3 L455.2,504.4 L456.2,505.8 L457.2,507.3 L458.2,508.7 L459.2,510.0 L460.2,511.0 L461.2,511.9 L462.2,512.9 L463.2,513.8 L464.2,514.7 L465.2,515.6 L466.2,516.4 L467.2,517.2 L468.2,518.0 L469.2,518.7" fill="none" stroke="#f0463a" stroke-width="1.3" stroke-linejoin="round"/>
<path d="M85.2,314.2 L86.2,314.5 L87.2,314.8 L88.2,315.0 L89.2,315.3 L90.2,315.5 L91.2,315.7 L92.2,315.9 L93.2,316.1 L94.2,316.3 L95.2,316.3 L96.2,316.4 L97.2,316.4 L98.2,316.4 L99.2,316.4 L100.2,316.3 L101.2,316.2 L102.2,316.2 L103.2,316.1 L104.2,316.0 L105.1,315.9 L106.1,315.8 L107.1,315.7 L108.1,315.6 L109.1,315.4 L110.1,315.3 L111.1,315.2 L112.1,315.1 L113.1,314.9 L114.1,314.8 L115.1,314.7 L116.1,314.6 L117.1,314.5 L118.1,314.4 L119.1,314.4 L120.1,314.3 L121.1,314.3 L122.1,314.2 L123.1,314.2 L124.1,314.2 L125.1,314.2 L126.1,314.3 L127.1,314.4 L128.1,314.5 L129.1,314.6 L130.1,314.8 L131.1,314.9 L132.1,315.1 L133.1,315.3 L134.1,315.5 L135.1,315.6 L136.1,315.8 L137.1,315.9 L138.1,316.1 L139.1,316.2 L140.1,316.3 L141.1,316.4 L142.1,316.4 L143.0,316.4 L144.0,316.4 L145.0,316.3 L146.0,316.3 L147.0,316.2 L148.0,316.1 L149.0,316.0 L150.0,315.8 L151.0,315.7 L152.0,315.6 L153.0,315.5 L154.0,315.4 L155.0,315.4 L156.0,315.3 L157.0,315.3 L158.0,315.6 L159.0,316.3 L160.0,317.4 L161.0,318.8 L162.0,320.3 L163.0,321.7 L164.0,323.1 L165.0,324.4 L166.0,325.8 L167.0,327.2 L168.0,328.8 L169.0,330.6 L170.0,332.5 L171.0,334.8 L172.0,337.5 L173.0,340.4 L174.0,343.8 L175.0,347.4 L176.0,351.3 L177.0,355.5 L178.0,360.0 L179.0,365.2 L180.0,371.1 L181.0,377.8 L181.9,385.7 L182.9,397.0 L183.9,409.7 L184.9,421.2 L185.9,431.2 L186.9,440.2 L187.9,444.7 L188.9,446.8 L189.9,448.2 L190.9,448.6 L191.9,447.9 L192.9,446.4 L193.9,444.2 L194.9,442.0 L195.9,439.8 L196.9,438.2 L197.9,437.4 L198.9,437.4 L199.9,437.5 L200.9,437.7 L201.9,437.9 L202.9,438.2 L203.9,438.5 L204.9,438.8 L205.9,439.1 L206.9,439.4 L207.9,439.8 L208.9,440.1 L209.9,440.5 L210.9,440.9 L211.9,441.3 L212.9,441.7 L213.9,442.2 L214.9,442.7 L215.9,443.2 L216.9,443.7 L217.9,444.3 L218.9,444.9 L219.8,445.5 L220.8,446.1 L221.8,446.7 L222.8,447.4 L223.8,448.1 L224.8,448.8 L225.8,449.5 L226.8,450.2 L227.8,450.9 L228.8,451.6 L229.8,452.4 L230.8,453.1 L231.8,453.9 L232.8,454.7 L233.8,455.4 L234.8,456.2 L235.8,457.0 L236.8,457.8 L237.8,458.6 L238.8,459.4 L239.8,460.2 L240.8,461.0 L241.8,461.8 L242.8,462.6 L243.8,463.3 L244.8,464.1 L245.8,464.9 L246.8,465.7 L247.8,466.4 L248.8,467.2 L249.8,467.9 L250.8,468.7 L251.8,469.4 L252.8,470.1 L253.8,470.9 L254.8,471.6 L255.8,472.4 L256.8,473.2 L257.8,474.0 L258.7,474.8 L259.7,475.6 L260.7,476.4 L261.7,477.2 L262.7,478.1 L263.7,478.9 L264.7,479.7 L265.7,480.5 L266.7,481.3 L267.7,482.1 L268.7,482.9 L269.7,483.6 L270.7,484.4 L271.7,485.1 L272.7,485.7 L273.7,486.4 L274.7,487.0 L275.7,487.5 L276.7,488.1 L277.7,488.6 L278.7,489.0 L279.7,489.5 L280.7,490.0 L281.7,490.4 L282.7,490.9 L283.7,491.3 L284.7,491.6 L285.7,492.0 L286.7,492.3 L287.7,492.5 L288.7,492.7 L289.7,492.9 L290.7,493.0 L291.7,493.1 L292.7,493.2 L293.7,493.3 L294.7,493.4 L295.7,493.5 L296.6,493.6 L297.6,493.7 L298.6,493.8 L299.6,494.0 L300.6,494.3 L301.6,494.8 L302.6,495.5 L303.6,496.4 L304.6,497.4 L305.6,498.5 L306.6,499.7 L307.6,501.0 L308.6,502.2 L309.6,503.5 L310.6,504.7 L311.6,505.8 L312.6,506.9 L313.6,508.0 L314.6,509.2 L315.6,510.4 L316.6,511.6 L317.6,512.8 L318.6,514.1 L319.6,515.3 L320.6,516.5 L321.6,517.7 L322.6,518.9 L323.6,520.0 L324.6,521.1 L325.6,522.1 L326.6,523.1 L327.6,524.0 L328.6,524.9 L329.6,525.9 L330.6,526.8 L331.6,527.8 L332.6,528.6 L333.6,529.4 L334.6,530.1 L335.5,530.7 L336.5,531.1 L337.5,531.3 L338.5,531.4 L339.5,531.6 L340.5,531.7 L341.5,531.8 L342.5,531.9 L343.5,532.0 L344.5,532.0 L345.5,532.1 L346.5,532.2 L347.5,532.2 L348.5,532.3 L349.5,532.3 L350.5,532.3 L351.5,532.4 L352.5,532.4 L353.5,532.4 L354.5,532.4 L355.5,532.4 L356.5,532.4 L357.5,532.4 L358.5,532.4 L359.5,532.4 L360.5,532.4 L361.5,532.4 L362.5,532.4 L363.5,532.4 L364.5,532.4 L365.5,532.4 L366.5,532.4 L367.5,532.4 L368.5,532.4 L369.5,532.4 L370.5,532.4 L371.5,532.4 L372.5,532.4 L373.4,532.4 L374.4,532.4 L375.4,532.4 L376.4,532.4 L377.4,532.4 L378.4,532.4 L379.4,532.4 L380.4,532.4 L381.4,532.4 L382.4,532.4 L383.4,532.4 L384.4,532.4 L385.4,532.4 L386.4,532.4 L387.4,532.4 L388.4,532.4 L389.4,532.4 L390.4,532.4 L391.4,532.4 L392.4,532.4 L393.4,532.4 L394.4,532.4 L395.4,532.4 L396.4,532.4 L397.4,532.4 L398.4,532.4 L399.4,532.4 L400.4,532.4 L401.4,532.4 L402.4,532.4 L403.4,532.4 L404.4,532.4 L405.4,532.4 L406.4,532.4 L407.4,532.4 L408.4,532.4 L409.4,532.4 L410.4,532.4 L411.4,532.4 L412.3,532.4 L413.3,532.4 L414.3,532.4 L415.3,532.4 L416.3,532.4 L417.3,532.4 L418.3,532.4 L419.3,532.4 L420.3,532.4 L421.3,532.4 L422.3,532.4 L423.3,532.4 L424.3,532.4 L425.3,532.4 L426.3,532.4 L427.3,532.4 L428.3,532.4 L429.3,532.4 L430.3,532.4 L431.3,532.3 L432.3,531.8 L433.3,530.8 L434.3,529.5 L435.3,528.0 L436.3,526.5 L437.3,525.0 L438.3,523.7 L439.3,522.7 L440.3,522.1 L441.3,522.1 L442.3,522.2 L443.3,522.5 L444.3,522.8 L445.3,523.2 L446.3,523.6 L447.3,524.0 L448.3,524.3 L449.3,524.6 L450.2,524.7 L451.2,524.8 L452.2,524.9 L453.2,525.0 L454.2,525.1 L455.2,525.2 L456.2,525.3 L457.2,525.3 L458.2,525.4 L459.2,525.5 L460.2,525.5 L461.2,525.6 L462.2,525.6 L463.2,525.7 L464.2,525.7 L465.2,525.7 L466.2,525.8 L467.2,525.8 L468.2,525.8 L469.2,525.8" fill="none" stroke="#f51e2d" stroke-width="1.3" stroke-linejoin="round"/>
</g>
<g clip-path="url(#cf)">
<path d="M605.6,329.2 L606.6,378.0 L607.6,428.0 L608.6,490.3 L609.6,524.5 L610.6,532.0 L611.6,533.9 L612.6,533.9 L613.6,533.9 L614.6,533.9 L615.6,533.9 L616.6,533.9 L617.6,533.9 L618.6,533.9 L619.6,531.9 L620.6,520.3 L621.6,502.7 L622.6,483.7 L623.6,464.6 L624.6,440.6 L625.5,417.7 L626.5,402.8 L627.5,396.0 L628.5,390.1 L629.5,385.2 L630.5,381.6 L631.5,379.4 L632.5,378.7 L633.5,379.7 L634.5,381.5 L635.5,383.7 L636.5,386.9 L637.5,391.1 L638.5,396.1 L639.5,401.5 L640.5,407.1 L641.5,412.6 L642.5,417.7 L643.5,422.3 L644.5,426.2 L645.5,430.3 L646.5,434.5 L647.5,438.7 L648.5,442.5 L649.5,446.0 L650.5,448.7 L651.5,450.7 L652.5,451.5 L653.5,449.6 L654.5,446.0 L655.5,447.6 L656.5,453.0 L657.5,460.2 L658.5,467.2 L659.5,471.9 L660.5,474.2 L661.5,476.1 L662.5,477.1 L663.4,476.6 L664.4,474.9 L665.4,472.2 L666.4,469.0 L667.4,465.8 L668.4,462.8 L669.4,460.6 L670.4,459.1 L671.4,457.7 L672.4,456.4 L673.4,455.2 L674.4,454.1 L675.4,453.1 L676.4,452.1 L677.4,451.2 L678.4,450.2 L679.4,449.3 L680.4,448.4 L681.4,447.5 L682.4,446.5 L683.4,445.7 L684.4,444.8 L685.4,443.9 L686.4,443.1 L687.4,442.2 L688.4,441.4 L689.4,440.6 L690.4,439.8 L691.4,439.1 L692.4,438.3 L693.4,437.5 L694.4,436.8 L695.4,436.1 L696.4,435.3 L697.4,434.6 L698.4,433.9 L699.4,433.2 L700.4,432.5 L701.4,431.8 L702.3,431.1 L703.3,430.5 L704.3,429.8 L705.3,429.1 L706.3,428.5 L707.3,427.8 L708.3,427.2 L709.3,426.6 L710.3,425.9 L711.3,425.3 L712.3,424.7 L713.3,424.1 L714.3,423.5 L715.3,422.9 L716.3,422.3 L717.3,421.7 L718.3,421.1 L719.3,420.5 L720.3,419.9 L721.3,419.4 L722.3,418.8 L723.3,418.2 L724.3,417.6 L725.3,417.0 L726.3,416.4 L727.3,415.9 L728.3,415.3 L729.3,414.7 L730.3,414.1 L731.3,413.5 L732.3,413.0 L733.3,412.4 L734.3,411.8 L735.3,411.2 L736.3,410.6 L737.3,410.0 L738.3,409.4 L739.3,408.9 L740.2,408.3 L741.2,407.7 L742.2,407.2 L743.2,406.6 L744.2,406.1 L745.2,405.5 L746.2,405.0 L747.2,404.4 L748.2,403.8 L749.2,403.3 L750.2,402.7 L751.2,402.1 L752.2,401.5 L753.2,400.9 L754.2,400.3 L755.2,399.7 L756.2,399.1 L757.2,398.5 L758.2,397.8 L759.2,397.2 L760.2,396.5 L761.2,395.8 L762.2,395.1 L763.2,394.4 L764.2,393.7 L765.2,393.0 L766.2,392.3 L767.2,391.5 L768.2,390.8 L769.2,390.0 L770.2,389.3 L771.2,388.5 L772.2,387.7 L773.2,386.9 L774.2,386.1 L775.2,385.3 L776.2,384.5 L777.2,383.7 L778.1,382.9 L779.1,382.1 L780.1,381.2 L781.1,380.4 L782.1,379.5 L783.1,378.7 L784.1,377.8 L785.1,377.0 L786.1,376.2 L787.1,375.3 L788.1,374.5 L789.1,373.6 L790.1,372.8 L791.1,371.9 L792.1,371.0 L793.1,370.1 L794.1,369.2 L795.1,368.3 L796.1,367.3 L797.1,366.4 L798.1,365.3 L799.1,364.3 L800.1,363.3 L801.1,362.2 L802.1,361.0 L803.1,359.9 L804.1,358.7 L805.1,357.4 L806.1,356.0 L807.1,354.5 L808.1,352.8 L809.1,351.0 L810.1,349.1 L811.1,347.2 L812.1,345.2 L813.1,343.2 L814.1,341.3 L815.1,339.4 L816.1,337.6 L817.0,335.8 L818.0,334.2 L819.0,332.8 L820.0,331.5 L821.0,330.2 L822.0,328.9 L823.0,327.6 L824.0,326.4 L825.0,325.4 L826.0,324.5 L827.0,323.9 L828.0,323.7 L829.0,323.8 L830.0,324.0 L831.0,324.4 L832.0,324.9 L833.0,325.4 L834.0,326.1 L835.0,326.7 L836.0,327.4 L837.0,328.4 L838.0,329.5 L839.0,330.8 L840.0,332.2 L841.0,333.9 L842.0,335.6 L843.0,337.5 L844.0,339.5 L845.0,341.6 L846.0,343.7 L847.0,345.9 L848.0,348.1 L849.0,350.3 L850.0,352.5 L851.0,354.7 L852.0,356.9 L853.0,359.0 L854.0,361.0 L854.9,363.0 L855.9,364.9 L856.9,366.9 L857.9,368.9 L858.9,370.8 L859.9,372.8 L860.9,374.8 L861.9,376.8 L862.9,378.8 L863.9,380.8 L864.9,382.9 L865.9,384.9 L866.9,387.0 L867.9,389.1 L868.9,391.3 L869.9,393.4 L870.9,395.6 L871.9,397.8 L872.9,400.0 L873.9,402.3 L874.9,404.6 L875.9,406.8 L876.9,409.1 L877.9,411.4 L878.9,413.7 L879.9,416.1 L880.9,418.4 L881.9,420.8 L882.9,423.2 L883.9,425.7 L884.9,428.2 L885.9,430.8 L886.9,433.4 L887.9,436.0 L888.9,438.7 L889.9,441.5 L890.9,444.4 L891.9,447.3 L892.9,450.3 L893.8,453.5 L894.8,457.0 L895.8,460.8 L896.8,464.7 L897.8,468.9 L898.8,473.1 L899.8,477.4 L900.8,481.6 L901.8,485.8 L902.8,489.9 L903.8,493.8 L904.8,497.5 L905.8,500.9 L906.8,503.9 L907.8,506.6 L908.8,509.0 L909.8,511.4 L910.8,513.8 L911.8,516.1 L912.8,518.4 L913.8,520.5 L914.8,522.4 L915.8,524.1 L916.8,525.5 L917.8,526.5 L918.8,527.1 L919.8,527.3 L920.8,527.2 L921.8,527.1 L922.8,526.9 L923.8,526.6 L924.8,526.2 L925.8,525.8 L926.8,525.4 L927.8,524.8 L928.8,523.9 L929.8,522.6 L930.8,520.8 L931.7,518.8 L932.7,516.6 L933.7,514.1 L934.7,511.5 L935.7,508.9 L936.7,506.2 L937.7,503.6 L938.7,501.1 L939.7,498.5 L940.7,495.4 L941.7,492.1 L942.7,488.6 L943.7,485.1 L944.7,481.6 L945.7,478.2 L946.7,475.1 L947.7,472.4 L948.7,470.2 L949.7,468.5 L950.7,467.5 L951.7,466.7 L952.7,466.1 L953.7,465.7 L954.7,465.9 L955.7,467.1 L956.7,469.2 L957.7,472.0 L958.7,475.1 L959.7,478.3 L960.7,482.0 L961.7,487.3 L962.7,493.6 L963.7,500.3 L964.7,506.5 L965.7,511.7 L966.7,515.2 L967.7,516.3 L968.7,515.9 L969.6,514.9 L970.6,513.3 L971.6,511.4 L972.6,509.1 L973.6,506.3 L974.6,500.1 L975.6,490.5 L976.6,478.7 L977.6,465.4 L978.6,451.7 L979.6,438.6 L980.6,427.1 L981.6,417.4 L982.6,408.0 L983.6,399.0 L984.6,390.1 L985.6,381.6 L986.6,373.4 L987.6,365.4 L988.6,357.8" fill="none" stroke="#b2182b" stroke-width="1.3" stroke-linejoin="round"/>
<path d="M605.6,331.4 L606.6,364.8 L607.6,405.4 L608.6,463.4 L609.6,504.5 L610.6,524.1 L611.6,533.7 L612.6,533.9 L613.6,533.9 L614.6,533.9 L615.6,533.9 L616.6,533.9 L617.6,533.9 L618.6,533.9 L619.6,533.9 L620.6,533.9 L621.6,533.9 L622.6,533.9 L623.6,533.9 L624.6,533.9 L625.5,533.9 L626.5,533.9 L627.5,533.9 L628.5,533.9 L629.5,533.9 L630.5,533.9 L631.5,533.9 L632.5,533.9 L633.5,533.9 L634.5,533.9 L635.5,533.9 L636.5,533.9 L637.5,533.9 L638.5,533.9 L639.5,533.9 L640.5,533.9 L641.5,533.9 L642.5,519.3 L643.5,477.2 L644.5,444.9 L645.5,435.2 L646.5,432.2 L647.5,430.2 L648.5,429.2 L649.5,428.9 L650.5,428.9 L651.5,428.9 L652.5,429.2 L653.5,430.9 L654.5,433.3 L655.5,435.3 L656.5,436.4 L657.5,437.1 L658.5,437.6 L659.5,438.3 L660.5,439.4 L661.5,441.6 L662.5,444.8 L663.4,448.0 L664.4,450.6 L665.4,452.5 L666.4,454.3 L667.4,455.9 L668.4,457.5 L669.4,459.3 L670.4,461.3 L671.4,463.5 L672.4,465.8 L673.4,468.1 L674.4,470.4 L675.4,472.4 L676.4,474.1 L677.4,475.3 L678.4,476.5 L679.4,477.5 L680.4,478.4 L681.4,478.9 L682.4,479.1 L683.4,477.9 L684.4,475.4 L685.4,472.2 L686.4,468.8 L687.4,465.7 L688.4,463.4 L689.4,461.3 L690.4,459.3 L691.4,457.3 L692.4,455.4 L693.4,453.6 L694.4,451.8 L695.4,450.0 L696.4,448.3 L697.4,446.7 L698.4,445.1 L699.4,443.5 L700.4,442.0 L701.4,440.4 L702.3,438.9 L703.3,437.4 L704.3,435.9 L705.3,434.4 L706.3,432.9 L707.3,431.4 L708.3,430.0 L709.3,428.5 L710.3,427.1 L711.3,425.7 L712.3,424.3 L713.3,422.9 L714.3,421.5 L715.3,420.2 L716.3,418.8 L717.3,417.5 L718.3,416.2 L719.3,414.9 L720.3,413.7 L721.3,412.4 L722.3,411.2 L723.3,410.0 L724.3,408.8 L725.3,407.6 L726.3,406.5 L727.3,405.4 L728.3,404.3 L729.3,403.2 L730.3,402.1 L731.3,401.1 L732.3,400.1 L733.3,399.1 L734.3,398.2 L735.3,397.2 L736.3,396.3 L737.3,395.5 L738.3,394.6 L739.3,393.7 L740.2,392.9 L741.2,392.1 L742.2,391.3 L743.2,390.5 L744.2,389.8 L745.2,389.0 L746.2,388.3 L747.2,387.6 L748.2,386.9 L749.2,386.2 L750.2,385.5 L751.2,384.8 L752.2,384.1 L753.2,383.5 L754.2,382.8 L755.2,382.2 L756.2,381.5 L757.2,380.9 L758.2,380.2 L759.2,379.6 L760.2,378.9 L761.2,378.3 L762.2,377.7 L763.2,377.1 L764.2,376.6 L765.2,376.0 L766.2,375.4 L767.2,374.9 L768.2,374.3 L769.2,373.8 L770.2,373.2 L771.2,372.7 L772.2,372.2 L773.2,371.6 L774.2,371.1 L775.2,370.5 L776.2,370.0 L777.2,369.4 L778.1,368.8 L779.1,368.2 L780.1,367.6 L781.1,367.0 L782.1,366.4 L783.1,365.8 L784.1,365.1 L785.1,364.4 L786.1,363.7 L787.1,363.0 L788.1,362.3 L789.1,361.6 L790.1,360.9 L791.1,360.2 L792.1,359.5 L793.1,358.7 L794.1,358.0 L795.1,357.3 L796.1,356.6 L797.1,355.9 L798.1,355.3 L799.1,354.6 L800.1,353.9 L801.1,353.3 L802.1,352.7 L803.1,352.1 L804.1,351.4 L805.1,350.8 L806.1,350.1 L807.1,349.5 L808.1,348.9 L809.1,348.3 L810.1,347.7 L811.1,347.1 L812.1,346.6 L813.1,346.0 L814.1,345.6 L815.1,345.1 L816.1,344.7 L817.0,344.3 L818.0,343.9 L819.0,343.5 L820.0,343.1 L821.0,342.8 L822.0,342.5 L823.0,342.3 L824.0,342.2 L825.0,342.3 L826.0,342.8 L827.0,343.6 L828.0,344.7 L829.0,346.1 L830.0,347.7 L831.0,349.5 L832.0,351.3 L833.0,353.2 L834.0,355.2 L835.0,357.1 L836.0,359.0 L837.0,361.0 L838.0,363.2 L839.0,365.6 L840.0,368.2 L841.0,370.8 L842.0,373.6 L843.0,376.5 L844.0,379.6 L845.0,382.7 L846.0,385.9 L847.0,389.1 L848.0,392.5 L849.0,395.8 L850.0,399.2 L851.0,402.7 L852.0,406.2 L853.0,409.9 L854.0,413.7 L854.9,417.6 L855.9,421.6 L856.9,425.8 L857.9,430.0 L858.9,434.4 L859.9,438.8 L860.9,443.4 L861.9,448.0 L862.9,452.7 L863.9,457.5 L864.9,462.3 L865.9,467.3 L866.9,472.5 L867.9,478.3 L868.9,484.6 L869.9,491.0 L870.9,497.5 L871.9,503.8 L872.9,509.8 L873.9,515.3 L874.9,520.0 L875.9,523.9 L876.9,527.8 L877.9,531.3 L878.9,533.5 L879.9,533.9 L880.9,533.9 L881.9,533.9 L882.9,533.9 L883.9,533.9 L884.9,533.9 L885.9,533.9 L886.9,533.9 L887.9,533.9 L888.9,533.9 L889.9,533.9 L890.9,533.9 L891.9,533.9 L892.9,533.9 L893.8,533.9 L894.8,533.9 L895.8,533.9 L896.8,533.9 L897.8,533.9 L898.8,533.9 L899.8,533.9 L900.8,533.9 L901.8,533.9 L902.8,533.9 L903.8,533.9 L904.8,533.9 L905.8,533.9 L906.8,533.9 L907.8,533.9 L908.8,533.9 L909.8,533.9 L910.8,533.9 L911.8,533.9 L912.8,533.9 L913.8,533.9 L914.8,533.9 L915.8,533.9 L916.8,533.9 L917.8,533.9 L918.8,533.9 L919.8,533.9 L920.8,533.9 L921.8,533.9 L922.8,533.9 L923.8,533.9 L924.8,533.9 L925.8,533.9 L926.8,533.9 L927.8,533.9 L928.8,533.9 L929.8,533.9 L930.8,533.9 L931.7,533.9 L932.7,533.9 L933.7,533.9 L934.7,533.9 L935.7,533.9 L936.7,533.9 L937.7,533.9 L938.7,533.9 L939.7,533.9 L940.7,533.9 L941.7,533.9 L942.7,533.9 L943.7,533.9 L944.7,533.9 L945.7,533.9 L946.7,533.9 L947.7,533.9 L948.7,533.9 L949.7,533.9 L950.7,533.9 L951.7,533.9 L952.7,533.9 L953.7,533.9 L954.7,533.9 L955.7,533.9 L956.7,533.9 L957.7,533.9 L958.7,533.9 L959.7,533.9 L960.7,533.9 L961.7,533.9 L962.7,533.9 L963.7,533.9 L964.7,533.9 L965.7,533.9 L966.7,533.9 L967.7,533.9 L968.7,533.9 L969.6,533.9 L970.6,533.9 L971.6,533.9 L972.6,533.9 L973.6,533.9 L974.6,533.9 L975.6,533.9 L976.6,533.9 L977.6,533.9 L978.6,533.9 L979.6,533.9 L980.6,533.9 L981.6,533.9 L982.6,533.9 L983.6,533.9 L984.6,533.9 L985.6,533.9 L986.6,533.9 L987.6,533.9 L988.6,533.9" fill="none" stroke="#d6452f" stroke-width="1.3" stroke-linejoin="round"/>
<path d="M605.6,335.8 L606.6,366.5 L607.6,405.3 L608.6,463.1 L609.6,504.5 L610.6,524.1 L611.6,533.7 L612.6,533.9 L613.6,533.9 L614.6,533.9 L615.6,533.9 L616.6,533.9 L617.6,533.9 L618.6,533.9 L619.6,533.9 L620.6,533.9 L621.6,533.9 L622.6,533.9 L623.6,533.9 L624.6,533.9 L625.5,533.9 L626.5,533.9 L627.5,533.9 L628.5,533.9 L629.5,533.9 L630.5,533.9 L631.5,533.9 L632.5,533.9 L633.5,533.9 L634.5,533.9 L635.5,533.9 L636.5,533.9 L637.5,533.9 L638.5,533.9 L639.5,533.9 L640.5,533.9 L641.5,533.9 L642.5,533.9 L643.5,491.6 L644.5,449.8 L645.5,425.2 L646.5,410.2 L647.5,406.0 L648.5,404.2 L649.5,403.4 L650.5,403.4 L651.5,403.5 L652.5,403.6 L653.5,403.8 L654.5,404.1 L655.5,404.3 L656.5,404.7 L657.5,405.0 L658.5,405.4 L659.5,405.9 L660.5,406.7 L661.5,407.7 L662.5,408.9 L663.4,410.1 L664.4,411.2 L665.4,412.3 L666.4,413.4 L667.4,414.5 L668.4,415.6 L669.4,416.7 L670.4,417.6 L671.4,418.4 L672.4,419.0 L673.4,419.7 L674.4,420.4 L675.4,421.0 L676.4,421.6 L677.4,422.1 L678.4,422.5 L679.4,422.8 L680.4,422.9 L681.4,422.9 L682.4,421.8 L683.4,419.8 L684.4,417.4 L685.4,414.9 L686.4,412.8 L687.4,411.5 L688.4,411.6 L689.4,413.9 L690.4,417.9 L691.4,423.1 L692.4,428.5 L693.4,433.5 L694.4,437.9 L695.4,442.9 L696.4,448.4 L697.4,453.9 L698.4,459.0 L699.4,463.3 L700.4,466.5 L701.4,468.2 L702.3,468.2 L703.3,467.5 L704.3,466.5 L705.3,465.5 L706.3,464.3 L707.3,462.9 L708.3,461.2 L709.3,459.4 L710.3,457.4 L711.3,455.3 L712.3,453.1 L713.3,450.8 L714.3,448.5 L715.3,446.1 L716.3,443.8 L717.3,441.5 L718.3,439.3 L719.3,437.2 L720.3,435.2 L721.3,433.4 L722.3,431.5 L723.3,429.6 L724.3,427.8 L725.3,425.9 L726.3,424.1 L727.3,422.3 L728.3,420.5 L729.3,418.7 L730.3,417.0 L731.3,415.3 L732.3,413.6 L733.3,412.1 L734.3,410.5 L735.3,409.0 L736.3,407.6 L737.3,406.1 L738.3,404.7 L739.3,403.3 L740.2,401.9 L741.2,400.5 L742.2,399.2 L743.2,397.8 L744.2,396.5 L745.2,395.2 L746.2,394.0 L747.2,392.7 L748.2,391.5 L749.2,390.3 L750.2,389.1 L751.2,387.9 L752.2,386.8 L753.2,385.6 L754.2,384.5 L755.2,383.5 L756.2,382.4 L757.2,381.4 L758.2,380.4 L759.2,379.4 L760.2,378.5 L761.2,377.6 L762.2,376.7 L763.2,375.8 L764.2,375.0 L765.2,374.1 L766.2,373.3 L767.2,372.5 L768.2,371.7 L769.2,371.0 L770.2,370.2 L771.2,369.4 L772.2,368.7 L773.2,368.0 L774.2,367.2 L775.2,366.5 L776.2,365.8 L777.2,365.0 L778.1,364.3 L779.1,363.5 L780.1,362.8 L781.1,362.1 L782.1,361.4 L783.1,360.7 L784.1,360.0 L785.1,359.3 L786.1,358.7 L787.1,358.0 L788.1,357.3 L789.1,356.7 L790.1,356.0 L791.1,355.3 L792.1,354.6 L793.1,354.0 L794.1,353.3 L795.1,352.6 L796.1,351.9 L797.1,351.2 L798.1,350.5 L799.1,349.8 L800.1,349.1 L801.1,348.3 L802.1,347.6 L803.1,346.8 L804.1,346.1 L805.1,345.4 L806.1,344.6 L807.1,343.9 L808.1,343.2 L809.1,342.5 L810.1,341.8 L811.1,341.1 L812.1,340.4 L813.1,339.8 L814.1,339.1 L815.1,338.4 L816.1,337.6 L817.0,336.8 L818.0,336.1 L819.0,335.3 L820.0,334.6 L821.0,333.9 L822.0,333.3 L823.0,332.8 L824.0,332.3 L825.0,331.9 L826.0,331.6 L827.0,331.4 L828.0,331.4 L829.0,331.6 L830.0,332.0 L831.0,332.6 L832.0,333.4 L833.0,334.3 L834.0,335.3 L835.0,336.5 L836.0,337.7 L837.0,339.0 L838.0,340.3 L839.0,341.6 L840.0,343.0 L841.0,344.3 L842.0,345.5 L843.0,346.7 L844.0,347.9 L845.0,349.0 L846.0,350.2 L847.0,351.4 L848.0,352.7 L849.0,353.9 L850.0,355.2 L851.0,356.5 L852.0,357.8 L853.0,359.1 L854.0,360.5 L854.9,361.8 L855.9,363.2 L856.9,364.6 L857.9,366.0 L858.9,367.4 L859.9,368.8 L860.9,370.3 L861.9,371.7 L862.9,373.2 L863.9,374.7 L864.9,376.2 L865.9,377.7 L866.9,379.3 L867.9,380.9 L868.9,382.5 L869.9,384.1 L870.9,385.8 L871.9,387.6 L872.9,389.4 L873.9,391.2 L874.9,393.1 L875.9,394.9 L876.9,396.8 L877.9,398.7 L878.9,400.7 L879.9,402.7 L880.9,404.7 L881.9,406.8 L882.9,408.9 L883.9,411.1 L884.9,413.4 L885.9,415.7 L886.9,418.2 L887.9,420.7 L888.9,423.3 L889.9,426.0 L890.9,428.8 L891.9,431.8 L892.9,434.9 L893.8,438.3 L894.8,442.2 L895.8,446.6 L896.8,451.4 L897.8,456.5 L898.8,461.8 L899.8,467.2 L900.8,472.7 L901.8,478.2 L902.8,483.6 L903.8,488.8 L904.8,493.7 L905.8,498.4 L906.8,502.6 L907.8,506.3 L908.8,509.6 L909.8,513.1 L910.8,516.6 L911.8,519.9 L912.8,522.8 L913.8,525.1 L914.8,526.7 L915.8,527.3 L916.8,527.3 L917.8,527.1 L918.8,526.9 L919.8,526.6 L920.8,526.3 L921.8,525.9 L922.8,525.4 L923.8,524.9 L924.8,524.1 L925.8,522.9 L926.8,521.4 L927.8,519.5 L928.8,517.4 L929.8,515.0 L930.8,512.5 L931.7,509.8 L932.7,507.0 L933.7,504.1 L934.7,501.2 L935.7,498.3 L936.7,495.4 L937.7,492.7 L938.7,490.1 L939.7,487.4 L940.7,484.3 L941.7,480.8 L942.7,477.2 L943.7,473.5 L944.7,469.8 L945.7,466.2 L946.7,462.8 L947.7,459.8 L948.7,457.1 L949.7,454.9 L950.7,453.4 L951.7,452.6 L952.7,452.6 L953.7,453.3 L954.7,454.6 L955.7,456.2 L956.7,458.6 L957.7,463.4 L958.7,469.7 L959.7,476.8 L960.7,483.6 L961.7,489.3 L962.7,494.2 L963.7,499.3 L964.7,504.2 L965.7,508.3 L966.7,511.0 L967.7,511.9 L968.7,511.3 L969.6,510.0 L970.6,508.1 L971.6,505.6 L972.6,502.8 L973.6,499.6 L974.6,494.1 L975.6,486.3 L976.6,477.0 L977.6,466.7 L978.6,456.2 L979.6,446.2 L980.6,437.3 L981.6,429.8 L982.6,422.6 L983.6,415.6 L984.6,408.8 L985.6,402.3 L986.6,396.0 L987.6,390.0 L988.6,384.2" fill="none" stroke="#f4874f" stroke-width="1.3" stroke-linejoin="round"/>
<path d="M605.6,340.2 L606.6,368.2 L607.6,405.2 L608.6,462.7 L609.6,504.5 L610.6,524.1 L611.6,533.7 L612.6,533.9 L613.6,533.9 L614.6,533.9 L615.6,533.9 L616.6,533.9 L617.6,533.9 L618.6,533.9 L619.6,533.9 L620.6,533.9 L621.6,533.9 L622.6,533.9 L623.6,533.9 L624.6,533.9 L625.5,533.9 L626.5,533.9 L627.5,533.9 L628.5,533.9 L629.5,533.9 L630.5,533.9 L631.5,533.9 L632.5,533.9 L633.5,533.9 L634.5,533.9 L635.5,533.9 L636.5,533.9 L637.5,533.9 L638.5,533.9 L639.5,533.9 L640.5,533.9 L641.5,533.9 L642.5,533.9 L643.5,533.9 L644.5,533.9 L645.5,533.9 L646.5,533.9 L647.5,528.7 L648.5,500.8 L649.5,471.0 L650.5,452.8 L651.5,434.9 L652.5,418.3 L653.5,404.2 L654.5,394.0 L655.5,388.9 L656.5,388.7 L657.5,389.1 L658.5,389.8 L659.5,390.6 L660.5,391.4 L661.5,392.2 L662.5,393.0 L663.4,393.5 L664.4,393.7 L665.4,393.5 L666.4,392.7 L667.4,391.5 L668.4,390.0 L669.4,388.4 L670.4,386.7 L671.4,385.0 L672.4,383.6 L673.4,382.4 L674.4,381.6 L675.4,381.0 L676.4,380.4 L677.4,379.8 L678.4,379.3 L679.4,378.8 L680.4,378.3 L681.4,377.9 L682.4,377.6 L683.4,377.3 L684.4,377.1 L685.4,377.0 L686.4,377.0 L687.4,378.1 L688.4,380.0 L689.4,382.7 L690.4,385.9 L691.4,389.5 L692.4,393.0 L693.4,396.4 L694.4,399.6 L695.4,403.1 L696.4,406.8 L697.4,410.7 L698.4,414.7 L699.4,418.8 L700.4,422.9 L701.4,427.0 L702.3,431.0 L703.3,434.9 L704.3,438.6 L705.3,442.0 L706.3,445.6 L707.3,449.4 L708.3,453.4 L709.3,457.3 L710.3,461.1 L711.3,464.5 L712.3,467.5 L713.3,469.9 L714.3,471.5 L715.3,472.2 L716.3,472.1 L717.3,471.5 L718.3,470.5 L719.3,469.3 L720.3,468.1 L721.3,466.8 L722.3,465.2 L723.3,463.4 L724.3,461.4 L725.3,459.1 L726.3,456.7 L727.3,454.2 L728.3,451.6 L729.3,449.0 L730.3,446.4 L731.3,443.8 L732.3,441.3 L733.3,438.8 L734.3,436.5 L735.3,434.4 L736.3,432.4 L737.3,430.4 L738.3,428.3 L739.3,426.3 L740.2,424.3 L741.2,422.4 L742.2,420.4 L743.2,418.4 L744.2,416.5 L745.2,414.6 L746.2,412.7 L747.2,410.8 L748.2,409.0 L749.2,407.2 L750.2,405.4 L751.2,403.6 L752.2,401.8 L753.2,400.1 L754.2,398.4 L755.2,396.7 L756.2,395.0 L757.2,393.4 L758.2,391.8 L759.2,390.2 L760.2,388.6 L761.2,387.1 L762.2,385.5 L763.2,384.0 L764.2,382.5 L765.2,381.0 L766.2,379.5 L767.2,378.0 L768.2,376.6 L769.2,375.2 L770.2,373.8 L771.2,372.4 L772.2,371.1 L773.2,369.9 L774.2,368.6 L775.2,367.5 L776.2,366.3 L777.2,365.3 L778.1,364.2 L779.1,363.2 L780.1,362.3 L781.1,361.4 L782.1,360.5 L783.1,359.6 L784.1,358.8 L785.1,357.9 L786.1,357.2 L787.1,356.4 L788.1,355.6 L789.1,354.9 L790.1,354.1 L791.1,353.4 L792.1,352.7 L793.1,351.9 L794.1,351.2 L795.1,350.5 L796.1,349.8 L797.1,349.0 L798.1,348.3 L799.1,347.5 L800.1,346.7 L801.1,345.9 L802.1,345.1 L803.1,344.3 L804.1,343.6 L805.1,342.8 L806.1,342.0 L807.1,341.3 L808.1,340.5 L809.1,339.8 L810.1,339.1 L811.1,338.5 L812.1,337.9 L813.1,337.3 L814.1,336.8 L815.1,336.3 L816.1,335.9 L817.0,335.5 L818.0,335.1 L819.0,334.7 L820.0,334.4 L821.0,334.0 L822.0,333.8 L823.0,333.7 L824.0,333.6 L825.0,333.7 L826.0,333.8 L827.0,334.1 L828.0,334.4 L829.0,334.8 L830.0,335.2 L831.0,335.7 L832.0,336.2 L833.0,336.7 L834.0,337.3 L835.0,337.8 L836.0,338.4 L837.0,339.0 L838.0,339.8 L839.0,340.6 L840.0,341.5 L841.0,342.5 L842.0,343.5 L843.0,344.6 L844.0,345.7 L845.0,346.9 L846.0,348.1 L847.0,349.2 L848.0,350.4 L849.0,351.6 L850.0,352.8 L851.0,354.0 L852.0,355.1 L853.0,356.2 L854.0,357.2 L854.9,358.2 L855.9,359.1 L856.9,360.0 L857.9,360.9 L858.9,361.7 L859.9,362.6 L860.9,363.4 L861.9,364.2 L862.9,365.0 L863.9,365.8 L864.9,366.6 L865.9,367.5 L866.9,368.3 L867.9,369.2 L868.9,370.2 L869.9,371.2 L870.9,372.2 L871.9,373.3 L872.9,374.5 L873.9,375.7 L874.9,377.0 L875.9,378.3 L876.9,379.7 L877.9,381.1 L878.9,382.6 L879.9,384.1 L880.9,385.8 L881.9,387.5 L882.9,389.3 L883.9,391.2 L884.9,393.1 L885.9,395.2 L886.9,397.4 L887.9,399.7 L888.9,402.0 L889.9,404.6 L890.9,407.2 L891.9,410.0 L892.9,412.8 L893.8,416.3 L894.8,420.5 L895.8,425.5 L896.8,431.1 L897.8,437.2 L898.8,443.6 L899.8,450.3 L900.8,457.2 L901.8,464.1 L902.8,470.9 L903.8,477.4 L904.8,483.7 L905.8,489.5 L906.8,494.8 L907.8,499.4 L908.8,503.5 L909.8,507.7 L910.8,512.0 L911.8,516.0 L912.8,519.6 L913.8,522.4 L914.8,524.4 L915.8,525.1 L916.8,525.1 L917.8,524.9 L918.8,524.7 L919.8,524.4 L920.8,524.1 L921.8,523.7 L922.8,523.2 L923.8,522.7 L924.8,522.0 L925.8,520.8 L926.8,519.3 L927.8,517.6 L928.8,515.5 L929.8,513.3 L930.8,510.9 L931.7,508.4 L932.7,505.7 L933.7,503.0 L934.7,500.3 L935.7,497.6 L936.7,495.0 L937.7,492.5 L938.7,490.1 L939.7,487.6 L940.7,484.8 L941.7,481.8 L942.7,478.6 L943.7,475.3 L944.7,472.1 L945.7,468.9 L946.7,465.9 L947.7,463.2 L948.7,460.9 L949.7,459.0 L950.7,457.7 L951.7,457.0 L952.7,456.9 L953.7,457.2 L954.7,457.9 L955.7,458.7 L956.7,460.3 L957.7,464.5 L958.7,470.4 L959.7,477.1 L960.7,483.8 L961.7,489.3 L962.7,494.1 L963.7,499.2 L964.7,504.1 L965.7,508.2 L966.7,511.0 L967.7,511.9 L968.7,511.3 L969.6,510.0 L970.6,508.1 L971.6,505.7 L972.6,502.8 L973.6,499.5 L974.6,493.5 L975.6,484.7 L976.6,473.9 L977.6,462.0 L978.6,449.6 L979.6,437.7 L980.6,426.9 L981.6,417.6 L982.6,408.5 L983.6,399.6 L984.6,390.9 L985.6,382.3 L986.6,374.0 L987.6,365.8 L988.6,357.8" fill="none" stroke="#fdd384" stroke-width="1.3" stroke-linejoin="round"/>
<path d="M605.6,340.2 L606.6,368.2 L607.6,405.2 L608.6,462.7 L609.6,504.5 L610.6,524.1 L611.6,533.7 L612.6,533.9 L613.6,533.9 L614.6,533.9 L615.6,533.9 L616.6,533.9 L617.6,533.9 L618.6,533.9 L619.6,533.9 L620.6,533.9 L621.6,533.9 L622.6,533.9 L623.6,533.9 L624.6,533.9 L625.5,533.9 L626.5,533.9 L627.5,533.9 L628.5,533.9 L629.5,533.9 L630.5,533.9 L631.5,533.9 L632.5,533.9 L633.5,533.9 L634.5,533.9 L635.5,533.9 L636.5,533.9 L637.5,533.9 L638.5,533.9 L639.5,533.9 L640.5,533.9 L641.5,533.9 L642.5,533.9 L643.5,533.9 L644.5,533.9 L645.5,533.9 L646.5,533.9 L647.5,533.9 L648.5,533.9 L649.5,533.9 L650.5,533.9 L651.5,533.9 L652.5,533.9 L653.5,533.9 L654.5,533.9 L655.5,533.9 L656.5,533.9 L657.5,511.5 L658.5,467.6 L659.5,413.5 L660.5,382.9 L661.5,382.7 L662.5,382.5 L663.4,382.4 L664.4,382.3 L665.4,382.3 L666.4,382.2 L667.4,382.2 L668.4,382.1 L669.4,382.0 L670.4,381.8 L671.4,381.4 L672.4,380.6 L673.4,379.6 L674.4,378.3 L675.4,376.9 L676.4,375.4 L677.4,373.9 L678.4,372.4 L679.4,371.0 L680.4,369.8 L681.4,368.5 L682.4,367.0 L683.4,365.5 L684.4,364.0 L685.4,362.8 L686.4,362.0 L687.4,361.6 L688.4,361.6 L689.4,361.9 L690.4,362.3 L691.4,362.9 L692.4,363.7 L693.4,364.5 L694.4,365.5 L695.4,366.5 L696.4,367.5 L697.4,368.6 L698.4,369.9 L699.4,371.5 L700.4,373.5 L701.4,375.8 L702.3,378.3 L703.3,381.1 L704.3,384.1 L705.3,387.3 L706.3,390.6 L707.3,394.0 L708.3,397.4 L709.3,400.9 L710.3,404.4 L711.3,407.8 L712.3,411.2 L713.3,414.4 L714.3,418.1 L715.3,422.0 L716.3,426.2 L717.3,430.5 L718.3,434.8 L719.3,439.0 L720.3,442.9 L721.3,446.6 L722.3,449.8 L723.3,452.5 L724.3,454.6 L725.3,456.3 L726.3,457.9 L727.3,459.5 L728.3,461.0 L729.3,462.3 L730.3,463.4 L731.3,464.3 L732.3,465.0 L733.3,465.4 L734.3,465.4 L735.3,464.8 L736.3,463.5 L737.3,461.7 L738.3,459.5 L739.3,457.1 L740.2,454.4 L741.2,451.7 L742.2,449.0 L743.2,446.4 L744.2,444.0 L745.2,441.5 L746.2,438.8 L747.2,436.0 L748.2,433.1 L749.2,430.1 L750.2,427.1 L751.2,424.0 L752.2,420.9 L753.2,417.9 L754.2,414.8 L755.2,411.8 L756.2,408.9 L757.2,406.1 L758.2,403.4 L759.2,400.8 L760.2,398.2 L761.2,395.6 L762.2,393.0 L763.2,390.4 L764.2,387.8 L765.2,385.2 L766.2,382.6 L767.2,380.1 L768.2,377.6 L769.2,375.2 L770.2,372.8 L771.2,370.5 L772.2,368.3 L773.2,366.2 L774.2,364.2 L775.2,362.4 L776.2,360.6 L777.2,359.0 L778.1,357.5 L779.1,356.1 L780.1,354.8 L781.1,353.5 L782.1,352.3 L783.1,351.1 L784.1,349.9 L785.1,348.8 L786.1,347.7 L787.1,346.7 L788.1,345.7 L789.1,344.7 L790.1,343.7 L791.1,342.8 L792.1,342.0 L793.1,341.1 L794.1,340.3 L795.1,339.5 L796.1,338.8 L797.1,338.0 L798.1,337.3 L799.1,336.5 L800.1,335.7 L801.1,334.9 L802.1,334.2 L803.1,333.4 L804.1,332.7 L805.1,332.0 L806.1,331.4 L807.1,330.8 L808.1,330.3 L809.1,329.9 L810.1,329.5 L811.1,329.3 L812.1,329.2 L813.1,329.2 L814.1,329.4 L815.1,329.6 L816.1,329.9 L817.0,330.2 L818.0,330.6 L819.0,331.0 L820.0,331.4 L821.0,331.8 L822.0,332.2 L823.0,332.7 L824.0,333.1 L825.0,333.6 L826.0,334.2 L827.0,334.8 L828.0,335.3 L829.0,336.0 L830.0,336.6 L831.0,337.2 L832.0,337.9 L833.0,338.6 L834.0,339.2 L835.0,339.9 L836.0,340.6 L837.0,341.4 L838.0,342.1 L839.0,342.9 L840.0,343.8 L841.0,344.6 L842.0,345.5 L843.0,346.4 L844.0,347.3 L845.0,348.2 L846.0,349.2 L847.0,350.2 L848.0,351.2 L849.0,352.1 L850.0,353.1 L851.0,354.2 L852.0,355.2 L853.0,356.2 L854.0,357.2 L854.9,358.2 L855.9,359.2 L856.9,360.2 L857.9,361.2 L858.9,362.2 L859.9,363.2 L860.9,364.3 L861.9,365.3 L862.9,366.3 L863.9,367.4 L864.9,368.5 L865.9,369.6 L866.9,370.8 L867.9,371.9 L868.9,373.2 L869.9,374.5 L870.9,375.8 L871.9,377.2 L872.9,378.6 L873.9,380.1 L874.9,381.7 L875.9,383.3 L876.9,385.0 L877.9,386.8 L878.9,388.6 L879.9,390.5 L880.9,392.5 L881.9,394.6 L882.9,396.8 L883.9,399.0 L884.9,401.3 L885.9,403.8 L886.9,406.3 L887.9,409.0 L888.9,411.7 L889.9,414.6 L890.9,417.5 L891.9,420.6 L892.9,423.8 L893.8,427.5 L894.8,431.9 L895.8,437.0 L896.8,442.5 L897.8,448.4 L898.8,454.7 L899.8,461.1 L900.8,467.6 L901.8,474.0 L902.8,480.4 L903.8,486.5 L904.8,492.2 L905.8,497.5 L906.8,502.2 L907.8,506.2 L908.8,509.7 L909.8,513.2 L910.8,516.7 L911.8,520.0 L912.8,522.9 L913.8,525.2 L914.8,526.7 L915.8,527.3 L916.8,527.3 L917.8,527.1 L918.8,526.9 L919.8,526.6 L920.8,526.3 L921.8,525.9 L922.8,525.4 L923.8,524.9 L924.8,524.1 L925.8,522.8 L926.8,521.2 L927.8,519.2 L928.8,516.9 L929.8,514.4 L930.8,511.8 L931.7,509.0 L932.7,506.1 L933.7,503.2 L934.7,500.3 L935.7,497.5 L936.7,494.8 L937.7,492.3 L938.7,490.0 L939.7,487.8 L940.7,485.4 L941.7,482.9 L942.7,480.3 L943.7,477.7 L944.7,475.1 L945.7,472.6 L946.7,470.4 L947.7,468.3 L948.7,466.5 L949.7,465.1 L950.7,464.1 L951.7,463.5 L952.7,463.6 L953.7,464.3 L954.7,465.6 L955.7,467.4 L956.7,469.4 L957.7,471.6 L958.7,474.4 L959.7,478.8 L960.7,484.4 L961.7,490.8 L962.7,497.5 L963.7,504.0 L964.7,509.9 L965.7,514.5 L966.7,517.6 L967.7,518.5 L968.7,517.6 L969.6,515.3 L970.6,512.1 L971.6,508.2 L972.6,503.8 L973.6,499.1 L974.6,492.2 L975.6,483.2 L976.6,472.6 L977.6,461.1 L978.6,449.3 L979.6,437.7 L980.6,427.0 L981.6,417.4 L982.6,407.9 L983.6,398.5 L984.6,389.3 L985.6,380.2 L986.6,371.1 L987.6,362.2 L988.6,353.4" fill="none" stroke="#d6eaf2" stroke-width="1.3" stroke-linejoin="round"/>
<path d="M605.6,340.2 L606.6,368.2 L607.6,405.2 L608.6,462.7 L609.6,504.5 L610.6,524.1 L611.6,533.7 L612.6,533.9 L613.6,533.9 L614.6,533.9 L615.6,533.9 L616.6,533.9 L617.6,533.9 L618.6,533.9 L619.6,533.9 L620.6,533.9 L621.6,533.9 L622.6,533.9 L623.6,533.9 L624.6,533.9 L625.5,533.9 L626.5,533.9 L627.5,533.9 L628.5,533.9 L629.5,533.9 L630.5,533.9 L631.5,533.9 L632.5,533.9 L633.5,533.9 L634.5,533.9 L635.5,533.9 L636.5,533.9 L637.5,533.9 L638.5,533.9 L639.5,533.9 L640.5,533.9 L641.5,533.9 L642.5,533.9 L643.5,533.9 L644.5,533.9 L645.5,533.9 L646.5,533.9 L647.5,533.9 L648.5,533.9 L649.5,533.9 L650.5,533.9 L651.5,533.9 L652.5,533.9 L653.5,533.9 L654.5,533.9 L655.5,533.9 L656.5,533.9 L657.5,533.9 L658.5,533.9 L659.5,533.9 L660.5,533.9 L661.5,533.9 L662.5,525.3 L663.4,503.6 L664.4,478.7 L665.4,458.7 L666.4,438.2 L667.4,418.9 L668.4,404.8 L669.4,397.9 L670.4,392.6 L671.4,389.0 L672.4,387.7 L673.4,387.2 L674.4,387.0 L675.4,386.8 L676.4,386.6 L677.4,386.5 L678.4,386.3 L679.4,386.1 L680.4,385.7 L681.4,384.9 L682.4,383.6 L683.4,381.9 L684.4,379.9 L685.4,377.8 L686.4,375.7 L687.4,373.7 L688.4,371.9 L689.4,370.5 L690.4,369.4 L691.4,368.4 L692.4,367.5 L693.4,366.5 L694.4,365.7 L695.4,364.9 L696.4,364.3 L697.4,363.9 L698.4,363.6 L699.4,363.6 L700.4,363.9 L701.4,364.5 L702.3,365.4 L703.3,366.6 L704.3,368.0 L705.3,369.5 L706.3,371.1 L707.3,372.7 L708.3,374.3 L709.3,375.9 L710.3,377.7 L711.3,379.6 L712.3,381.7 L713.3,384.0 L714.3,386.4 L715.3,388.9 L716.3,391.5 L717.3,394.2 L718.3,396.9 L719.3,399.6 L720.3,402.3 L721.3,405.0 L722.3,407.7 L723.3,410.3 L724.3,412.7 L725.3,415.3 L726.3,418.0 L727.3,420.8 L728.3,423.7 L729.3,426.6 L730.3,429.5 L731.3,432.5 L732.3,435.3 L733.3,438.0 L734.3,440.6 L735.3,443.0 L736.3,445.2 L737.3,447.1 L738.3,448.6 L739.3,449.9 L740.2,450.8 L741.2,451.7 L742.2,452.5 L743.2,453.3 L744.2,454.1 L745.2,454.8 L746.2,455.4 L747.2,456.0 L748.2,456.5 L749.2,457.0 L750.2,457.3 L751.2,457.6 L752.2,457.7 L753.2,457.7 L754.2,457.2 L755.2,455.9 L756.2,453.9 L757.2,451.5 L758.2,448.6 L759.2,445.6 L760.2,442.4 L761.2,439.2 L762.2,436.1 L763.2,433.2 L764.2,430.1 L765.2,426.7 L766.2,423.1 L767.2,419.3 L768.2,415.5 L769.2,411.5 L770.2,407.5 L771.2,403.5 L772.2,399.5 L773.2,395.7 L774.2,392.0 L775.2,388.4 L776.2,385.1 L777.2,382.1 L778.1,379.3 L779.1,376.7 L780.1,374.1 L781.1,371.5 L782.1,368.9 L783.1,366.4 L784.1,364.0 L785.1,361.6 L786.1,359.3 L787.1,357.1 L788.1,354.9 L789.1,352.8 L790.1,350.8 L791.1,349.0 L792.1,347.2 L793.1,345.5 L794.1,344.0 L795.1,342.6 L796.1,341.3 L797.1,340.2 L798.1,339.2 L799.1,338.1 L800.1,337.1 L801.1,336.1 L802.1,335.1 L803.1,334.2 L804.1,333.3 L805.1,332.4 L806.1,331.7 L807.1,331.0 L808.1,330.4 L809.1,330.0 L810.1,329.6 L811.1,329.3 L812.1,329.2 L813.1,329.2 L814.1,329.2 L815.1,329.2 L816.1,329.2 L817.0,329.2 L818.0,329.2 L819.0,329.2 L820.0,329.2 L821.0,329.3 L822.0,329.5 L823.0,329.9 L824.0,330.4 L825.0,331.0 L826.0,331.7 L827.0,332.5 L828.0,333.3 L829.0,334.2 L830.0,335.2 L831.0,336.1 L832.0,337.1 L833.0,338.1 L834.0,339.0 L835.0,339.9 L836.0,340.7 L837.0,341.6 L838.0,342.5 L839.0,343.4 L840.0,344.4 L841.0,345.3 L842.0,346.3 L843.0,347.3 L844.0,348.4 L845.0,349.4 L846.0,350.5 L847.0,351.5 L848.0,352.6 L849.0,353.7 L850.0,354.8 L851.0,356.0 L852.0,357.1 L853.0,358.2 L854.0,359.3 L854.9,360.5 L855.9,361.6 L856.9,362.7 L857.9,363.8 L858.9,365.0 L859.9,366.1 L860.9,367.2 L861.9,368.4 L862.9,369.5 L863.9,370.7 L864.9,371.9 L865.9,373.2 L866.9,374.4 L867.9,375.7 L868.9,377.1 L869.9,378.5 L870.9,379.9 L871.9,381.4 L872.9,383.0 L873.9,384.6 L874.9,386.2 L875.9,387.9 L876.9,389.7 L877.9,391.5 L878.9,393.4 L879.9,395.3 L880.9,397.3 L881.9,399.4 L882.9,401.5 L883.9,403.8 L884.9,406.1 L885.9,408.5 L886.9,411.0 L887.9,413.6 L888.9,416.3 L889.9,419.1 L890.9,422.1 L891.9,425.1 L892.9,428.3 L893.8,431.8 L894.8,436.1 L895.8,440.8 L896.8,446.1 L897.8,451.7 L898.8,457.5 L899.8,463.5 L900.8,469.6 L901.8,475.7 L902.8,481.7 L903.8,487.4 L904.8,492.8 L905.8,497.8 L906.8,502.3 L907.8,506.2 L908.8,509.7 L909.8,513.2 L910.8,516.7 L911.8,520.0 L912.8,522.9 L913.8,525.2 L914.8,526.7 L915.8,527.3 L916.8,527.3 L917.8,527.1 L918.8,526.9 L919.8,526.6 L920.8,526.3 L921.8,525.9 L922.8,525.4 L923.8,524.9 L924.8,524.1 L925.8,522.8 L926.8,521.1 L927.8,519.1 L928.8,516.8 L929.8,514.3 L930.8,511.6 L931.7,508.7 L932.7,505.8 L933.7,502.9 L934.7,500.1 L935.7,497.3 L936.7,494.7 L937.7,492.2 L938.7,490.0 L939.7,487.9 L940.7,485.7 L941.7,483.3 L942.7,480.9 L943.7,478.5 L944.7,476.2 L945.7,474.0 L946.7,471.9 L947.7,470.0 L948.7,468.4 L949.7,467.1 L950.7,466.2 L951.7,465.7 L952.7,465.8 L953.7,466.5 L954.7,467.8 L955.7,469.6 L956.7,471.6 L957.7,473.8 L958.7,476.6 L959.7,481.0 L960.7,486.6 L961.7,493.0 L962.7,499.7 L963.7,506.2 L964.7,512.1 L965.7,516.7 L966.7,519.8 L967.7,520.7 L968.7,519.6 L969.6,517.1 L970.6,513.4 L971.6,509.0 L972.6,504.1 L973.6,498.9 L974.6,491.8 L975.6,482.7 L976.6,472.2 L977.6,460.8 L978.6,449.1 L979.6,437.6 L980.6,427.0 L981.6,417.4 L982.6,407.9 L983.6,398.5 L984.6,389.3 L985.6,380.2 L986.6,371.1 L987.6,362.2 L988.6,353.4" fill="none" stroke="#9ec5e0" stroke-width="1.3" stroke-linejoin="round"/>
<path d="M605.6,335.8 L606.6,366.5 L607.6,405.3 L608.6,463.1 L609.6,504.5 L610.6,524.1 L611.6,533.7 L612.6,533.9 L613.6,533.9 L614.6,533.9 L615.6,533.9 L616.6,533.9 L617.6,533.9 L618.6,533.9 L619.6,533.9 L620.6,533.9 L621.6,533.9 L622.6,533.9 L623.6,533.9 L624.6,533.9 L625.5,533.9 L626.5,533.9 L627.5,533.9 L628.5,533.9 L629.5,533.9 L630.5,533.9 L631.5,533.9 L632.5,533.9 L633.5,533.9 L634.5,533.9 L635.5,533.9 L636.5,533.9 L637.5,533.9 L638.5,533.9 L639.5,533.9 L640.5,533.9 L641.5,533.9 L642.5,533.9 L643.5,533.9 L644.5,533.9 L645.5,533.9 L646.5,533.9 L647.5,533.9 L648.5,533.9 L649.5,533.9 L650.5,533.9 L651.5,533.9 L652.5,533.9 L653.5,533.9 L654.5,533.9 L655.5,533.9 L656.5,533.9 L657.5,533.9 L658.5,533.9 L659.5,533.9 L660.5,533.9 L661.5,533.9 L662.5,533.9 L663.4,533.9 L664.4,533.9 L665.4,533.9 L666.4,533.9 L667.4,533.9 L668.4,533.9 L669.4,533.9 L670.4,533.9 L671.4,533.9 L672.4,533.9 L673.4,533.9 L674.4,533.9 L675.4,533.9 L676.4,533.9 L677.4,533.9 L678.4,533.9 L679.4,520.6 L680.4,495.9 L681.4,471.3 L682.4,444.8 L683.4,430.1 L684.4,421.0 L685.4,414.3 L686.4,409.4 L687.4,405.6 L688.4,402.3 L689.4,399.3 L690.4,396.8 L691.4,394.5 L692.4,392.5 L693.4,390.7 L694.4,389.0 L695.4,387.5 L696.4,386.0 L697.4,384.7 L698.4,383.4 L699.4,382.2 L700.4,381.1 L701.4,380.1 L702.3,379.1 L703.3,378.1 L704.3,377.2 L705.3,376.1 L706.3,375.1 L707.3,374.1 L708.3,373.1 L709.3,372.3 L710.3,371.7 L711.3,371.2 L712.3,371.0 L713.3,371.1 L714.3,371.2 L715.3,371.4 L716.3,371.7 L717.3,372.0 L718.3,372.4 L719.3,372.8 L720.3,373.1 L721.3,373.6 L722.3,374.0 L723.3,374.5 L724.3,375.1 L725.3,375.7 L726.3,376.4 L727.3,377.1 L728.3,377.9 L729.3,378.7 L730.3,379.6 L731.3,380.6 L732.3,381.6 L733.3,382.6 L734.3,383.8 L735.3,384.9 L736.3,386.3 L737.3,388.0 L738.3,389.9 L739.3,392.1 L740.2,394.4 L741.2,396.8 L742.2,399.4 L743.2,402.0 L744.2,404.7 L745.2,407.4 L746.2,410.0 L747.2,412.6 L748.2,415.4 L749.2,418.4 L750.2,421.7 L751.2,425.1 L752.2,428.6 L753.2,432.0 L754.2,435.2 L755.2,438.3 L756.2,441.0 L757.2,443.3 L758.2,445.1 L759.2,446.3 L760.2,447.4 L761.2,448.4 L762.2,449.4 L763.2,450.3 L764.2,451.1 L765.2,451.9 L766.2,452.5 L767.2,453.0 L768.2,453.4 L769.2,453.7 L770.2,453.8 L771.2,453.1 L772.2,450.8 L773.2,447.2 L774.2,442.7 L775.2,437.7 L776.2,432.5 L777.2,427.5 L778.1,423.0 L779.1,418.4 L780.1,413.5 L781.1,408.3 L782.1,402.9 L783.1,397.6 L784.1,392.2 L785.1,387.0 L786.1,382.1 L787.1,377.5 L788.1,373.4 L789.1,369.8 L790.1,366.8 L791.1,363.9 L792.1,361.0 L793.1,358.3 L794.1,355.7 L795.1,353.2 L796.1,350.8 L797.1,348.5 L798.1,346.3 L799.1,344.3 L800.1,342.5 L801.1,340.7 L802.1,339.2 L803.1,337.8 L804.1,336.5 L805.1,335.5 L806.1,334.5 L807.1,333.4 L808.1,332.5 L809.1,331.6 L810.1,330.8 L811.1,330.0 L812.1,329.5 L813.1,329.1 L814.1,328.8 L815.1,328.8 L816.1,328.8 L817.0,329.0 L818.0,329.2 L819.0,329.5 L820.0,329.8 L821.0,330.2 L822.0,330.6 L823.0,331.0 L824.0,331.5 L825.0,332.1 L826.0,332.9 L827.0,333.8 L828.0,334.9 L829.0,336.2 L830.0,337.5 L831.0,338.8 L832.0,340.2 L833.0,341.6 L834.0,342.9 L835.0,344.1 L836.0,345.3 L837.0,346.4 L838.0,347.5 L839.0,348.7 L840.0,349.8 L841.0,350.9 L842.0,352.0 L843.0,353.1 L844.0,354.2 L845.0,355.3 L846.0,356.4 L847.0,357.5 L848.0,358.6 L849.0,359.8 L850.0,361.0 L851.0,362.1 L852.0,363.4 L853.0,364.6 L854.0,365.9 L854.9,367.1 L855.9,368.4 L856.9,369.8 L857.9,371.1 L858.9,372.4 L859.9,373.7 L860.9,375.1 L861.9,376.5 L862.9,377.9 L863.9,379.3 L864.9,380.8 L865.9,382.3 L866.9,383.8 L867.9,385.4 L868.9,387.0 L869.9,388.6 L870.9,390.3 L871.9,392.0 L872.9,393.8 L873.9,395.6 L874.9,397.5 L875.9,399.4 L876.9,401.3 L877.9,403.3 L878.9,405.4 L879.9,407.5 L880.9,409.6 L881.9,411.9 L882.9,414.2 L883.9,416.5 L884.9,419.0 L885.9,421.5 L886.9,424.1 L887.9,426.7 L888.9,429.5 L889.9,432.3 L890.9,435.3 L891.9,438.3 L892.9,441.5 L893.8,444.9 L894.8,448.9 L895.8,453.3 L896.8,458.0 L897.8,463.0 L898.8,468.2 L899.8,473.5 L900.8,478.9 L901.8,484.2 L902.8,489.3 L903.8,494.3 L904.8,499.0 L905.8,503.4 L906.8,507.4 L907.8,510.8 L908.8,513.8 L909.8,516.9 L910.8,520.1 L911.8,523.0 L912.8,525.5 L913.8,527.6 L914.8,529.0 L915.8,529.5 L916.8,529.4 L917.8,529.1 L918.8,528.6 L919.8,528.0 L920.8,527.3 L921.8,526.5 L922.8,525.7 L923.8,524.8 L924.8,523.8 L925.8,522.4 L926.8,520.9 L927.8,519.1 L928.8,517.1 L929.8,515.0 L930.8,512.8 L931.7,510.5 L932.7,508.1 L933.7,505.7 L934.7,503.3 L935.7,501.0 L936.7,498.7 L937.7,496.5 L938.7,494.4 L939.7,492.3 L940.7,490.0 L941.7,487.5 L942.7,484.9 L943.7,482.3 L944.7,479.7 L945.7,477.3 L946.7,474.9 L947.7,472.8 L948.7,471.0 L949.7,469.5 L950.7,468.5 L951.7,467.9 L952.7,467.9 L953.7,468.5 L954.7,469.4 L955.7,470.7 L956.7,472.3 L957.7,474.0 L958.7,476.3 L959.7,480.4 L960.7,486.0 L961.7,492.4 L962.7,499.2 L963.7,505.8 L964.7,511.8 L965.7,516.6 L966.7,519.7 L967.7,520.7 L968.7,519.6 L969.6,517.1 L970.6,513.4 L971.6,509.0 L972.6,504.1 L973.6,498.9 L974.6,491.7 L975.6,482.5 L976.6,471.9 L977.6,460.4 L978.6,448.7 L979.6,437.3 L980.6,426.9 L981.6,417.6 L982.6,408.5 L983.6,399.6 L984.6,390.9 L985.6,382.3 L986.6,374.0 L987.6,365.8 L988.6,357.8" fill="none" stroke="#4f7fbd" stroke-width="1.3" stroke-linejoin="round"/>
<path d="M605.6,331.4 L606.6,364.8 L607.6,405.4 L608.6,463.4 L609.6,504.5 L610.6,524.1 L611.6,533.7 L612.6,533.9 L613.6,533.9 L614.6,533.9 L615.6,533.9 L616.6,533.9 L617.6,533.9 L618.6,533.9 L619.6,533.9 L620.6,533.9 L621.6,533.9 L622.6,533.9 L623.6,533.9 L624.6,533.9 L625.5,533.9 L626.5,533.9 L627.5,533.9 L628.5,533.9 L629.5,533.9 L630.5,533.9 L631.5,533.9 L632.5,533.9 L633.5,533.9 L634.5,533.9 L635.5,533.9 L636.5,533.9 L637.5,533.9 L638.5,533.9 L639.5,533.9 L640.5,533.9 L641.5,533.9 L642.5,533.9 L643.5,533.9 L644.5,533.9 L645.5,533.9 L646.5,533.9 L647.5,533.9 L648.5,533.9 L649.5,533.9 L650.5,533.9 L651.5,533.9 L652.5,533.9 L653.5,533.9 L654.5,533.9 L655.5,533.9 L656.5,533.9 L657.5,533.9 L658.5,533.9 L659.5,533.9 L660.5,533.9 L661.5,533.9 L662.5,533.9 L663.4,533.9 L664.4,533.9 L665.4,533.9 L666.4,533.9 L667.4,533.9 L668.4,533.9 L669.4,533.9 L670.4,533.9 L671.4,533.9 L672.4,533.9 L673.4,533.9 L674.4,533.9 L675.4,533.9 L676.4,533.9 L677.4,533.9 L678.4,533.9 L679.4,533.9 L680.4,529.9 L681.4,507.7 L682.4,486.5 L683.4,469.5 L684.4,454.5 L685.4,445.0 L686.4,439.3 L687.4,434.6 L688.4,430.8 L689.4,427.6 L690.4,424.6 L691.4,421.6 L692.4,418.3 L693.4,414.7 L694.4,411.2 L695.4,407.7 L696.4,404.4 L697.4,401.3 L698.4,398.6 L699.4,396.3 L700.4,394.6 L701.4,393.0 L702.3,391.5 L703.3,390.2 L704.3,388.9 L705.3,387.8 L706.3,386.7 L707.3,385.7 L708.3,384.7 L709.3,383.8 L710.3,382.9 L711.3,381.9 L712.3,381.0 L713.3,380.1 L714.3,379.1 L715.3,378.1 L716.3,377.0 L717.3,375.9 L718.3,374.8 L719.3,373.7 L720.3,372.7 L721.3,371.8 L722.3,371.1 L723.3,370.5 L724.3,370.1 L725.3,369.9 L726.3,370.0 L727.3,370.0 L728.3,370.2 L729.3,370.4 L730.3,370.6 L731.3,370.9 L732.3,371.1 L733.3,371.4 L734.3,371.7 L735.3,372.1 L736.3,372.5 L737.3,373.0 L738.3,373.5 L739.3,374.0 L740.2,374.6 L741.2,375.2 L742.2,375.9 L743.2,376.6 L744.2,377.4 L745.2,378.1 L746.2,378.9 L747.2,379.8 L748.2,380.7 L749.2,381.9 L750.2,383.2 L751.2,384.8 L752.2,386.4 L753.2,388.1 L754.2,389.8 L755.2,391.6 L756.2,393.3 L757.2,395.0 L758.2,396.6 L759.2,398.0 L760.2,399.4 L761.2,400.7 L762.2,402.1 L763.2,403.4 L764.2,404.7 L765.2,405.9 L766.2,407.2 L767.2,408.6 L768.2,409.9 L769.2,411.3 L770.2,412.7 L771.2,414.2 L772.2,416.0 L773.2,418.0 L774.2,420.1 L775.2,422.2 L776.2,424.2 L777.2,426.1 L778.1,427.8 L779.1,429.2 L780.1,430.2 L781.1,430.8 L782.1,430.8 L783.1,429.3 L784.1,426.5 L785.1,422.5 L786.1,417.9 L787.1,412.9 L788.1,407.9 L789.1,403.2 L790.1,398.8 L791.1,394.0 L792.1,388.7 L793.1,383.1 L794.1,377.4 L795.1,371.8 L796.1,366.3 L797.1,361.1 L798.1,356.4 L799.1,352.3 L800.1,348.9 L801.1,346.5 L802.1,344.5 L803.1,342.6 L804.1,340.8 L805.1,339.1 L806.1,337.6 L807.1,336.2 L808.1,335.0 L809.1,333.9 L810.1,333.0 L811.1,332.2 L812.1,331.6 L813.1,331.1 L814.1,330.7 L815.1,330.3 L816.1,329.9 L817.0,329.6 L818.0,329.4 L819.0,329.3 L820.0,329.2 L821.0,329.3 L822.0,329.6 L823.0,330.0 L824.0,330.6 L825.0,331.3 L826.0,332.1 L827.0,333.1 L828.0,334.1 L829.0,335.2 L830.0,336.3 L831.0,337.4 L832.0,338.6 L833.0,339.8 L834.0,340.9 L835.0,342.0 L836.0,343.1 L837.0,344.2 L838.0,345.3 L839.0,346.6 L840.0,347.8 L841.0,349.1 L842.0,350.5 L843.0,351.9 L844.0,353.3 L845.0,354.7 L846.0,356.2 L847.0,357.6 L848.0,359.1 L849.0,360.6 L850.0,362.1 L851.0,363.6 L852.0,365.0 L853.0,366.5 L854.0,368.0 L854.9,369.4 L855.9,370.8 L856.9,372.2 L857.9,373.6 L858.9,375.0 L859.9,376.4 L860.9,377.7 L861.9,379.1 L862.9,380.5 L863.9,381.9 L864.9,383.4 L865.9,384.8 L866.9,386.3 L867.9,387.8 L868.9,389.4 L869.9,391.0 L870.9,392.6 L871.9,394.3 L872.9,396.0 L873.9,397.8 L874.9,399.6 L875.9,401.5 L876.9,403.3 L877.9,405.2 L878.9,407.2 L879.9,409.2 L880.9,411.2 L881.9,413.3 L882.9,415.5 L883.9,417.7 L884.9,420.0 L885.9,422.4 L886.9,424.8 L887.9,427.3 L888.9,430.0 L889.9,432.7 L890.9,435.5 L891.9,438.4 L892.9,441.5 L893.8,444.9 L894.8,448.8 L895.8,453.2 L896.8,458.0 L897.8,463.1 L898.8,468.4 L899.8,473.8 L900.8,479.2 L901.8,484.6 L902.8,489.8 L903.8,494.8 L904.8,499.5 L905.8,503.8 L906.8,507.6 L907.8,510.9 L908.8,513.6 L909.8,516.4 L910.8,519.1 L911.8,521.7 L912.8,523.9 L913.8,525.7 L914.8,526.9 L915.8,527.3 L916.8,527.2 L917.8,526.9 L918.8,526.4 L919.8,525.8 L920.8,525.1 L921.8,524.3 L922.8,523.5 L923.8,522.6 L924.8,521.5 L925.8,520.1 L926.8,518.3 L927.8,516.3 L928.8,514.1 L929.8,511.8 L930.8,509.3 L931.7,506.8 L932.7,504.2 L933.7,501.6 L934.7,499.0 L935.7,496.6 L936.7,494.2 L937.7,492.0 L938.7,490.0 L939.7,488.1 L940.7,486.0 L941.7,483.9 L942.7,481.7 L943.7,479.5 L944.7,477.4 L945.7,475.4 L946.7,473.5 L947.7,471.8 L948.7,470.3 L949.7,469.2 L950.7,468.4 L951.7,467.9 L952.7,468.0 L953.7,468.7 L954.7,470.1 L955.7,471.8 L956.7,473.9 L957.7,476.1 L958.7,478.6 L959.7,482.5 L960.7,487.4 L961.7,492.9 L962.7,498.6 L963.7,504.1 L964.7,509.0 L965.7,513.0 L966.7,515.5 L967.7,516.3 L968.7,515.5 L969.6,513.6 L970.6,510.8 L971.6,507.4 L972.6,503.5 L973.6,499.2 L974.6,492.4 L975.6,483.1 L976.6,472.1 L977.6,460.2 L978.6,448.1 L979.6,436.7 L980.6,426.6 L981.6,418.2 L982.6,410.2 L983.6,402.4 L984.6,395.0 L985.6,387.9 L986.6,381.1 L987.6,374.8 L988.6,368.8" fill="none" stroke="#2f5694" stroke-width="1.3" stroke-linejoin="round"/>
</g>
<line x1="85.20" y1="290.00" x2="469.20" y2="290.00" stroke="#1a1a1a" stroke-width="1.2"/>
<line x1="469.20" y1="290.00" x2="469.20" y2="532.40" stroke="#1a1a1a" stroke-width="1.2"/>
<line x1="85.20" y1="289.40" x2="85.20" y2="533.00" stroke="#1a1a1a" stroke-width="1.2"/>
<line x1="84.60" y1="532.40" x2="469.80" y2="532.40" stroke="#1a1a1a" stroke-width="1.2"/>
<line x1="79.20" y1="532.40" x2="85.20" y2="532.40" stroke="#1a1a1a" stroke-width="1.2"/>
<text x="73.80" y="538.40" font-size="16.8" text-anchor="end" fill="#000">0.0</text>
<line x1="85.20" y1="532.40" x2="85.20" y2="538.70" stroke="#1a1a1a" stroke-width="1.2"/>
<text x="85.20" y="557.30" font-size="16.8" text-anchor="middle" fill="#000">0</text>
<line x1="82.00" y1="510.36" x2="85.20" y2="510.36" stroke="#1a1a1a" stroke-width="1.2"/>
<line x1="123.60" y1="532.40" x2="123.60" y2="535.60" stroke="#1a1a1a" stroke-width="1.2"/>
<line x1="79.20" y1="488.32" x2="85.20" y2="488.32" stroke="#1a1a1a" stroke-width="1.2"/>
<text x="73.80" y="494.32" font-size="16.8" text-anchor="end" fill="#000">0.2</text>
<line x1="162.00" y1="532.40" x2="162.00" y2="538.70" stroke="#1a1a1a" stroke-width="1.2"/>
<text x="162.00" y="557.30" font-size="16.8" text-anchor="middle" fill="#000">2</text>
<line x1="82.00" y1="466.28" x2="85.20" y2="466.28" stroke="#1a1a1a" stroke-width="1.2"/>
<line x1="200.40" y1="532.40" x2="200.40" y2="535.60" stroke="#1a1a1a" stroke-width="1.2"/>
<line x1="79.20" y1="444.24" x2="85.20" y2="444.24" stroke="#1a1a1a" stroke-width="1.2"/>
<text x="73.80" y="450.24" font-size="16.8" text-anchor="end" fill="#000">0.4</text>
<line x1="238.80" y1="532.40" x2="238.80" y2="538.70" stroke="#1a1a1a" stroke-width="1.2"/>
<text x="238.80" y="557.30" font-size="16.8" text-anchor="middle" fill="#000">4</text>
<line x1="82.00" y1="422.20" x2="85.20" y2="422.20" stroke="#1a1a1a" stroke-width="1.2"/>
<line x1="277.20" y1="532.40" x2="277.20" y2="535.60" stroke="#1a1a1a" stroke-width="1.2"/>
<line x1="79.20" y1="400.16" x2="85.20" y2="400.16" stroke="#1a1a1a" stroke-width="1.2"/>
<text x="73.80" y="406.16" font-size="16.8" text-anchor="end" fill="#000">0.6</text>
<line x1="315.60" y1="532.40" x2="315.60" y2="538.70" stroke="#1a1a1a" stroke-width="1.2"/>
<text x="315.60" y="557.30" font-size="16.8" text-anchor="middle" fill="#000">6</text>
<line x1="82.00" y1="378.12" x2="85.20" y2="378.12" stroke="#1a1a1a" stroke-width="1.2"/>
<line x1="354.00" y1="532.40" x2="354.00" y2="535.60" stroke="#1a1a1a" stroke-width="1.2"/>
<line x1="79.20" y1="356.08" x2="85.20" y2="356.08" stroke="#1a1a1a" stroke-width="1.2"/>
<text x="73.80" y="362.08" font-size="16.8" text-anchor="end" fill="#000">0.8</text>
<line x1="392.40" y1="532.40" x2="392.40" y2="538.70" stroke="#1a1a1a" stroke-width="1.2"/>
<text x="392.40" y="557.30" font-size="16.8" text-anchor="middle" fill="#000">8</text>
<line x1="82.00" y1="334.04" x2="85.20" y2="334.04" stroke="#1a1a1a" stroke-width="1.2"/>
<line x1="430.80" y1="532.40" x2="430.80" y2="535.60" stroke="#1a1a1a" stroke-width="1.2"/>
<line x1="79.20" y1="312.00" x2="85.20" y2="312.00" stroke="#1a1a1a" stroke-width="1.2"/>
<text x="73.80" y="318.00" font-size="16.8" text-anchor="end" fill="#000">1.0</text>
<line x1="469.20" y1="532.40" x2="469.20" y2="538.70" stroke="#1a1a1a" stroke-width="1.2"/>
<text x="469.20" y="557.30" font-size="16.8" text-anchor="middle" fill="#000">10</text>
<text x="277.50" y="581.30" font-size="20.4" text-anchor="middle" fill="#000">Coordinate in Y axis (µm)</text>
<text x="31.70" y="411.00" font-size="20.2" text-anchor="middle" fill="#000" textLength="152" lengthAdjust="spacingAndGlyphs" transform="rotate(-90 31.70 411.00)">Relative damage</text>
<text x="33.00" y="300.00" font-size="32" text-anchor="start" fill="#000" font-weight="bold">e</text>
<line x1="605.60" y1="292.10" x2="988.60" y2="292.10" stroke="#1a1a1a" stroke-width="1.2"/>
<line x1="988.60" y1="292.10" x2="988.60" y2="533.90" stroke="#1a1a1a" stroke-width="1.2"/>
<line x1="605.60" y1="291.50" x2="605.60" y2="534.50" stroke="#1a1a1a" stroke-width="1.2"/>
<line x1="605.00" y1="533.90" x2="989.20" y2="533.90" stroke="#1a1a1a" stroke-width="1.2"/>
<line x1="599.60" y1="533.90" x2="605.60" y2="533.90" stroke="#1a1a1a" stroke-width="1.2"/>
<text x="594.20" y="539.90" font-size="16.8" text-anchor="end" fill="#000">0.0</text>
<line x1="605.60" y1="533.90" x2="605.60" y2="540.20" stroke="#1a1a1a" stroke-width="1.2"/>
<text x="605.60" y="557.30" font-size="16.8" text-anchor="middle" fill="#000">0</text>
<line x1="602.40" y1="511.89" x2="605.60" y2="511.89" stroke="#1a1a1a" stroke-width="1.2"/>
<line x1="643.90" y1="533.90" x2="643.90" y2="537.10" stroke="#1a1a1a" stroke-width="1.2"/>
<line x1="599.60" y1="489.88" x2="605.60" y2="489.88" stroke="#1a1a1a" stroke-width="1.2"/>
<text x="594.20" y="495.88" font-size="16.8" text-anchor="end" fill="#000">0.2</text>
<line x1="682.20" y1="533.90" x2="682.20" y2="540.20" stroke="#1a1a1a" stroke-width="1.2"/>
<text x="682.20" y="557.30" font-size="16.8" text-anchor="middle" fill="#000">2</text>
<line x1="602.40" y1="467.87" x2="605.60" y2="467.87" stroke="#1a1a1a" stroke-width="1.2"/>
<line x1="720.50" y1="533.90" x2="720.50" y2="537.10" stroke="#1a1a1a" stroke-width="1.2"/>
<line x1="599.60" y1="445.86" x2="605.60" y2="445.86" stroke="#1a1a1a" stroke-width="1.2"/>
<text x="594.20" y="451.86" font-size="16.8" text-anchor="end" fill="#000">0.4</text>
<line x1="758.80" y1="533.90" x2="758.80" y2="540.20" stroke="#1a1a1a" stroke-width="1.2"/>
<text x="758.80" y="557.30" font-size="16.8" text-anchor="middle" fill="#000">4</text>
<line x1="602.40" y1="423.85" x2="605.60" y2="423.85" stroke="#1a1a1a" stroke-width="1.2"/>
<line x1="797.10" y1="533.90" x2="797.10" y2="537.10" stroke="#1a1a1a" stroke-width="1.2"/>
<line x1="599.60" y1="401.84" x2="605.60" y2="401.84" stroke="#1a1a1a" stroke-width="1.2"/>
<text x="594.20" y="407.84" font-size="16.8" text-anchor="end" fill="#000">0.6</text>
<line x1="835.40" y1="533.90" x2="835.40" y2="540.20" stroke="#1a1a1a" stroke-width="1.2"/>
<text x="835.40" y="557.30" font-size="16.8" text-anchor="middle" fill="#000">6</text>
<line x1="602.40" y1="379.83" x2="605.60" y2="379.83" stroke="#1a1a1a" stroke-width="1.2"/>
<line x1="873.70" y1="533.90" x2="873.70" y2="537.10" stroke="#1a1a1a" stroke-width="1.2"/>
<line x1="599.60" y1="357.82" x2="605.60" y2="357.82" stroke="#1a1a1a" stroke-width="1.2"/>
<text x="594.20" y="363.82" font-size="16.8" text-anchor="end" fill="#000">0.8</text>
<line x1="912.00" y1="533.90" x2="912.00" y2="540.20" stroke="#1a1a1a" stroke-width="1.2"/>
<text x="912.00" y="557.30" font-size="16.8" text-anchor="middle" fill="#000">8</text>
<line x1="602.40" y1="335.81" x2="605.60" y2="335.81" stroke="#1a1a1a" stroke-width="1.2"/>
<line x1="950.30" y1="533.90" x2="950.30" y2="537.10" stroke="#1a1a1a" stroke-width="1.2"/>
<line x1="599.60" y1="313.80" x2="605.60" y2="313.80" stroke="#1a1a1a" stroke-width="1.2"/>
<text x="594.20" y="319.80" font-size="16.8" text-anchor="end" fill="#000">1.0</text>
<line x1="988.60" y1="533.90" x2="988.60" y2="540.20" stroke="#1a1a1a" stroke-width="1.2"/>
<text x="988.60" y="557.30" font-size="16.8" text-anchor="middle" fill="#000">10</text>
<text x="797.40" y="581.30" font-size="20.4" text-anchor="middle" fill="#000">Coordinate in Y axis (µm)</text>
<text x="551.40" y="412.80" font-size="20.2" text-anchor="middle" fill="#000" textLength="152" lengthAdjust="spacingAndGlyphs" transform="rotate(-90 551.40 412.80)">Relative damage</text>
<text x="554.50" y="299.50" font-size="32" text-anchor="start" fill="#000" font-weight="bold">f</text>
<linearGradient id="ge"><stop offset="0" stop-color="#f8142c"/><stop offset="0.25" stop-color="#f25a40"/><stop offset="0.42" stop-color="#f08a3a"/><stop offset="0.55" stop-color="#f0b430"/><stop offset="0.65" stop-color="#e0c030"/><stop offset="0.85" stop-color="#b8c030"/><stop offset="1" stop-color="#6e8a3a"/></linearGradient>
<rect x="141.7" y="497.8" width="113.1" height="9.1" fill="url(#ge)"/>
<text x="194.00" y="490.30" font-size="12.6" text-anchor="middle" fill="#000">AR</text>
<text x="141.00" y="527.00" font-size="16" text-anchor="middle" fill="#000">0.2</text>
<text x="255.00" y="527.00" font-size="16" text-anchor="middle" fill="#000">1.0</text>
<linearGradient id="gf"><stop offset="0" stop-color="#b41e23"/><stop offset="0.12" stop-color="#d73228"/><stop offset="0.25" stop-color="#f06e46"/><stop offset="0.35" stop-color="#faaa64"/><stop offset="0.42" stop-color="#fcdc8c"/><stop offset="0.58" stop-color="#e1f0f5"/><stop offset="0.7" stop-color="#a0c8e1"/><stop offset="0.8" stop-color="#6496c8"/><stop offset="0.9" stop-color="#3c64aa"/><stop offset="1" stop-color="#284682"/></linearGradient>
<rect x="623.8" y="319.9" width="133.4" height="11" fill="url(#gf)"/>
<text x="687.60" y="311.50" font-size="12.8" text-anchor="middle" fill="#000">AR</text>
<text x="623.60" y="353.60" font-size="18.5" text-anchor="middle" fill="#000">1.5</text>
<text x="755.60" y="353.60" font-size="18.5" text-anchor="middle" fill="#000">5.0</text>
</svg></body></html>
